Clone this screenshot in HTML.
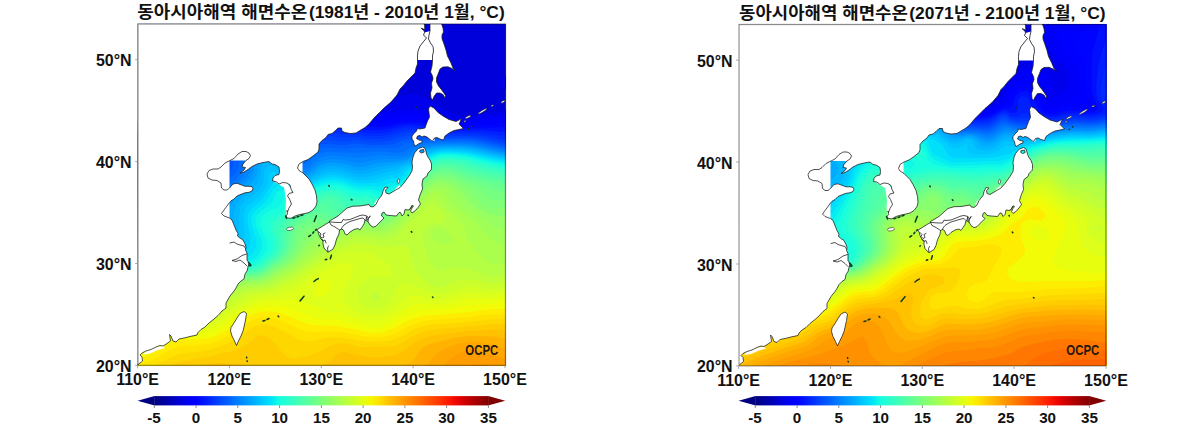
<!DOCTYPE html>
<html lang="ko"><head><meta charset="utf-8"><title>동아시아해역 해면수온</title>
<style>html,body{margin:0;padding:0;background:#fff}svg{display:block}text{font-family:"Liberation Sans","Noto Sans CJK KR",sans-serif;font-weight:bold;fill:#111}</style></head>
<body>
<svg width="1200" height="431" viewBox="0 0 1200 431">
<rect width="1200" height="431" fill="#fff"/>
<defs><clipPath id="cl"><rect x="137.5" y="23.7" width="368.4" height="341.7"/></clipPath><clipPath id="cr"><rect x="739.1" y="24.2" width="367.2" height="341.3"/></clipPath></defs>
<g clip-path="url(#cl)">
<rect x="137.5" y="23.7" width="368.4" height="341.7" fill="#0000da"/>
<g transform="scale(0.1)">
<path d="M5055 755l40-28 0 30 0 40 0 40 0 40 0 40 0 18-14-18-26-25-28-15-12-18-11-22 9-40 2-3 37-37zM2695 796l40-5 40 0 40 3 19 3 21 3 40 7 40 8 40 9 40 10 10 3 30 8 40 12 40 12 26 8 14 4 40 13 40 14 25 9 15 5 40 16 40 16 6 3 34 15 40 18 17 7 23 10 40 15 40 13 7 2 33 8 40 8 40 5 40 2 40-1 40-7 40-11 11-4 29-12 40-17 28-11 12-6 40-19 31-15 9-5 40-13 40-2 40 8 27 12 13 5 40 21 24 14 16 7 40 22 15 11 25 13 37 27 3 2 40 25 18 13 22 11 40 18 33 11 7 1 40 4 40-1 37-4 3 0 40-8 40-7 40-6 40-4 40-2 40-3 40-5 27-5 13-4 40-20 20-16 20-33 0 33 0 40 0 40 0 40 0 40 0 40 0 40 0 40 0 40 0 40 0 40 0 40 0 40 0 40 0 40 0 40 0 40 0 40 0 40 0 40 0 40 0 40 0 40 0 40 0 40 0 40 0 40 0 40 0 40 0 40 0 40 0 40 0 40 0 40 0 40 0 40 0 40 0 40 0 40 0 40 0 40 0 40 0 40 0 40 0 40 0 40 0 40 0 40 0 40 0 40 0 40 0 40 0 40 0 40 0 40 0 40 0 40 0 40 0 40 0 40 0 40 0 40 0 40 0 40 0 40 0 40-40 0-40 0-40 0-40 0-40 0-40 0-40 0-40 0-40 0-40 0-40 0-40 0-40 0-40 0-40 0-40 0-40 0-40 0-40 0-40 0-40 0-40 0-40 0-40 0-40 0-40 0-40 0-40 0-40 0-40 0-40 0-40 0-40 0-40 0-40 0-40 0-40 0-40 0-40 0-40 0-40 0-40 0-40 0-40 0-40 0-40 0-40 0-40 0-40 0-40 0-40 0-40 0-40 0-40 0-40 0-40 0-40 0-40 0-40 0-40 0-40 0-40 0-40 0-40 0-40 0-40 0-40 0-40 0-40 0-40 0-40 0-40 0-40 0-40 0-40 0-40 0-40 0-40 0-40 0-40 0-40 0-40 0-40 0-40 0-40 0-40 0-40 0-40 0-40 0-40 0-40 0-40 0-40 0-40 0 0-40 0-40 0-40 0-40 0-40 0-40 0-40 0-40 0-40 0-40 0-40 0-40 0-40 0-40 0-40 0-40 0-40 0-40 0-40 0-40 0-40 0-40 0-40 0-40 0-40 0-40 0-40 0-40 0-40 0-40 0-40 0-40 0-40 0-40 0-40 0-40 0-40 0-40 0-40 0-40 0-40 0-40 0-40 0-40 0-40 0-40 0-40 0-40 0-40 0-40 0-40 0-40 0-40 0-40 0-40 0-40 0-40 0-40 0-40 0-40 0-39 4-1 36-10 40-11 40-11 27-8 13-4 40-13 40-14 25-9 15-6 40-15 40-17 4-2 36-16 40-19 11-5 29-14 40-19 14-7 26-13 40-19 16-8 24-12 40-18 21-10 19-8 40-17 36-15 4-2 40-14 40-14 32-10 8-3 40-11 40-9 40-8 40-7 14-2 26-4 40-4 40-4 40-4 40-7 40-10 34-7z" fill="#0000ed"/>
<path d="M2655 871l40-9 40-5 40-1 40 4 40 5 40 8 17 4 23 5 40 11 40 11 40 12 2 1 38 12 40 13 40 14 3 1 37 12 40 14 38 14 2 1 40 14 40 16 22 9 18 7 40 16 40 17 1 0 39 14 40 13 40 12 5 1 35 7 40 7 40 4 40 2 40-1 40-5 40-9 17-5 23-8 40-6 40 2 40 5 40-3 40-9 40-5 40 1 40 5 40 10 23 8 17 5 40 14 40 17 7 4 33 12 40 14 40 11 16 3 24 3 40 1 40-1 40-3 2 0 38-5 40-6 40-6 40-5 40-4 40-3 40-4 40-6 3-1 37-10 40-17 0 27 0 40 0 40 0 40 0 40 0 40 0 40 0 40 0 40 0 40 0 40 0 40 0 40 0 40 0 40 0 40 0 40 0 40 0 40 0 40 0 40 0 40 0 40 0 40 0 40 0 40 0 40 0 40 0 40 0 40 0 40 0 40 0 40 0 40 0 40 0 40 0 40 0 40 0 40 0 40 0 40 0 40 0 40 0 40 0 40 0 40 0 40 0 40 0 40 0 40 0 40 0 40 0 40 0 40 0 40 0 40 0 40 0 40 0 40 0 40 0 40 0 40 0 40 0 40-40 0-40 0-40 0-40 0-40 0-40 0-40 0-40 0-40 0-40 0-40 0-40 0-40 0-40 0-40 0-40 0-40 0-40 0-40 0-40 0-40 0-40 0-40 0-40 0-40 0-40 0-40 0-40 0-40 0-40 0-40 0-40 0-40 0-40 0-40 0-40 0-40 0-40 0-40 0-40 0-40 0-40 0-40 0-40 0-40 0-40 0-40 0-40 0-40 0-40 0-40 0-40 0-40 0-40 0-40 0-40 0-40 0-40 0-40 0-40 0-40 0-40 0-40 0-40 0-40 0-40 0-40 0-40 0-40 0-40 0-40 0-40 0-40 0-40 0-40 0-40 0-40 0-40 0-40 0-40 0-40 0-40 0-40 0-40 0-40 0-40 0-40 0-40 0-40 0-40 0-40 0-40 0-40 0-40 0 0-40 0-40 0-40 0-40 0-40 0-40 0-40 0-40 0-40 0-40 0-40 0-40 0-40 0-40 0-40 0-40 0-40 0-40 0-40 0-40 0-40 0-40 0-40 0-40 0-40 0-40 0-40 0-40 0-40 0-40 0-40 0-40 0-40 0-40 0-40 0-40 0-40 0-40 0-40 0-40 0-40 0-40 0-40 0-40 0-40 0-40 0-40 0-40 0-40 0-40 0-40 0-40 0-40 0-40 0-40 0-40 0-40 0-40 0-34 26-6 14-3 40-9 40-10 40-11 23-7 17-5 40-13 40-14 19-8 21-8 40-17 33-15 7-3 40-19 35-18 5-2 40-21 31-17 9-5 40-21 26-14 14-8 40-21 22-11 18-9 40-19 25-12 15-7 40-17 40-15 2-1 38-13 40-13 40-11 13-3 27-6 40-8 40-6 40-5 40-4 40-4 40-5 11-2z" fill="#0000fa"/>
<path d="M2495 953l40-5 40-3 40-4 40-6 40-8 40-7 40-1 40 3 40 6 40 8 40 10 37 11 3 1 40 12 40 13 40 13 2 1 38 13 40 14 38 13 2 1 40 13 40 14 35 12 5 2 40 13 40 14 28 11 12 4 40 14 40 13 28 9 12 3 40 11 40 8 40 7 40 4 40 2 40 0 40-3 40-5 40-11 40-7 40-3 40 1 40-2 40-5 6 0 34-4 40 1 27 3 13 1 40 7 40 10 40 12 27 10 13 4 40 11 40 10 40 7 40 3 40 1 40-2 40-3 40-3 40-4 40-5 40-5 40-4 40-3 40-4 20-3 20-3 40-8 40-10 0 21 0 40 0 40 0 40 0 40 0 40 0 40 0 40 0 40 0 40 0 40 0 40 0 40 0 40 0 40 0 40 0 40 0 40 0 40 0 40 0 40 0 40 0 40 0 40 0 40 0 40 0 40 0 40 0 40 0 40 0 40 0 40 0 40 0 40 0 40 0 40 0 40 0 40 0 40 0 40 0 40 0 40 0 40 0 40 0 40 0 40 0 40 0 40 0 40 0 40 0 40 0 40 0 40 0 40 0 40 0 40 0 40 0 40 0 40 0 40 0 40 0 40 0 40-40 0-40 0-40 0-40 0-40 0-40 0-40 0-40 0-40 0-40 0-40 0-40 0-40 0-40 0-40 0-40 0-40 0-40 0-40 0-40 0-40 0-40 0-40 0-40 0-40 0-40 0-40 0-40 0-40 0-40 0-40 0-40 0-40 0-40 0-40 0-40 0-40 0-40 0-40 0-40 0-40 0-40 0-40 0-40 0-40 0-40 0-40 0-40 0-40 0-40 0-40 0-40 0-40 0-40 0-40 0-40 0-40 0-40 0-40 0-40 0-40 0-40 0-40 0-40 0-40 0-40 0-40 0-40 0-40 0-40 0-40 0-40 0-40 0-40 0-40 0-40 0-40 0-40 0-40 0-40 0-40 0-40 0-40 0-40 0-40 0-40 0-40 0-40 0-40 0-40 0-40 0-40 0-40 0-40 0 0-40 0-40 0-40 0-40 0-40 0-40 0-40 0-40 0-40 0-40 0-40 0-40 0-40 0-40 0-40 0-40 0-40 0-40 0-40 0-40 0-40 0-40 0-40 0-40 0-40 0-40 0-40 0-40 0-40 0-40 0-40 0-40 0-40 0-40 0-40 0-40 0-40 0-40 0-40 0-40 0-40 0-40 0-40 0-40 0-40 0-40 0-40 0-40 0-40 0-40 0-40 0-40 0-40 0-40 0-40 0-40 0-30 40-7 13-3 27-5 40-9 40-9 40-11 20-6 20-6 40-13 40-15 16-6 24-10 40-18 26-12 14-7 40-21 22-12 18-10 40-23 12-7 28-16 39-24 1 0 40-24 27-16 13-7 40-23 19-10 21-11 40-19 21-10 19-8 40-16 40-15 3-1 37-12 40-11 40-9 40-7 9-1z" fill="#0000ff"/>
<path d="M2655 995l40-7 40-7 40-2 40 3 40 6 40 9 40 11 40 11 40 13 13 5 27 9 40 13 40 14 11 4 29 9 40 13 40 13 14 5 26 8 40 12 40 12 24 8 16 5 40 12 40 11 40 12 40 10 40 10 40 8 40 5 40 3 40 1 40-1 40-3 40-6 40-9 40-9 40-6 40-2 15-1 25-2 40-2 40-1 40 3 17 2 23 3 40 7 40 9 40 10 39 11 1 0 40 9 40 7 40 4 40 2 40 0 40-2 40-2 40-2 40-2 40-3 40-3 40-4 40-2 32-2 8-1 40-6 40-6 40-6 0 19 0 40 0 40 0 40 0 40 0 40 0 40 0 40 0 40 0 40 0 40 0 40 0 40 0 40 0 40 0 40 0 40 0 40 0 40 0 40 0 40 0 40 0 40 0 40 0 40 0 40 0 40 0 40 0 40 0 40 0 40 0 40 0 40 0 40 0 40 0 40 0 40 0 40 0 40 0 40 0 40 0 40 0 40 0 40 0 40 0 40 0 40 0 40 0 40 0 40 0 40 0 40 0 40 0 40 0 40 0 40 0 40 0 40 0 40 0 40 0 40 0 40-40 0-40 0-40 0-40 0-40 0-40 0-40 0-40 0-40 0-40 0-40 0-40 0-40 0-40 0-40 0-40 0-40 0-40 0-40 0-40 0-40 0-40 0-40 0-40 0-40 0-40 0-40 0-40 0-40 0-40 0-40 0-40 0-40 0-40 0-40 0-40 0-40 0-40 0-40 0-40 0-40 0-40 0-40 0-40 0-40 0-40 0-40 0-40 0-40 0-40 0-40 0-40 0-40 0-40 0-40 0-40 0-40 0-40 0-40 0-40 0-40 0-40 0-40 0-40 0-40 0-40 0-40 0-40 0-40 0-40 0-40 0-40 0-40 0-40 0-40 0-40 0-40 0-40 0-40 0-40 0-40 0-40 0-40 0-40 0-40 0-40 0-40 0-40 0-40 0-40 0-40 0-40 0-40 0-40 0 0-40 0-40 0-40 0-40 0-40 0-40 0-40 0-40 0-40 0-40 0-40 0-40 0-40 0-40 0-40 0-40 0-40 0-40 0-40 0-40 0-40 0-40 0-40 0-40 0-40 0-40 0-40 0-40 0-40 0-40 0-40 0-40 0-40 0-40 0-40 0-40 0-40 0-40 0-40 0-40 0-40 0-40 0-40 0-40 0-40 0-40 0-40 0-40 0-40 0-40 0-40 0-40 0-40 0-40 0-28 40-6 39-6 1 0 40-7 40-8 40-9 40-11 19-5 21-6 40-13 40-15 14-6 26-11 40-18 21-11 19-10 40-22 13-8 27-16 37-24 3-2 40-27 16-11 24-16 36-24 4-2 40-26 19-12 21-12 40-23 8-5 32-16 40-19 11-5 29-12 40-15 40-13 1 0 39-10 40-9 40-7 40-4 40-4 40-3 25-3z" fill="#0004ff"/>
<path d="M2455 1076l40-7 40-6 40-4 40-3 40-4 40-5 40-6 40-3 40 2 40 6 40 9 40 11 33 11 7 2 40 13 40 14 32 11 8 3 40 12 40 13 40 12 40 11 40 11 40 11 24 7 16 4 40 10 40 10 40 9 29 7 11 2 40 9 40 8 40 8 40 4 40 2 40-1 40-2 40-4 40-6 40-9 40-10 5-1 35-7 40-5 40-2 40-1 40 2 40 4 40 6 14 3 26 5 40 7 40 9 40 9 40 8 15 2 25 3 40 3 40 0 40 0 40-2 40-1 40-1 40-1 40-1 4 0 36-1 40 0 40 1 40-1 40-4 40-6 40-4 0 15 0 40 0 40 0 40 0 40 0 40 0 40 0 40 0 40 0 40 0 40 0 40 0 40 0 40 0 40 0 40 0 40 0 40 0 40 0 40 0 40 0 40 0 40 0 40 0 40 0 40 0 40 0 40 0 40 0 40 0 40 0 40 0 40 0 40 0 40 0 40 0 40 0 40 0 40 0 40 0 40 0 40 0 40 0 40 0 40 0 40 0 40 0 40 0 40 0 40 0 40 0 40 0 40 0 40 0 40 0 40 0 40 0 40 0 40 0 40 0 40-40 0-40 0-40 0-40 0-40 0-40 0-40 0-40 0-40 0-40 0-40 0-40 0-40 0-40 0-40 0-40 0-40 0-40 0-40 0-40 0-40 0-40 0-40 0-40 0-40 0-40 0-40 0-40 0-40 0-40 0-40 0-40 0-40 0-40 0-40 0-40 0-40 0-40 0-40 0-40 0-40 0-40 0-40 0-40 0-40 0-40 0-40 0-40 0-40 0-40 0-40 0-40 0-40 0-40 0-40 0-40 0-40 0-40 0-40 0-40 0-40 0-40 0-40 0-40 0-40 0-40 0-40 0-40 0-40 0-40 0-40 0-40 0-40 0-40 0-40 0-40 0-40 0-40 0-40 0-40 0-40 0-40 0-40 0-40 0-40 0-40 0-40 0-40 0-40 0-40 0-40 0-40 0-40 0-40 0 0-40 0-40 0-40 0-40 0-40 0-40 0-40 0-40 0-40 0-40 0-40 0-40 0-40 0-40 0-40 0-40 0-40 0-40 0-40 0-40 0-40 0-40 0-40 0-40 0-40 0-40 0-40 0-40 0-40 0-40 0-40 0-40 0-40 0-40 0-40 0-40 0-40 0-40 0-40 0-40 0-40 0-40 0-40 0-40 0-40 0-40 0-40 0-40 0-40 0-40 0-40 0-40 0-28 40-5 40-5 15-2 25-4 40-6 40-7 40-9 40-9 17-5 23-7 40-12 40-15 15-6 25-11 40-19 19-10 21-11 40-24 7-5 33-22 25-18 15-11 39-29 1-1 40-30 11-9 29-22 25-18 15-11 40-27 3-2 37-23 30-17 10-5 40-20 33-15 7-3 40-15 40-13 38-9z" fill="#0010ff"/>
<path d="M2575 1113l40-3 40-3 40-4 40-5 40-4 40 2 40 6 40 10 18 5 22 7 40 13 40 14 19 6 21 7 40 13 40 12 28 8 12 3 40 10 40 10 40 10 30 7 10 2 40 9 40 9 40 7 40 6 40 7 1 0 39 7 40 7 40 8 40 3 40 0 40-1 40-2 40-5 40-7 40-9 2-1 38-11 40-9 40-6 40-3 40 2 40 3 40 5 40 7 40 7 28 5 12 2 40 7 40 7 40 6 40 4 40 2 40-1 40 0 40-2 40 0 40 0 40 0 40 1 40 2 40 4 40 4 38 4 2 0 40 1 13-1 27-3 40-7 0 10 0 40 0 40 0 40 0 40 0 40 0 40 0 40 0 40 0 40 0 40 0 40 0 40 0 40 0 40 0 40 0 40 0 40 0 40 0 40 0 40 0 40 0 40 0 40 0 40 0 40 0 40 0 40 0 40 0 40 0 40 0 40 0 40 0 40 0 40 0 40 0 40 0 40 0 40 0 40 0 40 0 40 0 40 0 40 0 40 0 40 0 40 0 40 0 40 0 40 0 40 0 40 0 40 0 40 0 40 0 40 0 40 0 40 0 40 0 40-40 0-40 0-40 0-40 0-40 0-40 0-40 0-40 0-40 0-40 0-40 0-40 0-40 0-40 0-40 0-40 0-40 0-40 0-40 0-40 0-40 0-40 0-40 0-40 0-40 0-40 0-40 0-40 0-40 0-40 0-40 0-40 0-40 0-40 0-40 0-40 0-40 0-40 0-40 0-40 0-40 0-40 0-40 0-40 0-40 0-40 0-40 0-40 0-40 0-40 0-40 0-40 0-40 0-40 0-40 0-40 0-40 0-40 0-40 0-40 0-40 0-40 0-40 0-40 0-40 0-40 0-40 0-40 0-40 0-40 0-40 0-40 0-40 0-40 0-40 0-40 0-40 0-40 0-40 0-40 0-40 0-40 0-40 0-40 0-40 0-40 0-40 0-40 0-40 0-40 0-40 0-40 0-40 0-40 0 0-40 0-40 0-40 0-40 0-40 0-40 0-40 0-40 0-40 0-40 0-40 0-40 0-40 0-40 0-40 0-40 0-40 0-40 0-40 0-40 0-40 0-40 0-40 0-40 0-40 0-40 0-40 0-40 0-40 0-40 0-40 0-40 0-40 0-40 0-40 0-40 0-40 0-40 0-40 0-40 0-40 0-40 0-40 0-40 0-40 0-40 0-40 0-40 0-40 0-40 0-32 40-3 40-4 11-1 29-3 40-5 40-6 40-6 40-8 40-9 12-3 28-7 40-13 40-14 16-6 24-10 40-19 20-11 20-11 40-26 5-3 35-26 18-14 22-18 26-22 14-12 31-28 9-8 37-32 3-2 40-33 6-5 34-26 20-14 20-13 40-24 5-3 35-18 40-18 9-4 31-11 40-12 40-10 40-7 3 0z" fill="#0020ff"/>
<path d="M2695 1157l40-4 40-4 40 1 40 7 1 0 39 10 40 13 40 14 10 3 30 11 40 13 40 12 14 4 26 7 40 9 40 8 40 8 40 8 1 0 39 7 40 8 40 7 40 5 40 3 40 4 40 5 6 1 34 6 40 7 40 2 40 1 40-1 40-3 40-5 35-7 5-1 40-10 40-11 40-11 32-7 8-1 40-3 40 3 7 1 33 4 40 6 40 6 40 5 40 6 40 7 40 6 2 0 38 4 40 3 40 1 40-1 40-1 40 0 40 0 40 0 40 2 40 3 40 4 40 6 40 7 40 8 28 4 12 1 40-1 40-9 0 9 0 40 0 40 0 40 0 40 0 40 0 40 0 40 0 40 0 40 0 40 0 40 0 40 0 40 0 40 0 40 0 40 0 40 0 40 0 40 0 40 0 40 0 40 0 40 0 40 0 40 0 40 0 40 0 40 0 40 0 40 0 40 0 40 0 40 0 40 0 40 0 40 0 40 0 40 0 40 0 40 0 40 0 40 0 40 0 40 0 40 0 40 0 40 0 40 0 40 0 40 0 40 0 40 0 40 0 40 0 40 0 40 0 40 0 40-40 0-40 0-40 0-40 0-40 0-40 0-40 0-40 0-40 0-40 0-40 0-40 0-40 0-40 0-40 0-40 0-40 0-40 0-40 0-40 0-40 0-40 0-40 0-40 0-40 0-40 0-40 0-40 0-40 0-40 0-40 0-40 0-40 0-40 0-40 0-40 0-40 0-40 0-40 0-40 0-40 0-40 0-40 0-40 0-40 0-40 0-40 0-40 0-40 0-40 0-40 0-40 0-40 0-40 0-40 0-40 0-40 0-40 0-40 0-40 0-40 0-40 0-40 0-40 0-40 0-40 0-40 0-40 0-40 0-40 0-40 0-40 0-40 0-40 0-40 0-40 0-40 0-40 0-40 0-40 0-40 0-40 0-40 0-40 0-40 0-40 0-40 0-40 0-40 0-40 0-40 0-40 0-40 0-40 0 0-40 0-40 0-40 0-40 0-40 0-40 0-40 0-40 0-40 0-40 0-40 0-40 0-40 0-40 0-40 0-40 0-40 0-40 0-40 0-40 0-40 0-40 0-40 0-40 0-40 0-40 0-40 0-40 0-40 0-40 0-40 0-40 0-40 0-40 0-40 0-40 0-40 0-40 0-40 0-40 0-40 0-40 0-40 0-40 0-40 0-40 0-40 0-40 0-39 25-1 15-1 40-3 40-3 40-3 40-5 40-5 40-5 40-7 39-8 1 0 40-10 40-11 40-13 15-6 25-10 40-19 22-11 18-10 40-26 6-4 34-26 15-14 25-22 18-18 22-22 17-18 23-23 15-17 25-24 16-16 24-22 20-18 20-16 31-24 9-6 40-26 13-8 27-14 40-18 20-8 20-7 40-12 40-8 40-6 40-3 40-2 32-2z" fill="#002cff"/>
<path d="M2495 1232l40-10 40-7 40-4 40-3 40-1 40-2 40-2 40 1 40 7 40 10 40 14 5 2 35 13 40 15 36 12 4 1 40 11 40 8 40 6 40 6 40 5 16 3 24 3 40 7 40 6 40 6 40 3 40 0 40 0 40 3 40 6 36 6 4 1 40 3 40 1 40-1 40-3 9-1 31-4 40-7 40-11 40-12 19-6 21-6 40-9 40-2 40 3 40 6 40 5 23 3 17 2 40 4 40 5 40 4 40 5 40 4 40 2 40 0 40-1 40-1 40 0 40 0 40 2 40 4 40 5 33 5 7 1 40 7 40 8 40 9 40 8 40-1 40-8 0 16 0 40 0 40 0 40 0 40 0 40 0 40 0 40 0 40 0 40 0 40 0 40 0 40 0 40 0 40 0 40 0 40 0 40 0 40 0 40 0 40 0 40 0 40 0 40 0 40 0 40 0 40 0 40 0 40 0 40 0 40 0 40 0 40 0 40 0 40 0 40 0 40 0 40 0 40 0 40 0 40 0 40 0 40 0 40 0 40 0 40 0 40 0 40 0 40 0 40 0 40 0 40 0 40 0 40 0 40 0 40 0 40 0 40-40 0-40 0-40 0-40 0-40 0-40 0-40 0-40 0-40 0-40 0-40 0-40 0-40 0-40 0-40 0-40 0-40 0-40 0-40 0-40 0-40 0-40 0-40 0-40 0-40 0-40 0-40 0-40 0-40 0-40 0-40 0-40 0-40 0-40 0-40 0-40 0-40 0-40 0-40 0-40 0-40 0-40 0-40 0-40 0-40 0-40 0-40 0-40 0-40 0-40 0-40 0-40 0-40 0-40 0-40 0-40 0-40 0-40 0-40 0-40 0-40 0-40 0-40 0-40 0-40 0-40 0-40 0-40 0-40 0-40 0-40 0-40 0-40 0-40 0-40 0-40 0-40 0-40 0-40 0-40 0-40 0-40 0-40 0-40 0-40 0-40 0-40 0-40 0-40 0-40 0-40 0-40 0-40 0-40 0 0-40 0-40 0-40 0-40 0-40 0-40 0-40 0-40 0-40 0-40 0-40 0-40 0-40 0-40 0-40 0-40 0-40 0-40 0-40 0-40 0-40 0-40 0-40 0-40 0-40 0-40 0-40 0-40 0-40 0-40 0-40 0-40 0-40 0-40 0-40 0-40 0-40 0-40 0-40 0-40 0-40 0-40 0-40 0-40 0-40 0-40 0-40 0-9 40-1 40-2 40-2 40-3 40-3 40-3 40-5 40-5 40-6 7-1 33-6 40-9 40-11 40-12 5-2 35-13 40-17 19-10 21-11 40-25 6-4 34-26 16-14 24-23 16-17 24-28 9-12 31-38 1-2 32-40 7-7 28-33 12-12 28-28 12-11 35-29 5-3 40-28 16-9 24-13 40-18 25-9z" fill="#0038ff"/>
<path d="M2535 1272l40-9 40-5 40-2 40 0 40-1 40 0 40 2 40 7 40 12 3 1 37 14 40 17 23 9 17 7 40 13 40 8 40 5 40 2 40 3 30 2 10 1 40 4 40 5 40 5 40 5 40 1 40-2 40-3 40 0 40 5 40 7 40 4 40 1 40 0 40-2 40-4 40-7 40-11 27-9 13-4 40-13 40-10 40-2 40 3 40 5 40 4 40 3 40 3 40 4 40 3 40 4 40 3 40 2 40-1 40-1 40-1 40 0 40 1 40 2 40 4 40 6 40 8 40 8 37 9 3 1 40 8 40 7 40 1 40-6 0 29 0 40 0 40 0 40 0 40 0 40 0 40 0 40 0 40 0 40 0 40 0 40 0 40 0 40 0 40 0 40 0 40 0 40 0 40 0 40 0 40 0 40 0 40 0 40 0 40 0 40 0 40 0 40 0 40 0 40 0 40 0 40 0 40 0 40 0 40 0 40 0 40 0 40 0 40 0 40 0 40 0 40 0 40 0 40 0 40 0 40 0 40 0 40 0 40 0 40 0 40 0 40 0 40 0 40 0 40 0 40 0 40-40 0-40 0-40 0-40 0-40 0-40 0-40 0-40 0-40 0-40 0-40 0-40 0-40 0-40 0-40 0-40 0-40 0-40 0-40 0-40 0-40 0-40 0-40 0-40 0-40 0-40 0-40 0-40 0-40 0-40 0-40 0-40 0-40 0-40 0-40 0-40 0-40 0-40 0-40 0-40 0-40 0-40 0-40 0-40 0-40 0-40 0-40 0-40 0-40 0-40 0-40 0-40 0-40 0-40 0-40 0-40 0-40 0-40 0-40 0-40 0-40 0-40 0-40 0-40 0-40 0-40 0-40 0-40 0-40 0-40 0-40 0-40 0-40 0-40 0-40 0-40 0-40 0-40 0-40 0-40 0-40 0-40 0-40 0-40 0-40 0-40 0-40 0-40 0-40 0-40 0-40 0-40 0-40 0-40 0 0-40 0-40 0-40 0-40 0-40 0-40 0-40 0-40 0-40 0-40 0-40 0-40 0-40 0-40 0-40 0-40 0-40 0-40 0-40 0-40 0-40 0-40 0-40 0-40 0-40 0-40 0-40 0-40 0-40 0-40 0-40 0-40 0-40 0-40 0-40 0-40 0-40 0-40 0-40 0-40 0-40 0-40 0-40 0-40 0-40 0-22 40-1 40-1 40-2 40-1 40-2 40-3 40-3 40-3 14-2 26-3 40-6 40-7 40-8 40-11 18-5 22-7 40-14 40-17 4-2 36-18 40-22 40-28 16-12 24-22 18-18 22-27 9-13 25-40 6-9 19-31 21-31 6-9 30-40 4-4 31-36 9-8 35-32 5-4 40-28 13-8 27-15 40-17 24-8z" fill="#0044ff"/>
<path d="M2575 1311l40-7 40-2 40 0 40 1 40 2 40 4 39 8 1 0 40 14 40 18 17 8 23 12 40 18 35 10 5 2 40 5 40-1 40-2 40-2 40 0 40 3 40 4 40 4 40 3 40 0 40-3 40-5 40-3 40 5 40 7 40 4 40 1 40 0 40-1 40-3 40-5 40-10 8-3 32-10 40-15 40-10 40-3 40 2 40 3 40 2 40 1 40 1 40 2 40 2 40 2 40 2 40 2 40-1 40-2 40-1 40 0 40 2 40 3 40 6 40 8 21 4 19 4 40 7 40 9 40 10 40 8 40 1 40-5 0 6 0 40 0 40 0 40 0 40 0 40 0 40 0 40 0 40 0 40 0 40 0 40 0 40 0 40 0 40 0 40 0 40 0 40 0 40 0 40 0 40 0 40 0 40 0 40 0 40 0 40 0 40 0 40 0 40 0 40 0 40 0 40 0 40 0 40 0 40 0 40 0 40 0 40 0 40 0 40 0 40 0 40 0 40 0 40 0 40 0 40 0 40 0 40 0 40 0 40 0 40 0 40 0 40 0 40 0 40 0 40 0 40-40 0-40 0-40 0-40 0-40 0-40 0-40 0-40 0-40 0-40 0-40 0-40 0-40 0-40 0-40 0-40 0-40 0-40 0-40 0-40 0-40 0-40 0-40 0-40 0-40 0-40 0-40 0-40 0-40 0-40 0-40 0-40 0-40 0-40 0-40 0-40 0-40 0-40 0-40 0-40 0-40 0-40 0-40 0-40 0-40 0-40 0-40 0-40 0-40 0-40 0-40 0-40 0-40 0-40 0-40 0-40 0-40 0-40 0-40 0-40 0-40 0-40 0-40 0-40 0-40 0-40 0-40 0-40 0-40 0-40 0-40 0-40 0-40 0-40 0-40 0-40 0-40 0-40 0-40 0-40 0-40 0-40 0-40 0-40 0-40 0-40 0-40 0-40 0-40 0-40 0-40 0-40 0-40 0-40 0 0-40 0-40 0-40 0-40 0-40 0-40 0-40 0-40 0-40 0-40 0-40 0-40 0-40 0-40 0-40 0-40 0-40 0-40 0-40 0-40 0-40 0-40 0-40 0-40 0-40 0-40 0-40 0-40 0-40 0-40 0-40 0-40 0-40 0-40 0-40 0-40 0-40 0-40 0-40 0-40 0-40 0-40 0-40 0-39 40-1 27 0 13 0 40-1 40-1 40-1 40-2 40-2 40-3 40-3 40-5 40-5 40-7 40-8 6-2 34-9 40-13 40-14 8-4 32-14 40-20 11-6 29-16 39-24 1-1 40-29 13-10 27-26 13-14 24-40 3-6 14-34 19-40 7-13 14-27 26-40 31-40 9-10 30-30 10-8 40-30 4-2 36-19 40-16 17-5z" fill="#0050ff"/>
<path d="M2615 1349l40-4 40 1 40 3 40 4 22 4 18 3 40 11 40 17 17 9 23 13 40 25 3 2 37 21 40 11 40-2 40-8 40-10 40-7 40-3 40 1 40 4 40 3 40 2 40 0 40-3 40-6 24-3 16-1 21 1 19 2 40 6 40 4 40 1 40-1 40 0 40-1 40-3 40-6 7-2 33-11 40-18 35-11 5-1 40-3 40 0 40-1 40-1 40-2 40-1 40 1 40 1 40 1 40 1 40 1 40-1 40-1 40-1 40 0 40 3 40 4 2 0 38 6 40 7 40 8 40 9 40 10 1 0 39 9 40 6 40 2 40-3 0 26 0 40 0 40 0 40 0 40 0 40 0 40 0 40 0 40 0 40 0 40 0 40 0 40 0 40 0 40 0 40 0 40 0 40 0 40 0 40 0 40 0 40 0 40 0 40 0 40 0 40 0 40 0 40 0 40 0 40 0 40 0 40 0 40 0 40 0 40 0 40 0 40 0 40 0 40 0 40 0 40 0 40 0 40 0 40 0 40 0 40 0 40 0 40 0 40 0 40 0 40 0 40 0 40 0 40 0 40 0 40-40 0-40 0-40 0-40 0-40 0-40 0-40 0-40 0-40 0-40 0-40 0-40 0-40 0-40 0-40 0-40 0-40 0-40 0-40 0-40 0-40 0-40 0-40 0-40 0-40 0-40 0-40 0-40 0-40 0-40 0-40 0-40 0-40 0-40 0-40 0-40 0-40 0-40 0-40 0-40 0-40 0-40 0-40 0-40 0-40 0-40 0-40 0-40 0-40 0-40 0-40 0-40 0-40 0-40 0-40 0-40 0-40 0-40 0-40 0-40 0-40 0-40 0-40 0-40 0-40 0-40 0-40 0-40 0-40 0-40 0-40 0-40 0-40 0-40 0-40 0-40 0-40 0-40 0-40 0-40 0-40 0-40 0-40 0-40 0-40 0-40 0-40 0-40 0-40 0-40 0-40 0-40 0-40 0-40 0 0-40 0-40 0-40 0-40 0-40 0-40 0-40 0-40 0-40 0-40 0-40 0-40 0-40 0-40 0-40 0-40 0-40 0-40 0-40 0-40 0-40 0-40 0-40 0-40 0-40 0-40 0-40 0-40 0-40 0-40 0-40 0-40 0-40 0-40 0-40 0-40 0-40 0-40 0-40 0-40 0-40 0-40 0-19 40-1 40 0 40 0 40-1 40-1 40-1 40-1 40-2 40-3 40-3 40-4 28-4 12-2 40-7 40-9 40-11 32-11 8-3 40-17 40-19 2-1 38-21 33-19 7-4 40-26 16-10 24-17 33-23 7-6 39-34 1-1 25-39 9-40 6-20 5-20 15-40 20-38 1-2 25-40 14-16 21-24 19-17 31-23 9-6 40-20 40-14 1 0z" fill="#0060ff"/>
<path d="M2615 1392l40-4 40 0 40 4 26 5 14 3 40 10 40 14 24 13 16 10 40 30 1 0 39 36 6 4 34 28 40 10 40-17 38-21 2-1 40-18 40-12 40-6 40-1 40 3 40 3 40 2 40 0 40-2 40-4 40-3 40 1 40 2 40 2 40-1 40-1 40 0 40 1 40 1 40 0 40-4 4-2 36-18 36-22 4-1 40-3 40-5 40-7 40-6 40-5 40-3 40-1 40 0 40 0 40 0 40 1 40-1 40-1 40 0 40 0 40 3 40 4 40 7 40 8 40 9 4 1 36 7 40 9 40 9 40 7 40 2 40-2 0 8 0 40 0 40 0 40 0 40 0 40 0 40 0 40 0 40 0 40 0 40 0 40 0 40 0 40 0 40 0 40 0 40 0 40 0 40 0 40 0 40 0 40 0 40 0 40 0 40 0 40 0 40 0 40 0 40 0 40 0 40 0 40 0 40 0 40 0 40 0 40 0 40 0 40 0 40 0 40 0 40 0 40 0 40 0 40 0 40 0 40 0 40 0 40 0 40 0 40 0 40 0 40 0 40 0 40 0 40 0 40-40 0-40 0-40 0-40 0-40 0-40 0-40 0-40 0-40 0-40 0-40 0-40 0-40 0-40 0-40 0-40 0-40 0-40 0-40 0-40 0-40 0-40 0-40 0-40 0-40 0-40 0-40 0-40 0-40 0-40 0-40 0-40 0-40 0-40 0-40 0-40 0-40 0-40 0-40 0-40 0-40 0-40 0-40 0-40 0-40 0-40 0-40 0-40 0-40 0-40 0-40 0-40 0-40 0-40 0-40 0-40 0-40 0-40 0-40 0-40 0-40 0-40 0-40 0-40 0-40 0-40 0-40 0-40 0-40 0-40 0-40 0-40 0-40 0-40 0-40 0-40 0-40 0-40 0-40 0-40 0-40 0-40 0-40 0-40 0-40 0-40 0-40 0-40 0-40 0-40 0-40 0-40 0-40 0-40 0 0-40 0-40 0-40 0-40 0-40 0-40 0-40 0-40 0-40 0-40 0-40 0-40 0-40 0-40 0-40 0-40 0-40 0-40 0-40 0-40 0-40 0-40 0-40 0-40 0-40 0-40 0-40 0-40 0-40 0-40 0-40 0-40 0-40 0-40 0-40 0-40 0-40 0-40 0-40 0-40 0-40 0-2 40-1 40 0 40 0 40 0 40-1 40-1 40-1 40-1 40-2 40-3 40-3 40-5 40-6 40-7 28-7 12-3 40-13 40-15 19-9 21-10 40-22 12-8 28-17 33-23 7-4 40-28 12-8 28-20 28-20 12-9 35-31 5-5 28-35 12-25 6-15 9-40 9-40 15-40 1-2 19-38 21-29 9-11 31-30 14-10 26-17 40-17 22-6z" fill="#006cff"/>
<path d="M2615 1434l40-6 40 0 40 6 14 3 26 6 40 15 38 19 2 1 40 29 11 10 29 31 8 9 32 40 40 37 16 3 24 3 5-3 35-27 12-13 28-25 22-15 18-11 40-17 40-8 40-3 40 1 40 3 40 3 40 2 40 1 40 0 40-1 40-1 40-2 40-3 40-4 5 0 35-3 40 0 38 3 2 0 40 4 40 4 40 2 40-2 25-8 15-10 40-22 14-8 26-12 40-15 40-11 8-2 32-6 40-6 40-2 40-1 40-2 40 0 40 0 40 0 40-1 40 0 40 1 40 3 40 5 40 7 10 2 30 6 40 9 40 8 40 9 33 8 7 1 40 7 40 2 40-1 0 31 0 40 0 40 0 40 0 40 0 40 0 40 0 40 0 40 0 40 0 40 0 40 0 40 0 40 0 40 0 40 0 40 0 40 0 40 0 40 0 40 0 40 0 40 0 40 0 40 0 40 0 40 0 40 0 40 0 40 0 40 0 40 0 40 0 40 0 40 0 40 0 40 0 40 0 40 0 40 0 40 0 40 0 40 0 40 0 40 0 40 0 40 0 40 0 40 0 40 0 40 0 40 0 40 0 40 0 40-40 0-40 0-40 0-40 0-40 0-40 0-40 0-40 0-40 0-40 0-40 0-40 0-40 0-40 0-40 0-40 0-40 0-40 0-40 0-40 0-40 0-40 0-40 0-40 0-40 0-40 0-40 0-40 0-40 0-40 0-40 0-40 0-40 0-40 0-40 0-40 0-40 0-40 0-40 0-40 0-40 0-40 0-40 0-40 0-40 0-40 0-40 0-40 0-40 0-40 0-40 0-40 0-40 0-40 0-40 0-40 0-40 0-40 0-40 0-40 0-40 0-40 0-40 0-40 0-40 0-40 0-40 0-40 0-40 0-40 0-40 0-40 0-40 0-40 0-40 0-40 0-40 0-40 0-40 0-40 0-40 0-40 0-40 0-40 0-40 0-40 0-40 0-40 0-40 0-40 0-40 0-40 0-40 0-40 0 0-40 0-40 0-40 0-40 0-40 0-40 0-40 0-40 0-40 0-40 0-40 0-40 0-40 0-40 0-40 0-40 0-40 0-40 0-40 0-40 0-40 0-40 0-40 0-40 0-40 0-40 0-40 0-40 0-40 0-40 0-40 0-40 0-40 0-40 0-40 0-40 0-40 0-40 0-40 0-29 40 0 40 0 40-1 40 0 40 0 40-1 40-1 40-1 40-2 40-2 40-3 5 0 35-3 40-5 40-7 40-8 40-10 20-7 20-7 40-18 28-15 12-7 40-26 9-7 31-23 22-17 18-14 34-26 6-5 40-30 6-5 34-28 13-12 27-28 11-12 26-40 3-7 12-33 10-40 11-40 7-18 9-22 24-40 7-8 33-32 7-6 40-23 32-11z" fill="#0078ff"/>
<path d="M4415 1435l40-1 40 0 40-1 40-1 40 0 40 2 33 3 7 1 40 5 40 7 40 8 40 9 40 9 5 1 35 8 40 8 40 7 40 3 40 0 0 14 0 40 0 40 0 40 0 40 0 40 0 40 0 40 0 40 0 40 0 40 0 40 0 40 0 40 0 40 0 40 0 40 0 40 0 40 0 40 0 40 0 40 0 40 0 40 0 40 0 40 0 40 0 40 0 40 0 40 0 40 0 40 0 40 0 40 0 40 0 40 0 40 0 40 0 40 0 40 0 40 0 40 0 40 0 40 0 40 0 40 0 40 0 40 0 40 0 40 0 40 0 40 0 40 0 40 0 40-40 0-40 0-40 0-40 0-40 0-40 0-40 0-40 0-40 0-40 0-40 0-40 0-40 0-40 0-40 0-40 0-40 0-40 0-40 0-40 0-40 0-40 0-40 0-40 0-40 0-40 0-40 0-40 0-40 0-40 0-40 0-40 0-40 0-40 0-40 0-40 0-40 0-40 0-40 0-40 0-40 0-40 0-40 0-40 0-40 0-40 0-40 0-40 0-40 0-40 0-40 0-40 0-40 0-40 0-40 0-40 0-40 0-40 0-40 0-40 0-40 0-40 0-40 0-40 0-40 0-40 0-40 0-40 0-40 0-40 0-40 0-40 0-40 0-40 0-40 0-40 0-40 0-40 0-40 0-40 0-40 0-40 0-40 0-40 0-40 0-40 0-40 0-40 0-40 0-40 0-40 0-40 0-40 0-40 0 0-40 0-40 0-40 0-40 0-40 0-40 0-40 0-40 0-40 0-40 0-40 0-40 0-40 0-40 0-40 0-40 0-40 0-40 0-40 0-40 0-40 0-40 0-40 0-40 0-40 0-40 0-40 0-40 0-40 0-40 0-40 0-40 0-40 0-40 0-40 0-40 0-40 0-40 0-18 40-1 40 0 40-1 40 0 40-1 40-1 40 0 40-2 40-1 40-2 40-2 40-3 40-4 33-4 7-1 40-7 40-8 40-11 34-13 6-2 40-20 28-18 12-8 40-32 40-35 5-5 35-31 9-9 31-26 17-14 23-19 23-21 17-16 23-24 17-19 17-21 23-39 0-1 13-40 10-40 13-40 4-9 16-31 24-31 9-9 31-23 37-17 3-1 40-8 40-1 40 6 13 4 27 8 40 19 22 13 18 13 30 27 10 10 26 30 14 17 19 23 21 22 22 18 18 10 40 2 21-12 19-14 26-26 14-15 30-25 10-8 40-19 40-10 31-3 9-1 40 0 9 1 31 2 40 4 40 4 40 5 40 4 40 2 40-2 40-5 40-7 40-7 40-5 40-1 40 2 40 3 7 1 33 3 40 1 40-1 19-3 21-5 40-21 19-14 21-15 40-24 2-1 38-16 40-11 40-7 40-4 40-2z" fill="#0084ff"/>
<path d="M4255 1469l40-10 40-5 40-4 40-3 40-1 40 0 40-1 40 0 40 1 40 2 40 3 40 6 40 7 40 9 18 4 22 5 40 8 40 9 40 9 40 7 28 2 12 1 40 1 0 38 0 40 0 40 0 40 0 40 0 40 0 40 0 40 0 40 0 40 0 40 0 40 0 40 0 40 0 40 0 40 0 40 0 40 0 40 0 40 0 40 0 40 0 40 0 40 0 40 0 40 0 40 0 40 0 40 0 40 0 40 0 40 0 40 0 40 0 40 0 40 0 40 0 40 0 40 0 40 0 40 0 40 0 40 0 40 0 40 0 40 0 40 0 40 0 40 0 40 0 40 0 40 0 40 0 40-40 0-40 0-40 0-40 0-40 0-40 0-40 0-40 0-40 0-40 0-40 0-40 0-40 0-40 0-40 0-40 0-40 0-40 0-40 0-40 0-40 0-40 0-40 0-40 0-40 0-40 0-40 0-40 0-40 0-40 0-40 0-40 0-40 0-40 0-40 0-40 0-40 0-40 0-40 0-40 0-40 0-40 0-40 0-40 0-40 0-40 0-40 0-40 0-40 0-40 0-40 0-40 0-40 0-40 0-40 0-40 0-40 0-40 0-40 0-40 0-40 0-40 0-40 0-40 0-40 0-40 0-40 0-40 0-40 0-40 0-40 0-40 0-40 0-40 0-40 0-40 0-40 0-40 0-40 0-40 0-40 0-40 0-40 0-40 0-40 0-40 0-40 0-40 0-40 0-40 0-40 0-40 0-40 0-40 0 0-40 0-40 0-40 0-40 0-40 0-40 0-40 0-40 0-40 0-40 0-40 0-40 0-40 0-40 0-40 0-40 0-40 0-40 0-40 0-40 0-40 0-40 0-40 0-40 0-40 0-40 0-40 0-40 0-40 0-40 0-40 0-40 0-40 0-40 0-40 0-40 0-40 0-10 40-2 40-1 40 0 40-1 40-1 40-1 40-1 40-1 40-1 40-2 40-2 40-2 40-3 40-4 40-4 24-4 16-3 40-8 40-12 40-15 3-2 37-20 26-20 14-11 29-29 11-11 26-29 14-14 24-26 16-15 26-25 14-12 30-28 10-9 30-31 10-10 27-30 13-15 20-25 20-40 0-1 11-39 10-40 16-40 3-6 24-34 16-16 40-24 40-11 40-1 40 6 16 6 24 9 40 22 12 9 28 22 18 18 22 24 13 16 27 29 10 11 30 25 26 15 14 5 40 0 13-5 27-16 29-24 11-11 30-29 10-8 40-20 40-12 4 0 36-5 40 0 40 3 16 2 24 3 40 6 40 8 40 8 40 6 40-2 40-8 40-10 40-9 11-2 29-5 40-4 40 0 40 1 40 0 40-1 40-3 40-7 40-15 8-6 32-25 21-15 19-13 40-21 16-6z" fill="#0090ff"/>
<path d="M4295 1476l40-8 40-5 40-3 40-2 40 0 40-1 40 1 40 1 40 2 40 4 40 6 30 6 10 2 40 8 40 9 40 9 40 9 16 3 24 5 40 6 40 4 40 2 0 23 0 40 0 40 0 40 0 40 0 40 0 40 0 40 0 40 0 40 0 40 0 40 0 40 0 40 0 40 0 40 0 40 0 40 0 40 0 40 0 40 0 40 0 40 0 40 0 40 0 40 0 40 0 40 0 40 0 40 0 40 0 40 0 40 0 40 0 40 0 40 0 40 0 40 0 40 0 40 0 40 0 40 0 40 0 40 0 40 0 40 0 40 0 40 0 40 0 40 0 40 0 40 0 40 0 40-40 0-40 0-40 0-40 0-40 0-40 0-40 0-40 0-40 0-40 0-40 0-40 0-40 0-40 0-40 0-40 0-40 0-40 0-40 0-40 0-40 0-40 0-40 0-40 0-40 0-40 0-40 0-40 0-40 0-40 0-40 0-40 0-40 0-40 0-40 0-40 0-40 0-40 0-40 0-40 0-40 0-40 0-40 0-40 0-40 0-40 0-40 0-40 0-40 0-40 0-40 0-40 0-40 0-40 0-40 0-40 0-40 0-40 0-40 0-40 0-40 0-40 0-40 0-40 0-40 0-40 0-40 0-40 0-40 0-40 0-40 0-40 0-40 0-40 0-40 0-40 0-40 0-40 0-40 0-40 0-40 0-40 0-40 0-40 0-40 0-40 0-40 0-40 0-40 0-40 0-40 0-40 0-40 0-40 0 0-40 0-40 0-40 0-40 0-40 0-40 0-40 0-40 0-40 0-40 0-40 0-40 0-40 0-40 0-40 0-40 0-40 0-40 0-40 0-40 0-40 0-40 0-40 0-40 0-40 0-40 0-40 0-40 0-40 0-40 0-40 0-40 0-40 0-40 0-40 0-40 0-5 40-2 40-2 40-1 40-1 40-1 40 0 40-1 40-2 40-1 40-1 40-1 40-2 40-2 40-3 40-3 40-4 40-5 15-3 25-5 40-10 40-16 17-9 23-15 28-25 12-12 22-28 18-23 11-17 29-38 1-2 36-40 3-3 39-37 1-1 39-39 1-1 35-39 5-6 32-34 8-10 22-30 16-40 2-6 7-34 11-40 20-40 2-3 40-35 5-2 35-13 40-3 40 8 21 8 19 8 40 26 8 6 32 29 10 11 30 31 8 9 32 30 12 10 28 17 40 14 40-1 40-16 23-14 17-14 31-26 9-8 40-24 27-8 13-4 40-6 40 0 40 3 40 5 8 2 32 6 40 10 40 9 40 7 40 0 40-7 40-10 40-11 17-4 23-5 40-6 40-4 40-2 40-2 40-5 40-5 40-7 11-4 29-11 40-27 3-2 37-28 18-12 22-13 40-17 35-10z" fill="#00a0ff"/>
<path d="M4375 1477l40-5 40-2 40 0 40 0 40 0 40 2 40 3 22 2 18 2 40 6 40 8 40 8 40 9 30 7 10 2 40 9 40 7 40 7 40 4 40 3 0 8 0 40 0 40 0 40 0 40 0 40 0 40 0 40 0 40 0 40 0 40 0 40 0 40 0 40 0 40 0 40 0 40 0 40 0 40 0 40 0 40 0 40 0 40 0 40 0 40 0 40 0 40 0 40 0 40 0 40 0 40 0 40 0 40 0 40 0 40 0 40 0 40 0 40 0 40 0 40 0 40 0 40 0 40 0 40 0 40 0 40 0 40 0 40 0 40 0 40 0 40 0 40 0 40 0 40-40 0-40 0-40 0-40 0-40 0-40 0-40 0-40 0-40 0-40 0-40 0-40 0-40 0-40 0-40 0-40 0-40 0-40 0-40 0-40 0-40 0-40 0-40 0-40 0-40 0-40 0-40 0-40 0-40 0-40 0-40 0-40 0-40 0-40 0-40 0-40 0-40 0-40 0-40 0-40 0-40 0-40 0-40 0-40 0-40 0-40 0-40 0-40 0-40 0-40 0-40 0-40 0-40 0-40 0-40 0-40 0-40 0-40 0-40 0-40 0-40 0-40 0-40 0-40 0-40 0-40 0-40 0-40 0-40 0-40 0-40 0-40 0-40 0-40 0-40 0-40 0-40 0-40 0-40 0-40 0-40 0-40 0-40 0-40 0-40 0-40 0-40 0-40 0-40 0-40 0-40 0-40 0-40 0-40 0 0-40 0-40 0-40 0-40 0-40 0-40 0-40 0-40 0-40 0-40 0-40 0-40 0-40 0-40 0-40 0-40 0-40 0-40 0-40 0-40 0-40 0-40 0-40 0-40 0-40 0-40 0-40 0-40 0-40 0-40 0-40 0-40 0-40 0-40 0-40 0-2 40-3 40-2 40-1 40-1 40-1 40-1 40-1 40-1 40-1 40-1 40 0 40-1 40-2 40-1 40-1 40-2 40-3 40-4 40-5 33-6 7-2 40-12 40-21 6-5 34-37 2-3 21-40 17-35 2-5 21-40 17-24 11-16 29-31 10-9 30-28 13-12 27-29 10-11 30-33 7-7 33-36 3-4 20-40 12-40 5-30 2-10 13-40 25-33 11-7 29-14 40-5 40 8 26 11 14 7 40 28 5 5 35 32 7 8 33 31 10 9 30 23 29 17 11 5 40 10 40-2 40-13 40-24 25-16 15-12 40-23 13-5 27-9 40-7 40-1 40 2 40 7 36 8 4 1 40 10 40 10 40 7 40 1 40-5 40-9 40-11 16-4 24-7 40-8 40-6 40-4 40-6 40-8 3-1 37-9 40-9 40-13 16-9 24-16 33-24 7-6 40-26 14-8 26-12 40-14 40-9 38-5z" fill="#00acff"/>
<path d="M4295 1506l40-10 40-7 40-5 40-2 40-1 40 1 40 1 40 2 40 3 40 5 40 6 40 8 40 9 7 1 33 7 40 9 40 9 40 7 40 6 15 2 25 3 40 4 0 33 0 40 0 40 0 40 0 40 0 40 0 40 0 40 0 40 0 40 0 40 0 40 0 40 0 40 0 40 0 40 0 40 0 40 0 40 0 40 0 40 0 40 0 40 0 40 0 40 0 40 0 40 0 40 0 40 0 40 0 40 0 40 0 40 0 40 0 40 0 40 0 40 0 40 0 40 0 40 0 40 0 40 0 40 0 40 0 40 0 40 0 40 0 40 0 40 0 40 0 40 0 40 0 40-40 0-40 0-40 0-40 0-40 0-40 0-40 0-40 0-40 0-40 0-40 0-40 0-40 0-40 0-40 0-40 0-40 0-40 0-40 0-40 0-40 0-40 0-40 0-40 0-40 0-40 0-40 0-40 0-40 0-40 0-40 0-40 0-40 0-40 0-40 0-40 0-40 0-40 0-40 0-40 0-40 0-40 0-40 0-40 0-40 0-40 0-40 0-40 0-40 0-40 0-40 0-40 0-40 0-40 0-40 0-40 0-40 0-40 0-40 0-40 0-40 0-40 0-40 0-40 0-40 0-40 0-40 0-40 0-40 0-40 0-40 0-40 0-40 0-40 0-40 0-40 0-40 0-40 0-40 0-40 0-40 0-40 0-40 0-40 0-40 0-40 0-40 0-40 0-40 0-40 0-40 0-40 0-40 0-40 0 0-40 0-40 0-40 0-40 0-40 0-40 0-40 0-40 0-40 0-40 0-40 0-40 0-40 0-40 0-40 0-40 0-40 0-40 0-40 0-40 0-40 0-40 0-40 0-40 0-40 0-40 0-40 0-40 0-40 0-40 0-40 0-40 0-40 0-40 3 0 37-4 40-2 40-2 40-1 40-1 40-1 40 0 40-1 40-1 40 0 40 0 40-1 40 0 40 0 40 0 40 0 40 0 40-1 40 0 40-2 40-3 40-5 40-11 7-4 33-24 12-16 18-40 9-40 1-7 5-33 9-40 17-40 9-12 25-28 15-14 31-26 9-8 36-32 4-4 36-36 4-4 32-36 8-12 13-28 10-40 7-40 7-40 3-8 23-32 17-12 40-8 40 7 28 13 12 6 40 31 3 3 37 33 7 7 33 26 19 14 21 13 40 17 40 8 40-3 40-12 40-19 7-4 33-21 37-19 3-2 40-15 40-7 40-2 40 3 40 6 40 10 25 7 15 4 40 11 40 7 40 2 40-3 40-8 40-10 11-3 29-8 40-11 40-8 40-7 30-6 10-2 40-11 40-14 40-12 3-1 37-13 40-22 7-5 33-25 21-15 19-13 40-22 12-5z" fill="#00b8ff"/>
<path d="M4335 1509l40-8 40-5 40-3 40 0 40 1 40 1 40 2 40 4 40 5 40 7 20 4 20 4 40 9 40 8 40 9 40 8 9 2 31 6 40 6 40 5 40 5 0 18 0 40 0 40 0 40 0 40 0 40 0 40 0 40 0 40 0 40 0 40 0 40 0 40 0 40 0 40 0 40 0 40 0 40 0 40 0 40 0 40 0 40 0 40 0 40 0 40 0 40 0 40 0 40 0 40 0 40 0 40 0 40 0 40 0 40 0 40 0 40 0 40 0 40 0 40 0 40 0 40 0 40 0 40 0 40 0 40 0 40 0 40 0 40 0 40 0 40 0 40 0 40 0 40-40 0-40 0-40 0-40 0-40 0-40 0-40 0-40 0-40 0-40 0-40 0-40 0-40 0-40 0-40 0-40 0-40 0-40 0-40 0-40 0-40 0-40 0-40 0-40 0-40 0-40 0-40 0-40 0-40 0-40 0-40 0-40 0-40 0-40 0-40 0-40 0-40 0-40 0-40 0-40 0-40 0-40 0-40 0-40 0-40 0-40 0-40 0-40 0-40 0-40 0-40 0-40 0-40 0-40 0-40 0-40 0-40 0-40 0-40 0-40 0-40 0-40 0-40 0-40 0-40 0-40 0-40 0-40 0-40 0-40 0-40 0-40 0-40 0-40 0-40 0-40 0-40 0-40 0-40 0-40 0-40 0-40 0-40 0-40 0-40 0-40 0-40 0-40 0-40 0-40 0-40 0-40 0-40 0-40 0 0-40 0-40 0-40 0-40 0-40 0-40 0-40 0-40 0-40 0-40 0-40 0-40 0-40 0-40 0-40 0-40 0-40 0-40 0-40 0-40 0-40 0-40 0-40 0-40 0-40 0-40 0-40 0-40 0-40 0-40 0-40 0-40 0-38 13-2 27-3 40-4 40-1 40-1 40-1 40-1 40 0 40 0 40-1 40 0 40 1 40 0 40 0 40 1 40 1 40 2 40 1 40 2 40 3 21 1 19 1 40 3 40 2 40 1 40-1 26-6 14-5 37-35 3-6 9-34 4-40 3-40 1-40 2-40 8-40 13-26 10-14 30-27 18-13 22-17 31-23 9-8 32-32 8-9 26-31 14-19 13-21 8-40 3-40 4-40 12-32 7-8 33-17 40 5 23 12 17 10 39 30 1 1 40 31 10 8 30 19 38 21 2 1 40 14 40 5 40-3 40-12 13-5 27-12 40-21 16-7 24-12 40-14 40-8 40-2 40 2 40 7 40 10 40 12 18 5 22 6 40 9 40 2 40-2 40-6 40-8 3-1 37-10 40-12 40-11 32-7 8-1 40-8 40-13 30-18 10-4 40-15 40-15 11-6 29-16 34-24 6-5 40-29 10-6 30-18 40-18 14-4z" fill="#00c4ff"/>
<path d="M4375 1513l40-6 40-2 40 0 40 1 40 1 40 3 40 4 23 3 17 3 40 7 40 8 40 9 40 8 21 5 19 4 40 9 40 7 40 6 40 5 40 6 0 3 0 40 0 40 0 40 0 40 0 40 0 40 0 40 0 40 0 40 0 40 0 40 0 40 0 40 0 40 0 40 0 40 0 40 0 40 0 40 0 40 0 40 0 40 0 40 0 40 0 40 0 40 0 40 0 40 0 40 0 40 0 40 0 40 0 40 0 40 0 40 0 40 0 40 0 40 0 40 0 40 0 40 0 40 0 40 0 40 0 40 0 40 0 40 0 40 0 40 0 40 0 40 0 40-40 0-40 0-40 0-40 0-40 0-40 0-40 0-40 0-40 0-40 0-40 0-40 0-40 0-40 0-40 0-40 0-40 0-40 0-40 0-40 0-40 0-40 0-40 0-40 0-40 0-40 0-40 0-40 0-40 0-40 0-40 0-40 0-40 0-40 0-40 0-40 0-40 0-40 0-40 0-40 0-40 0-40 0-40 0-40 0-40 0-40 0-40 0-40 0-40 0-40 0-40 0-40 0-40 0-40 0-40 0-40 0-40 0-40 0-40 0-40 0-40 0-40 0-40 0-40 0-40 0-40 0-40 0-40 0-40 0-40 0-40 0-40 0-40 0-40 0-40 0-40 0-40 0-40 0-40 0-40 0-40 0-40 0-40 0-40 0-40 0-40 0-40 0-40 0-40 0-40 0-40 0-40 0-40 0-40 0 0-40 0-40 0-40 0-40 0-40 0-40 0-40 0-40 0-40 0-40 0-40 0-40 0-40 0-40 0-40 0-40 0-40 0-40 0-40 0-40 0-40 0-40 0-40 0-40 0-40 0-40 0-40 0-40 0-40 0-40 0-40 0-36 24-4 16-2 40-4 40-2 40-1 40-1 40 0 40 0 40-1 40 1 40 0 40 0 40 1 40 1 40 1 40 2 40 2 38 3 2 0 40 3 40 4 40 5 40 5 40 6 40 7 40 6 38 4 2 0 11 0 29-1 40-17 17-22 11-40 1-40-3-40-3-40-1-40 2-40 6-40 10-26 7-14 33-34 7-6 33-23 23-17 17-16 21-24 19-23 12-17 28-39 1-1 20-40 8-40 4-40 7-29 40-11 40 22 29 18 11 6 40 24 18 10 22 11 40 18 40 10 6 1 34 3 23-3 17-2 40-11 40-16 25-11 15-7 40-18 40-13 12-2 28-6 40-2 40 3 30 5 10 2 40 10 40 12 40 12 16 4 24 5 40 3 40-1 40-4 24-3 16-2 40-9 40-12 40-15 9-2 31-8 40-5 40-10 24-17 16-9 40-30 2-1 38-14 40-23 4-3 36-25 19-15 21-15 39-25 1-1 40-19 40-14 23-6z" fill="#00d0ff"/>
<path d="M4455 1516l40 0 22 1 18 1 40 2 40 3 40 4 40 6 40 8 40 9 35 7 5 1 40 9 40 9 40 8 40 7 40 5 6 1 34 6 40 7 0 27 0 40 0 40 0 40 0 40 0 40 0 40 0 40 0 40 0 40 0 40 0 40 0 40 0 40 0 40 0 40 0 40 0 40 0 40 0 40 0 40 0 40 0 40 0 40 0 40 0 40 0 40 0 40 0 40 0 40 0 40 0 40 0 40 0 40 0 40 0 40 0 40 0 40 0 40 0 40 0 40 0 40 0 40 0 40 0 40 0 40 0 40 0 40 0 40 0 40 0 40 0 40-40 0-40 0-40 0-40 0-40 0-40 0-40 0-40 0-40 0-40 0-40 0-40 0-40 0-40 0-40 0-40 0-40 0-40 0-40 0-40 0-40 0-40 0-40 0-40 0-40 0-40 0-40 0-40 0-40 0-40 0-40 0-40 0-40 0-40 0-40 0-40 0-40 0-40 0-40 0-40 0-40 0-40 0-40 0-40 0-40 0-40 0-40 0-40 0-40 0-40 0-40 0-40 0-40 0-40 0-40 0-40 0-40 0-40 0-40 0-40 0-40 0-40 0-40 0-40 0-40 0-40 0-40 0-40 0-40 0-40 0-40 0-40 0-40 0-40 0-40 0-40 0-40 0-40 0-40 0-40 0-40 0-40 0-40 0-40 0-40 0-40 0-40 0-40 0-40 0-40 0-40 0-40 0-40 0-40 0 0-40 0-40 0-40 0-40 0-40 0-40 0-40 0-40 0-40 0-40 0-40 0-40 0-40 0-40 0-40 0-40 0-40 0-40 0-40 0-40 0-40 0-40 0-40 0-40 0-40 0-40 0-40 0-40 0-40 0-40 0-33 40-5 12-2 28-3 40-3 40-2 40 0 40-1 40 0 40 0 40 0 40 0 40 1 40 1 40 1 40 1 40 3 36 2 4 0 40 3 40 4 40 5 40 6 40 6 40 8 39 8 1 0 40 8 40 8 40 8 40 4 40-5 30-23 10-16 8-24 4-40-6-40-6-32-2-8-8-40-6-40-3-40 4-40 13-40 2-3 30-37 10-8 40-30 2-2 38-36 4-4 30-40 6-8 20-32 20-33 4-7 25-40 11-20 40-17 40 8 40 16 32 13 8 3 40 14 40 8 40 1 40-5 40-12 23-9 17-6 40-18 40-15 4-1 36-11 40-8 40-2 40 2 40 7 40 12 1 0 39 13 40 13 40 9 40 3 40-1 40-2 40-2 40-3 40-11 40-16 8-3 32-10 40-3 40-5 40-15 7-7 29-40 4-3 40-28 11-9 29-17 31-23 9-6 40-31 5-3 35-24 29-16 11-5 40-16 40-10 40-7 31-2z" fill="#00e0fb"/>
<path d="M4335 1550l40-12 40-7 40-3 40 1 40 1 40 2 40 4 40 4 40 7 40 9 7 1 33 8 40 8 40 9 40 9 33 6 7 2 40 6 40 6 40 7 40 9 0 10 0 40 0 40 0 40 0 40 0 40 0 40 0 40 0 40 0 40 0 40 0 40 0 40 0 40 0 40 0 40 0 40 0 40 0 40 0 40 0 40 0 40 0 40 0 40 0 40 0 40 0 40 0 40 0 40 0 40 0 40 0 40 0 40 0 40 0 40 0 40 0 40 0 40 0 40 0 40 0 40 0 40 0 40 0 40 0 40 0 40 0 40 0 40 0 40 0 40 0 40 0 40-40 0-40 0-40 0-40 0-40 0-40 0-40 0-40 0-40 0-40 0-40 0-40 0-40 0-40 0-40 0-40 0-40 0-40 0-40 0-40 0-40 0-40 0-40 0-40 0-40 0-40 0-40 0-40 0-40 0-40 0-40 0-40 0-40 0-40 0-40 0-40 0-40 0-40 0-40 0-40 0-40 0-40 0-40 0-40 0-40 0-40 0-40 0-40 0-40 0-40 0-40 0-40 0-40 0-40 0-40 0-40 0-40 0-40 0-40 0-40 0-40 0-40 0-40 0-40 0-40 0-40 0-40 0-40 0-40 0-40 0-40 0-40 0-40 0-40 0-40 0-40 0-40 0-40 0-40 0-40 0-40 0-40 0-40 0-40 0-40 0-40 0-40 0-40 0-40 0-40 0-40 0-40 0-40 0-40 0 0-40 0-40 0-40 0-40 0-40 0-40 0-40 0-40 0-40 0-40 0-40 0-40 0-40 0-40 0-40 0-40 0-40 0-40 0-40 0-40 0-40 0-40 0-40 0-40 0-40 0-40 0-40 0-40 0-40 0-30 40-3 40-4 36-3 4 0 40-3 40-2 40-1 40-1 40 0 40 0 40 0 40 0 40 1 40 1 40 2 40 2 17 1 23 1 40 4 40 4 40 4 40 6 40 7 40 7 30 7 10 2 40 8 40 9 40 10 40 10 8 1 32 4 40-1 6-3 34-31 5-9 18-40 7-40-4-40-11-40-13-40-2-6-10-34-9-40-3-40 7-40 15-28 9-12 31-29 14-11 26-21 23-19 17-18 19-22 21-34 3-6 22-40 15-24 15-16 25-20 40-4 40 9 40 12 11 3 29 7 40 5 40-1 40-8 10-3 30-9 40-15 39-16 1 0 40-15 40-11 40-7 40-3 40 3 40 8 40 11 38 14 2 1 40 13 40 9 40 2 40-1 40 0 40 3 40 4 40-5 40-15 29-11 11-4 40-8 40-8 40-13 11-7 29-26 10-14 26-40 4-3 40-33 4-4 36-27 16-13 24-18 30-22 10-7 40-23 22-10z" fill="#06ecf1"/>
<path d="M4375 1551l40-8 40-3 40 1 40 2 40 2 40 4 40 5 18 3 22 5 40 9 40 9 40 8 40 9 2 0 38 9 40 9 40 6 40 6 40 7 14 3 26 7 0 33 0 40 0 40 0 40 0 40 0 40 0 40 0 40 0 40 0 40 0 40 0 40 0 40 0 40 0 40 0 40 0 40 0 40 0 40 0 40 0 40 0 40 0 40 0 40 0 40 0 40 0 40 0 40 0 40 0 40 0 40 0 40 0 40 0 40 0 40 0 40 0 40 0 40 0 40 0 40 0 40 0 40 0 40 0 40 0 40 0 40 0 40 0 40 0 40 0 40 0 40-40 0-40 0-40 0-40 0-40 0-40 0-40 0-40 0-40 0-40 0-40 0-40 0-40 0-40 0-40 0-40 0-40 0-40 0-40 0-40 0-40 0-40 0-40 0-40 0-40 0-40 0-40 0-40 0-40 0-40 0-40 0-40 0-40 0-40 0-40 0-40 0-40 0-40 0-40 0-40 0-40 0-40 0-40 0-40 0-40 0-40 0-40 0-40 0-40 0-40 0-40 0-40 0-40 0-40 0-40 0-40 0-40 0-40 0-40 0-40 0-40 0-40 0-40 0-40 0-40 0-40 0-40 0-40 0-40 0-40 0-40 0-40 0-40 0-40 0-40 0-40 0-40 0-40 0-40 0-40 0-40 0-40 0-40 0-40 0-40 0-40 0-40 0-40 0-40 0-40 0-40 0-40 0-40 0-40 0 0-40 0-40 0-40 0-40 0-40 0-40 0-40 0-40 0-40 0-40 0-40 0-40 0-40 0-40 0-40 0-40 0-40 0-40 0-40 0-40 0-40 0-40 0-40 0-40 0-40 0-40 0-40 0-40 0-27 40-2 40-2 40-2 40-3 40-2 40-2 4 0 36-1 40-2 40-1 40 0 40 0 40 0 40 0 40 2 40 1 13 1 27 2 40 2 40 4 40 4 40 5 40 6 40 7 40 8 10 2 30 6 40 8 40 8 40 10 33 8 7 1 40 4 32-5 8-3 40-37 27-40 13-27 6-13 2-40-8-30-3-10-16-40-16-40-5-14-9-26-10-40-3-40 12-40 10-13 29-27 11-9 40-29 4-2 36-30 13-10 27-40 0-1 17-39 21-40 2-2 40-13 40 4 40 7 39 4 1 0 40 0 4 0 36-4 40-9 40-13 34-14 6-2 40-16 40-14 33-8 7-2 40-7 40-2 40 3 38 8 2 0 40 13 40 15 34 12 6 2 40 9 40 1 40-2 40 2 40 8 40 12 40 0 40-16 36-16 4-2 40-15 40-12 26-11 14-6 40-25 9-9 28-40 3-5 25-35 15-12 30-28 10-7 40-33 40-30 16-10 24-14 40-19 20-7z" fill="#0ff8e7"/>
<path d="M4415 1555l40-2 40 1 40 2 22 1 18 1 40 4 40 6 40 9 40 10 40 9 6 1 34 8 40 9 40 9 40 8 40 6 3 0 37 6 40 9 40 11 0 14 0 40 0 40 0 40 0 40 0 40 0 40 0 40 0 40 0 40 0 40 0 40 0 40 0 40 0 40 0 40 0 40 0 40 0 40 0 40 0 40 0 40 0 40 0 40 0 40 0 40 0 40 0 40 0 40 0 40 0 40 0 40 0 40 0 40 0 40 0 40 0 40 0 40 0 40 0 40 0 40 0 40 0 40 0 40 0 40 0 40 0 40 0 40 0 40 0 40 0 40-40 0-40 0-40 0-40 0-40 0-40 0-40 0-40 0-40 0-40 0-40 0-40 0-40 0-40 0-40 0-40 0-40 0-40 0-40 0-40 0-40 0-40 0-40 0-40 0-40 0-40 0-40 0-40 0-40 0-40 0-40 0-40 0-40 0-40 0-40 0-40 0-40 0-40 0-40 0-40 0-40 0-40 0-40 0-40 0-40 0-40 0-40 0-40 0-40 0-40 0-40 0-40 0-40 0-40 0-40 0-40 0-40 0-40 0-40 0-40 0-40 0-40 0-40 0-40 0-40 0-40 0-40 0-40 0-40 0-40 0-40 0-40 0-40 0-40 0-40 0-40 0-40 0-40 0-40 0-40 0-40 0-40 0-40 0-40 0-40 0-40 0-40 0-40 0-40 0-40 0-40 0-40 0-40 0-40 0 0-40 0-40 0-40 0-40 0-40 0-40 0-40 0-40 0-40 0-40 0-40 0-40 0-40 0-40 0-40 0-40 0-40 0-40 0-40 0-40 0-40 0-40 0-40 0-40 0-40 0-40 0-40 0-26 40-1 40-1 40-2 40-1 40-1 40-2 40-1 40-2 40-1 40-2 10 0 30-1 40-1 40 0 40 0 40 1 20 1 20 1 40 2 40 2 40 4 40 4 40 4 40 6 40 6 40 7 21 4 19 3 40 7 40 8 40 8 40 6 40-4 40-22 7-6 33-35 5-5 35-39 1-1 20-40 0-40-14-40-7-15-12-25-18-40-10-27-5-13-8-40 1-40 12-21 14-19 26-20 31-20 9-5 40-20 40-14 4-1 36-37 2-3 17-40 21-18 40-16 30-6 10-1 40-6 40-9 40-12 32-12 8-3 40-16 40-17 13-4 27-9 40-10 40-6 40-2 40 3 40 10 40 14 40 17 40 13 40 7 40 0 40-2 40 3 6 2 34 12 40 15 40 1 40-15 27-13 13-7 40-19 33-14 7-3 40-19 28-18 12-8 32-32 8-12 19-28 21-27 11-13 29-27 14-13 26-21 24-19 16-12 40-26 3-2 37-18 40-15 29-7z" fill="#19ffde"/>
<path d="M4335 1594l40-15 40-10 40-3 40 1 40 3 40 3 40 4 40 6 40 10 17 4 23 7 40 10 40 9 40 8 27 6 13 3 40 8 40 7 40 7 40 8 24 7 16 5 0 35 0 40 0 40 0 40 0 40 0 40 0 40 0 40 0 40 0 40 0 40 0 40 0 40 0 40 0 40 0 40 0 40 0 40 0 40 0 40 0 40 0 40 0 40 0 40 0 40 0 40 0 40 0 40 0 40 0 40 0 40 0 40 0 40 0 40 0 40 0 40 0 40 0 40 0 40 0 40 0 40 0 40 0 40 0 40 0 40 0 40 0 40 0 40 0 40 0 40-40 0-40 0-40 0-40 0-40 0-40 0-40 0-40 0-40 0-40 0-40 0-40 0-40 0-40 0-40 0-40 0-40 0-40 0-40 0-40 0-40 0-40 0-40 0-40 0-40 0-40 0-40 0-40 0-40 0-40 0-40 0-40 0-40 0-40 0-40 0-40 0-40 0-40 0-40 0-40 0-40 0-40 0-40 0-40 0-40 0-40 0-40 0-40 0-40 0-40 0-40 0-40 0-40 0-40 0-40 0-40 0-40 0-40 0-40 0-40 0-40 0-40 0-40 0-40 0-40 0-40 0-40 0-40 0-40 0-40 0-40 0-40 0-40 0-40 0-40 0-40 0-40 0-40 0-40 0-40 0-40 0-40 0-40 0-40 0-40 0-40 0-40 0-40 0-40 0-40 0-40 0-40 0-40 0-40 0 0-40 0-40 0-40 0-40 0-40 0-40 0-40 0-40 0-40 0-40 0-40 0-40 0-40 0-40 0-40 0-40 0-40 0-40 0-40 0-40 0-40 0-40 0-40 0-40 0-40 0-40 0-25 40-2 40-1 40-1 40-1 40-1 40 0 40-1 40-1 40-1 40-2 40-1 40-2 37-1 3 0 40-1 40 0 40 0 40 1 1 0 39 1 40 2 40 3 40 3 40 3 40 5 40 5 40 5 40 7 30 6 10 2 40 6 40 5 40-2 32-11 8-5 40-33 2-2 38-37 4-3 36-36 5-4 19-40-1-40-12-40-11-29-5-11-18-40-13-40-3-40 13-40 26-26 22-14 18-9 40-14 40-13 6-4 34-31 8-9 27-40 5-5 40-31 8-4 32-12 40-14 37-14 3-1 40-16 40-19 8-4 32-13 40-14 40-9 31-4 9-1 40-2 32 3 8 1 40 11 40 17 27 11 13 6 40 13 40 6 40-1 40-2 40 4 31 14 9 5 40 15 40-1 40-14 11-5 29-16 40-22 4-2 36-18 40-22 40-26 15-14 25-25 12-15 28-39 1-1 34-40 5-5 38-35 2-2 40-32 8-6 32-21 33-19z" fill="#23ffd4"/>
<path d="M4375 1593l40-10 40-3 40 2 40 3 40 3 40 3 34 6 6 1 40 13 40 12 40 9 22 5 18 4 40 10 40 9 40 8 40 6 21 3 19 4 40 10 40 13 0 13 0 40 0 40 0 40 0 40 0 40 0 40 0 40 0 40 0 40 0 40 0 40 0 40 0 40 0 40 0 40 0 40 0 40 0 40 0 40 0 40 0 40 0 40 0 40 0 40 0 40 0 40 0 40 0 40 0 40 0 40 0 40 0 40 0 40 0 40 0 40 0 40 0 40 0 40 0 40 0 40 0 40 0 40 0 40 0 40 0 40 0 40 0 40 0 40 0 40-40 0-40 0-40 0-40 0-40 0-40 0-40 0-40 0-40 0-40 0-40 0-40 0-40 0-40 0-40 0-40 0-40 0-40 0-40 0-40 0-40 0-40 0-40 0-40 0-40 0-40 0-40 0-40 0-40 0-40 0-40 0-40 0-40 0-40 0-40 0-40 0-40 0-40 0-40 0-40 0-40 0-40 0-40 0-40 0-40 0-40 0-40 0-40 0-40 0-40 0-40 0-40 0-40 0-40 0-40 0-40 0-40 0-40 0-40 0-40 0-40 0-40 0-40 0-40 0-40 0-40 0-40 0-40 0-40 0-40 0-40 0-40 0-40 0-40 0-40 0-40 0-40 0-40 0-40 0-40 0-40 0-40 0-40 0-40 0-40 0-40 0-40 0-40 0-40 0-40 0-40 0-40 0-40 0-40 0 0-40 0-40 0-40 0-40 0-40 0-40 0-40 0-40 0-40 0-40 0-40 0-40 0-40 0-40 0-40 0-40 0-40 0-40 0-40 0-40 0-40 0-40 0-40 0-40 0-40 0-24 40-2 40-2 40-2 40-1 40-1 40 0 40-1 40-1 40 0 40-2 40-1 40-2 34-1 6 0 40-2 40-1 40-1 40-1 40 0 40 1 40 1 40 1 34 2 6 0 40 3 40 3 40 4 40 5 40 5 40 6 40 5 40-1 40-13 26-17 14-12 32-28 8-8 39-32 1-1 40-38 1-1 15-40 0-40-7-40-9-31-3-9-14-40-8-40 3-40 22-33 6-7 34-19 40-20 1-1 39-26 16-14 24-27 13-13 27-28 17-12 23-14 40-19 14-7 26-11 40-19 17-10 23-11 40-18 28-11 12-4 40-9 40-5 40-1 40 5 40 13 2 1 38 21 40 18 4 1 36 11 40 3 40 0 40-2 40 7 37 21 3 1 40 8 40-3 20-6 20-7 40-21 21-12 19-11 40-24 9-5 31-18 31-22 9-6 39-34 1-1 32-39 8-12 21-28 19-22 17-18 23-22 21-18 19-15 34-25 6-4 40-23 29-13z" fill="#30ffc7"/>
<path d="M4415 1597l40-2 40 2 7 0 33 3 40 4 40 4 40 10 40 12 23 7 17 6 40 11 40 10 40 9 22 4 18 4 40 8 40 6 40 8 40 10 13 4 27 10 0 30 0 40 0 40 0 40 0 40 0 40 0 40 0 40 0 40 0 40 0 40 0 40 0 40 0 40 0 40 0 40 0 40 0 40 0 40 0 40 0 40 0 40 0 40 0 40 0 40 0 40 0 40 0 40 0 40 0 40 0 40 0 40 0 40 0 40 0 40 0 40 0 40 0 40 0 40 0 40 0 40 0 40 0 40 0 40 0 40 0 40 0 40 0 40 0 40-40 0-40 0-40 0-40 0-40 0-40 0-40 0-40 0-40 0-40 0-40 0-40 0-40 0-40 0-40 0-40 0-40 0-40 0-40 0-40 0-40 0-40 0-40 0-40 0-40 0-40 0-40 0-40 0-40 0-40 0-40 0-40 0-40 0-40 0-40 0-40 0-40 0-40 0-40 0-40 0-40 0-40 0-40 0-40 0-40 0-40 0-40 0-40 0-40 0-40 0-40 0-40 0-40 0-40 0-40 0-40 0-40 0-40 0-40 0-40 0-40 0-40 0-40 0-40 0-40 0-40 0-40 0-40 0-40 0-40 0-40 0-40 0-40 0-40 0-40 0-40 0-40 0-40 0-40 0-40 0-40 0-40 0-40 0-40 0-40 0-40 0-40 0-40 0-40 0-40 0-40 0-40 0-40 0-40 0 0-40 0-40 0-40 0-40 0-40 0-40 0-40 0-40 0-40 0-40 0-40 0-40 0-40 0-40 0-40 0-40 0-40 0-40 0-40 0-40 0-40 0-40 0-40 0-40 0-23 40-3 40-3 40-2 40-2 40-1 40-1 40-1 40 0 40-1 40-1 40-2 5 0 35-2 40-2 40-2 40-2 40-2 40-2 40-1 40-1 40-1 40 0 40 0 40 1 40 2 40 2 40 4 40 5 10 1 30 3 40 4 40 0 31-7 9-3 40-26 13-11 27-24 20-16 20-17 30-23 10-10 26-30 14-34 2-6 3-40-4-40-1-7-7-33-8-40-2-40 13-40 4-4 36-36 4-2 40-30 10-8 30-27 15-13 25-24 20-16 20-16 40-23 2-1 38-19 38-21 2-1 40-22 31-17 9-4 40-16 40-9 40-4 40 0 40 7 40 19 13 7 27 20 40 18 11 2 29 5 40 2 40-1 40 1 40 10 40 15 40 5 40-5 40-13 38-19 2-1 40-25 22-14 18-11 40-26 4-3 36-25 17-15 23-20 18-20 22-26 11-14 29-38 2-2 37-40 1-1 40-35 5-4 35-26 23-14 17-10 40-18 40-12z" fill="#39ffbe"/>
<path d="M4375 1627l40-11 40-3 40 2 40 4 40 4 40 5 39 9 1 0 40 17 40 13 40 10 40 11 40 10 40 7 40 7 35 5 5 1 40 9 40 12 40 14 0 4 0 40 0 40 0 40 0 40 0 40 0 40 0 40 0 40 0 40 0 40 0 40 0 40 0 40 0 40 0 40 0 40 0 40 0 40 0 40 0 40 0 40 0 40 0 40 0 40 0 40 0 40 0 40 0 40 0 40 0 40 0 40 0 40 0 40 0 40 0 40 0 40 0 40 0 40 0 40 0 40 0 40 0 40 0 40 0 40 0 40 0 40 0 40 0 40-40 0-40 0-40 0-40 0-40 0-40 0-40 0-40 0-40 0-40 0-40 0-40 0-40 0-40 0-40 0-40 0-40 0-40 0-40 0-40 0-40 0-40 0-40 0-40 0-40 0-40 0-40 0-40 0-40 0-40 0-40 0-40 0-40 0-40 0-40 0-40 0-40 0-40 0-40 0-40 0-40 0-40 0-40 0-40 0-40 0-40 0-40 0-40 0-40 0-40 0-40 0-40 0-40 0-40 0-40 0-40 0-40 0-40 0-40 0-40 0-40 0-40 0-40 0-40 0-40 0-40 0-40 0-40 0-40 0-40 0-40 0-40 0-40 0-40 0-40 0-40 0-40 0-40 0-40 0-40 0-40 0-40 0-40 0-40 0-40 0-40 0-40 0-40 0-40 0-40 0-40 0-40 0-40 0-40 0 0-40 0-40 0-40 0-40 0-40 0-40 0-40 0-40 0-40 0-40 0-40 0-40 0-40 0-40 0-40 0-40 0-40 0-40 0-40 0-40 0-40 0-40 0-40 0-22 40-4 40-3 40-3 40-3 40-2 40-1 40-2 17 0 23-1 40-1 40-1 40-2 40-2 40-2 40-3 40-3 40-3 40-3 40-2 40-3 40-2 40-1 40-2 40 0 40 0 40 1 40 2 40 3 40 3 40 3 40 0 40-8 25-13 15-10 39-30 1-1 40-33 8-6 32-25 18-15 22-26 11-14 15-40 5-40-1-40-4-40-3-40 4-40 13-28 6-12 34-37 3-3 37-32 9-8 31-27 17-13 23-18 35-22 5-3 40-22 27-15 13-7 40-24 14-9 26-14 40-19 24-7 16-4 40-2 40 3 17 3 23 9 40 31 40 33 31 7 9 1 40 2 40-1 40-1 40 3 40 7 40 9 40 2 40-5 40-13 8-4 32-16 38-24 2-1 40-27 17-12 23-15 33-25 7-5 40-34 1-1 37-40 2-2 29-38 11-14 22-26 18-20 21-20 19-16 31-24 9-7 40-25 17-8z" fill="#43ffb4"/>
<path d="M4415 1634l40-3 40 2 37 4 3 0 40 7 40 9 40 14 30 10 10 4 40 13 40 11 40 10 9 2 31 7 40 8 40 6 40 7 40 9 11 3 29 10 40 15 0 15 0 40 0 40 0 40 0 40 0 40 0 40 0 40 0 40 0 40 0 40 0 40 0 40 0 40 0 40 0 40 0 40 0 40 0 40 0 40 0 40 0 40 0 40 0 40 0 40 0 40 0 40 0 40 0 40 0 40 0 40 0 40 0 40 0 40 0 40 0 40 0 40 0 40 0 40 0 40 0 40 0 40 0 40 0 40 0 40 0 40 0 40 0 40-40 0-40 0-40 0-40 0-40 0-40 0-40 0-40 0-40 0-40 0-40 0-40 0-40 0-40 0-40 0-40 0-40 0-40 0-40 0-40 0-40 0-40 0-40 0-40 0-40 0-40 0-40 0-40 0-40 0-40 0-40 0-40 0-40 0-40 0-40 0-40 0-40 0-40 0-40 0-40 0-40 0-40 0-40 0-40 0-40 0-40 0-40 0-40 0-40 0-40 0-40 0-40 0-40 0-40 0-40 0-40 0-40 0-40 0-40 0-40 0-40 0-40 0-40 0-40 0-40 0-40 0-40 0-40 0-40 0-40 0-40 0-40 0-40 0-40 0-40 0-40 0-40 0-40 0-40 0-40 0-40 0-40 0-40 0-40 0-40 0-40 0-40 0-40 0-40 0-40 0-40 0-40 0-40 0-40 0 0-40 0-40 0-40 0-40 0-40 0-40 0-40 0-40 0-40 0-40 0-40 0-40 0-40 0-40 0-40 0-40 0-40 0-40 0-40 0-40 0-40 0-40 0-21 40-4 40-5 40-3 40-4 40-3 4 0 36-2 40-2 40-1 40-2 40-2 40-2 40-2 40-3 40-3 40-4 40-4 40-3 40-4 40-4 24-2 16-1 40-4 40-3 40-2 40-1 40-1 40 1 40 1 40 3 40 2 40 0 40-8 40-19 12-8 28-22 23-18 17-14 35-26 5-4 40-32 4-4 31-40 5-14 10-26 7-40 0-40-1-40 1-40 8-40 15-29 5-11 35-38 2-2 38-32 10-8 30-23 28-17 12-8 40-21 22-11 18-10 40-23 11-7 29-18 36-22 4-2 40-10 40 1 40 11 40 36 3 4 37 31 29 9 11 2 40 0 22-2 18-1 40-3 40-2 40 3 24 3 16 2 40 4 40 1 40-6 3-1 37-12 40-20 13-8 27-17 33-23 7-5 40-28 9-7 31-24 19-16 21-18 22-22 18-20 17-20 23-30 8-10 32-38 2-2 38-36 5-4 35-27 20-13 20-12 40-19 30-9z" fill="#4dffaa"/>
<path d="M4375 1668l40-11 40-3 40 2 40 6 40 8 23 7 17 7 40 17 40 12 16 4 24 7 40 11 40 10 40 9 18 3 22 4 40 7 40 8 40 10 35 11 5 2 40 17 0 21 0 40 0 40 0 40 0 40 0 40 0 40 0 40 0 40 0 40 0 40 0 40 0 40 0 40 0 40 0 40 0 40 0 40 0 40 0 40 0 40 0 40 0 40 0 40 0 40 0 40 0 40 0 40 0 40 0 40 0 40 0 40 0 40 0 40 0 40 0 40 0 40 0 40 0 40 0 40 0 40 0 40 0 40 0 40 0 40 0 40 0 40-40 0-40 0-40 0-40 0-40 0-40 0-40 0-40 0-40 0-40 0-40 0-40 0-40 0-40 0-40 0-40 0-40 0-40 0-40 0-40 0-40 0-40 0-40 0-40 0-40 0-40 0-40 0-40 0-40 0-40 0-40 0-40 0-40 0-40 0-40 0-40 0-40 0-40 0-40 0-40 0-40 0-40 0-40 0-40 0-40 0-40 0-40 0-40 0-40 0-40 0-40 0-40 0-40 0-40 0-40 0-40 0-40 0-40 0-40 0-40 0-40 0-40 0-40 0-40 0-40 0-40 0-40 0-40 0-40 0-40 0-40 0-40 0-40 0-40 0-40 0-40 0-40 0-40 0-40 0-40 0-40 0-40 0-40 0-40 0-40 0-40 0-40 0-40 0-40 0-40 0-40 0-40 0-40 0-40 0 0-40 0-40 0-40 0-40 0-40 0-40 0-40 0-40 0-40 0-40 0-40 0-40 0-40 0-40 0-40 0-40 0-40 0-40 0-40 0-40 0-40 0-19 40-6 40-5 40-4 40-5 13-1 27-2 40-4 40-2 40-2 40-2 40-3 40-2 40-3 40-3 40-4 40-4 40-5 31-4 9-1 40-5 40-5 40-5 40-5 40-4 40-4 40-3 40-2 40-1 40 1 40 1 40 2 40-1 40-6 5-2 35-16 36-24 4-3 40-32 7-5 33-24 23-16 17-14 30-26 10-14 19-26 15-40 6-30 2-10 3-40 1-40 4-40 11-40 19-37 2-3 38-38 3-2 37-27 20-13 20-12 40-20 18-8 22-10 40-18 24-12 16-9 40-22 27-9 13-3 12 3 28 19 17 21 23 26 28 14 12 2 40 1 40-2 10-1 30-4 40-5 40-4 40-2 40 1 40 3 40 3 40-1 40-7 40-12 24-12 16-8 40-25 10-7 30-21 25-19 15-11 37-29 3-2 40-35 3-3 37-38 2-2 34-40 4-6 28-34 12-15 24-25 16-15 32-25 8-6 40-25 19-9z" fill="#56ffa0"/>
<path d="M4335 1708l40-17 40-10 40-4 40 3 40 8 40 14 31 15 9 5 40 14 40 10 40 10 3 1 37 11 40 10 40 10 40 7 10 2 30 6 40 10 40 10 40 14 1 0 39 17 0 23 0 40 0 40 0 40 0 40 0 40 0 40 0 40 0 40 0 40 0 40 0 40 0 40 0 40 0 40 0 40 0 40 0 40 0 40 0 40 0 40 0 40 0 40 0 40 0 40 0 40 0 40 0 40 0 40 0 40 0 40 0 40 0 40 0 40 0 40 0 40 0 40 0 40 0 40 0 40 0 40 0 40 0 40 0 40 0 40 0 40-40 0-40 0-40 0-40 0-40 0-40 0-40 0-40 0-40 0-40 0-40 0-40 0-40 0-40 0-40 0-40 0-40 0-40 0-40 0-40 0-40 0-40 0-40 0-40 0-40 0-40 0-40 0-40 0-40 0-40 0-40 0-40 0-40 0-40 0-40 0-40 0-40 0-40 0-40 0-40 0-40 0-40 0-40 0-40 0-40 0-40 0-40 0-40 0-40 0-40 0-40 0-40 0-40 0-40 0-40 0-40 0-40 0-40 0-40 0-40 0-40 0-40 0-40 0-40 0-40 0-40 0-40 0-40 0-40 0-40 0-40 0-40 0-40 0-40 0-40 0-40 0-40 0-40 0-40 0-40 0-40 0-40 0-40 0-40 0-40 0-40 0-40 0-40 0-40 0-40 0-40 0-40 0-40 0-40 0 0-40 0-40 0-40 0-40 0-40 0-40 0-40 0-40 0-40 0-40 0-40 0-40 0-40 0-40 0-40 0-40 0-40 0-40 0-40 0-40 0-17 40-7 40-6 40-5 37-5 3 0 40-5 40-4 40-3 40-3 40-3 40-2 40-3 40-4 40-4 40-4 39-5 1 0 40-6 40-6 40-6 40-6 40-7 40-6 19-3 21-3 40-5 40-5 40-4 40-2 40-1 40 0 40 1 40 0 40-6 40-15 1 0 39-25 19-15 21-17 32-23 8-6 40-26 11-8 29-25 16-15 24-35 3-5 17-40 8-40 4-40 4-40 4-23 3-17 14-40 23-36 4-4 36-31 14-9 26-16 40-19 14-5 26-10 40-11 40-9 40-2 40 12 36 20 4 1 40 10 40-3 40-6 12-2 28-6 40-7 40-7 40-4 40-3 40 0 40 2 40 1 40-2 40-6 24-8 16-5 40-19 26-16 14-8 40-29 4-3 36-28 15-12 25-20 23-20 17-15 25-25 15-15 22-25 18-22 15-18 25-31 8-9 32-33 8-7 32-25 25-15z" fill="#63ff94"/>
<path d="M4375 1715l40-7 40-3 40 4 34 8 6 2 40 16 40 20 5 2 35 12 40 11 40 11 19 6 21 7 40 12 40 11 40 9 3 1 37 10 40 11 40 11 25 8 15 6 40 17 0 17 0 40 0 40 0 40 0 40 0 40 0 40 0 40 0 40 0 40 0 40 0 40 0 40 0 40 0 40 0 40 0 40 0 40 0 40 0 40 0 40 0 40 0 40 0 40 0 40 0 40 0 40 0 40 0 40 0 40 0 40 0 40 0 40 0 40 0 40 0 40 0 40 0 40 0 40 0 40 0 40 0 40 0 40 0 40 0 40-40 0-40 0-40 0-40 0-40 0-40 0-40 0-40 0-40 0-40 0-40 0-40 0-40 0-40 0-40 0-40 0-40 0-40 0-40 0-40 0-40 0-40 0-40 0-40 0-40 0-40 0-40 0-40 0-40 0-40 0-40 0-40 0-40 0-40 0-40 0-40 0-40 0-40 0-40 0-40 0-40 0-40 0-40 0-40 0-40 0-40 0-40 0-40 0-40 0-40 0-40 0-40 0-40 0-40 0-40 0-40 0-40 0-40 0-40 0-40 0-40 0-40 0-40 0-40 0-40 0-40 0-40 0-40 0-40 0-40 0-40 0-40 0-40 0-40 0-40 0-40 0-40 0-40 0-40 0-40 0-40 0-40 0-40 0-40 0-40 0-40 0-40 0-40 0-40 0-40 0-40 0-40 0-40 0-40 0 0-40 0-40 0-40 0-40 0-40 0-40 0-40 0-40 0-40 0-40 0-40 0-40 0-40 0-40 0-40 0-40 0-40 0-40 0-40 0-15 40-8 40-6 40-7 28-4 12-2 40-5 40-5 40-4 40-4 40-3 40-3 40-4 40-3 40-5 17-2 23-3 40-6 40-6 40-7 40-8 40-7 12-3 28-5 40-8 40-8 40-7 40-6 40-5 9-1 31-3 40-2 40-1 40 0 40 0 40-5 40-13 28-16 12-7 40-31 2-2 38-27 21-13 19-12 40-28 40-38 2-2 27-40 11-27 6-13 10-40 6-40 7-40 10-40 1-2 19-38 21-26 16-14 24-17 40-20 11-3 29-9 40-6 40-1 40 5 40 9 7 2 33 5 40 2 40-5 12-2 28-6 40-10 40-9 40-7 40-5 40-3 12 0 28 0 24 0 16 0 40 0 7 0 33-2 40-7 40-12 40-19 40-24 22-16 18-13 35-27 5-4 40-33 4-3 36-32 8-8 32-32 7-8 33-38 2-2 33-40 5-7 29-33 11-11 35-29 5-4 40-23 35-13z" fill="#6dff8a"/>
<path d="M4335 1753l40-13 40-5 40-1 40 5 40 12 13 6 27 12 40 18 28 10 12 5 40 14 40 14 19 7 21 9 40 16 40 14 4 1 36 16 40 15 37 9 3 1 40 10 40 13 40 14 0 2 0 40 0 40 0 40 0 40 0 40 0 40 0 40 0 40 0 40 0 40 0 40 0 40 0 40 0 40 0 40 0 40 0 40 0 40 0 40 0 40 0 40 0 40 0 40 0 40 0 40 0 40 0 40 0 40 0 40 0 40 0 40 0 40 0 40 0 40 0 40 0 40 0 40 0 40 0 40 0 40 0 40 0 40 0 40-40 0-40 0-40 0-40 0-40 0-40 0-40 0-40 0-40 0-40 0-40 0-40 0-40 0-40 0-40 0-40 0-40 0-40 0-40 0-40 0-40 0-40 0-40 0-40 0-40 0-40 0-40 0-40 0-40 0-40 0-40 0-40 0-40 0-40 0-40 0-40 0-40 0-40 0-40 0-40 0-40 0-40 0-40 0-40 0-40 0-40 0-40 0-40 0-40 0-40 0-40 0-40 0-40 0-40 0-40 0-40 0-40 0-40 0-40 0-40 0-40 0-40 0-40 0-40 0-40 0-40 0-40 0-40 0-40 0-40 0-40 0-40 0-40 0-40 0-40 0-40 0-40 0-40 0-40 0-40 0-40 0-40 0-40 0-40 0-40 0-40 0-40 0-40 0-40 0-40 0-40 0-40 0-40 0-40 0 0-40 0-40 0-40 0-40 0-40 0-40 0-40 0-40 0-40 0-40 0-40 0-40 0-40 0-40 0-40 0-40 0-40 0-40 0-13 40-8 40-7 40-8 24-4 16-3 40-6 40-6 40-5 40-4 40-4 40-4 40-4 40-4 2 0 38-4 40-6 40-6 40-8 40-8 37-8 3-1 40-9 40-9 40-10 40-9 8-2 32-7 40-8 40-6 40-6 40-3 40-2 40 0 40-1 40-4 10-3 30-9 40-21 15-10 25-19 27-21 13-9 40-24 13-7 27-18 31-22 9-9 31-31 9-14 17-26 17-40 6-22 6-18 10-40 11-40 13-36 2-4 28-40 10-9 40-25 20-6 20-5 40-4 40 1 40 5 35 3 5 0 40 1 19-1 21-1 40-7 40-10 40-11 40-9 10-2 30-6 40-6 40-3 40-1 40 1 40-1 40-2 40-6 40-13 7-3 33-15 40-25 1 0 39-28 16-12 24-19 25-21 15-12 31-28 9-8 32-32 8-8 29-32 11-13 23-27 17-21 16-19 24-27 14-13 26-21 33-19z" fill="#77ff80"/>
<path d="M4335 1777l40-11 40-4 40 2 40 7 40 14 27 12 13 6 40 18 40 16 1 0 39 20 40 20 40 25 27 15 13 10 39 30 1 1 40 31 21 8 19 6 40 2 40 0 40 4 40 10 0 18 0 40 0 40 0 40 0 40 0 40 0 40 0 40 0 40 0 40 0 40 0 40 0 40 0 40 0 40 0 40 0 40 0 40 0 40 0 40 0 40 0 40 0 40 0 40 0 40 0 40 0 40 0 40 0 40 0 40 0 40 0 40 0 40 0 40 0 40 0 40 0 40 0 40 0 40 0 40 0 40 0 40-40 0-40 0-40 0-40 0-40 0-40 0-40 0-40 0-40 0-40 0-40 0-40 0-40 0-40 0-40 0-40 0-40 0-40 0-40 0-40 0-40 0-40 0-40 0-40 0-40 0-40 0-40 0-40 0-40 0-40 0-40 0-40 0-40 0-40 0-40 0-40 0-40 0-40 0-40 0-40 0-40 0-40 0-40 0-40 0-40 0-40 0-40 0-40 0-40 0-40 0-40 0-40 0-40 0-40 0-40 0-40 0-40 0-40 0-40 0-40 0-40 0-40 0-40 0-40 0-40 0-40 0-40 0-40 0-40 0-40 0-40 0-40 0-40 0-40 0-40 0-40 0-40 0-40 0-40 0-40 0-40 0-40 0-40 0-40 0-40 0-40 0-40 0-40 0-40 0-40 0-40 0-40 0-40 0-40 0 0-40 0-40 0-40 0-40 0-40 0-40 0-40 0-40 0-40 0-40 0-40 0-40 0-40 0-40 0-40 0-40 0-40 0-10 40-9 40-8 40-8 24-5 16-3 40-7 40-7 40-6 40-5 40-5 40-4 30-3 10-1 40-4 40-6 40-5 40-7 40-8 38-9 2 0 40-10 40-11 40-11 27-8 13-3 40-11 40-11 40-10 23-5 17-3 40-7 40-5 40-4 40 0 40 0 40-4 40-10 15-7 25-12 40-28 1 0 39-30 17-10 23-13 40-22 7-5 33-23 22-17 18-18 20-22 20-31 6-9 20-40 14-40 15-40 18-40 7-14 21-26 19-17 40-17 40-6 18 0 22 0 38 0 2 0 40-2 40-3 40-7 40-8 40-11 31-9 9-2 40-11 40-9 40-5 40-4 40-1 40 1 40 0 40-2 40-7 1 0 39-11 40-19 17-10 23-14 37-26 3-2 40-31 8-7 32-27 15-13 25-23 17-17 23-23 16-17 24-27 12-13 28-34 5-6 33-40 2-2 40-37 3-1z" fill="#80ff77"/>
<path d="M4375 1792l40-1 40 4 9 2 31 9 40 16 34 15 6 3 40 19 36 18 4 3 40 31 8 6 32 32 9 8 31 32 8 8 32 30 11 10 29 22 33 18 7 3 40 6 40-1 40-3 40 1 40 7 0 27 0 40 0 40 0 40 0 40 0 40 0 40 0 40 0 40 0 40 0 40 0 40 0 40 0 40 0 40 0 40 0 40 0 40 0 40 0 40 0 40 0 40 0 40 0 40 0 40 0 40 0 40 0 40 0 40 0 40 0 40 0 40 0 40 0 40 0 40 0 40 0 40 0 40 0 40 0 40-40 0-40 0-40 0-40 0-40 0-40 0-40 0-40 0-40 0-40 0-40 0-40 0-40 0-40 0-40 0-40 0-40 0-40 0-40 0-40 0-40 0-40 0-40 0-40 0-40 0-40 0-40 0-40 0-40 0-40 0-40 0-40 0-40 0-40 0-40 0-40 0-40 0-40 0-40 0-40 0-40 0-40 0-40 0-40 0-40 0-40 0-40 0-40 0-40 0-40 0-40 0-40 0-40 0-40 0-40 0-40 0-40 0-40 0-40 0-40 0-40 0-40 0-40 0-40 0-40 0-40 0-40 0-40 0-40 0-40 0-40 0-40 0-40 0-40 0-40 0-40 0-40 0-40 0-40 0-40 0-40 0-40 0-40 0-40 0-40 0-40 0-40 0-40 0-40 0-40 0-40 0-40 0-40 0-40 0 0-40 0-40 0-40 0-40 0-40 0-40 0-40 0-40 0-40 0-40 0-40 0-40 0-40 0-40 0-40 0-40 0-6 40-10 40-9 40-9 26-6 14-3 40-8 40-7 40-7 40-6 40-5 29-4 11-1 40-5 40-5 40-5 40-6 40-7 40-9 9-2 31-7 40-11 40-12 29-10 11-3 40-13 40-13 32-11 8-2 40-12 40-10 40-9 38-7 2 0 40-5 40-1 40 1 40-3 40-9 40-17 10-6 30-19 29-21 11-8 40-24 15-8 25-13 40-24 4-3 36-28 15-12 25-28 11-12 27-40 2-3 22-37 18-38 1-2 25-40 14-20 24-20 16-11 40-13 40-6 40-6 17-4 23-4 40-9 40-9 40-11 23-7 17-5 40-12 40-11 40-9 17-3 23-4 40-3 40 0 40 0 40 1 40-2 40-5 40-11 34-16 6-3 40-24 18-13 22-15 31-25 9-7 40-33 40-36 4-4 36-36 4-4 36-40 35-40 5-6 30-34 10-13 27-27 13-12 40-22 21-6z" fill="#8aff6d"/>
<path d="M4335 1831l40-8 40 0 40 7 20 7 20 9 40 20 22 11 18 12 40 25 4 3 34 40 2 3 27 37 13 15 25 25 15 11 37 29 3 2 40 27 21 11 19 10 40 14 40 10 40 6 1 0 39 3 40 5 40 8 0 24 0 40 0 40 0 40 0 40 0 40 0 40 0 40 0 40 0 40 0 40 0 40 0 40 0 40 0 40 0 40 0 40 0 40 0 40 0 40 0 40 0 40 0 40 0 40 0 40 0 40 0 40 0 40 0 40 0 40 0 40 0 40 0 40 0 40 0 40 0 40 0 40 0 40-40 0-40 0-40 0-40 0-40 0-40 0-40 0-40 0-40 0-40 0-40 0-40 0-40 0-40 0-40 0-40 0-40 0-40 0-40 0-40 0-40 0-40 0-40 0-40 0-40 0-40 0-40 0-40 0-40 0-40 0-40 0-40 0-40 0-40 0-40 0-40 0-40 0-40 0-40 0-40 0-40 0-40 0-40 0-40 0-40 0-40 0-40 0-40 0-40 0-40 0-40 0-40 0-40 0-40 0-40 0-40 0-40 0-40 0-40 0-40 0-40 0-40 0-40 0-40 0-40 0-40 0-40 0-40 0-40 0-40 0-40 0-40 0-40 0-40 0-40 0-40 0-40 0-40 0-40 0-40 0-40 0-40 0-40 0-40 0-40 0-40 0-40 0-40 0-40 0-40 0-40 0-40 0-40 0-40 0 0-40 0-40 0-40 0-40 0-40 0-40 0-40 0-40 0-40 0-40 0-40 0-40 0-40 0-40 0-40 0-2 40-10 40-11 40-9 31-8 9-2 40-9 40-8 40-8 40-7 40-6 2 0 38-5 40-5 40-5 40-5 40-7 40-7 27-6 13-3 40-10 40-12 40-13 5-2 35-12 40-15 32-13 8-3 40-14 40-15 23-8 17-5 40-10 40-8 40-6 40-2 40 1 40-2 35-8 5-1 40-15 40-23 2-1 38-25 24-15 16-10 40-20 18-10 22-13 40-26 1-1 39-32 9-8 31-34 6-6 30-40 4-6 25-34 15-22 17-18 23-23 28-17 12-7 40-14 40-12 20-7 20-7 40-12 40-13 23-8 17-5 40-13 40-14 26-8 14-4 40-9 40-7 40-3 40 0 40 2 40 1 40-1 40-4 40-10 11-5 29-12 40-26 3-2 37-26 16-14 24-19 26-21 14-12 32-28 8-7 34-33 6-6 31-34 9-10 26-30 14-16 22-24 18-21 19-19 21-21 29-19z" fill="#97ff60"/>
<path d="M4335 1867l40-9 40 4 40 13 5 2 35 24 22 16 18 20 20 20 20 28 8 12 30 40 2 2 40 37 2 1 38 24 25 16 15 10 40 26 7 4 33 21 37 19 3 2 40 24 20 14 20 19 39 21 1 0 40 6 40 5 40 6 0 23 0 40 0 40 0 40 0 40 0 40 0 40 0 40 0 40 0 40 0 40 0 40 0 40 0 40 0 40 0 40 0 40 0 40 0 40 0 40 0 40 0 40 0 40 0 40 0 40 0 40 0 40 0 40 0 40 0 40 0 40 0 40 0 40 0 40 0 40-40 0-40 0-40 0-40 0-40 0-40 0-40 0-40 0-40 0-40 0-40 0-40 0-40 0-40 0-40 0-40 0-40 0-40 0-40 0-40 0-40 0-40 0-40 0-40 0-40 0-40 0-40 0-40 0-40 0-40 0-40 0-40 0-40 0-40 0-40 0-40 0-40 0-40 0-40 0-40 0-40 0-40 0-40 0-40 0-40 0-40 0-40 0-40 0-40 0-40 0-40 0-40 0-40 0-40 0-40 0-40 0-40 0-40 0-40 0-40 0-40 0-40 0-40 0-40 0-40 0-40 0-40 0-40 0-40 0-40 0-40 0-40 0-40 0-40 0-40 0-40 0-40 0-40 0-40 0-40 0-40 0-40 0-40 0-40 0-40 0-40 0-40 0-40 0-40 0-40 0-40 0-40 0-40 0-40 0 0-40 0-40 0-40 0-40 0-40 0-40 0-40 0-40 0-40 0-40 0-40 0-40 0-40 0-36 12-4 28-8 40-11 40-11 39-10 1 0 40-10 40-9 40-9 40-8 26-4 14-2 40-6 40-5 40-6 40-5 40-6 40-8 11-2 29-6 40-11 40-12 30-11 10-3 40-16 40-17 9-4 31-13 40-18 20-9 20-8 40-15 40-13 15-4 25-5 40-7 40-2 40 1 40-2 40-7 40-15 7-3 33-17 37-23 3-2 40-23 28-15 12-6 40-21 22-13 18-11 40-29 40-35 6-5 34-35 6-5 34-37 3-3 37-38 3-2 37-29 17-11 23-12 40-19 20-9 20-8 40-17 38-15 2-1 40-15 40-15 23-9 17-6 40-12 40-10 40-7 40-3 40 0 40 3 40 2 40 1 40-3 26-5 14-3 40-16 33-21 7-4 40-31 6-5 34-28 14-12 26-22 22-18 18-16 26-24 14-13 25-27 15-17 20-23 20-23 16-17 24-26 16-14 24-24 24-16z" fill="#a0ff56"/>
<path d="M4335 1913l40-6 40 9 1 1 39 40 22 40 18 29 8 11 32 26 16 14 24 19 29 21 11 7 40 25 13 8 27 20 27 20 13 13 30 27 10 11 29 29 11 14 22 26 18 21 19 19 21 20 30 20 10 7 40 19 40 14 2 0 38 9 40 4 0 27 0 40 0 40 0 40 0 40 0 40 0 40 0 40 0 40 0 40 0 40 0 40 0 40 0 40 0 40 0 40 0 40 0 40 0 40 0 40 0 40 0 40 0 40 0 40 0 40 0 40 0 40 0 40 0 40 0 40 0 40-40 0-40 0-40 0-40 0-40 0-40 0-40 0-40 0-40 0-40 0-40 0-40 0-40 0-40 0-40 0-40 0-40 0-40 0-40 0-40 0-40 0-40 0-40 0-40 0-40 0-40 0-40 0-40 0-40 0-40 0-40 0-40 0-40 0-40 0-40 0-40 0-40 0-40 0-40 0-40 0-40 0-40 0-40 0-40 0-40 0-40 0-40 0-40 0-40 0-40 0-40 0-40 0-40 0-40 0-40 0-40 0-40 0-40 0-40 0-40 0-40 0-40 0-40 0-40 0-40 0-40 0-40 0-40 0-40 0-40 0-40 0-40 0-40 0-40 0-40 0-40 0-40 0-40 0-40 0-40 0-40 0-40 0-40 0-40 0-40 0-40 0-40 0-40 0-40 0-40 0-40 0-40 0-40 0-40 0 0-40 0-40 0-40 0-40 0-40 0-40 0-40 0-40 0-40 0-40 0-40 0-40 0-30 33-10 7-2 40-12 40-12 40-12 9-2 31-8 40-11 40-9 40-8 19-4 21-4 40-6 40-6 40-5 40-6 40-5 40-8 2 0 38-8 40-10 40-13 24-9 16-6 40-16 38-18 2-1 40-19 39-20 1-1 40-19 40-19 1-1 39-14 40-11 40-8 40-4 40 1 40-2 14-2 26-4 40-11 40-19 11-6 29-16 40-23 1-1 39-19 40-21 40-22 27-18 13-9 40-30 1-1 39-32 10-8 30-27 17-13 23-20 26-20 14-11 39-29 1-1 40-25 24-14 16-8 40-20 24-12 16-7 40-17 36-16 4-1 40-16 40-15 29-8 11-3 40-6 40-3 40 2 40 4 40 3 40 2 40-1 40-6 40-14 30-18 10-6 40-31 3-3 37-33 7-7 33-28 14-12 26-22 21-18 19-17 23-23 17-19 19-21 21-25 13-15 27-28 15-12 25-21 33-19z" fill="#aaff4d"/>
<path d="M4295 1986l40-13 40 10 14 14 26 37 2 3 33 40 5 5 40 33 3 2 37 37 4 3 36 37 5 3 35 36 4 4 22 40 14 38 1 2 9 40 16 40 14 20 11 20 29 35 3 5 34 40 3 2 34 38 6 6 35 34 5 4 40 29 14 7 26 10 40 1 40-8 8-3 32-11 40-15 0 26 0 40 0 40 0 40 0 40 0 40 0 40 0 40 0 40 0 40 0 40 0 40 0 40 0 40 0 40 0 40 0 40 0 40 0 40 0 40 0 40 0 40 0 40 0 40 0 40 0 40 0 40-40 0-40 0-40 0-40 0-40 0-40 0-40 0-40 0-40 0-40 0-40 0-40 0-40 0-40 0-40 0-40 0-40 0-40 0-40 0-40 0-40 0-40 0-40 0-40 0-40 0-40 0-40 0-40 0-40 0-40 0-40 0-40 0-40 0-40 0-40 0-40 0-40 0-40 0-40 0-40 0-40 0-40 0-40 0-40 0-40 0-40 0-40 0-40 0-40 0-40 0-40 0-40 0-40 0-40 0-40 0-40 0-40 0-40 0-40 0-40 0-40 0-40 0-40 0-40 0-40 0-40 0-40 0-40 0-40 0-40 0-40 0-40 0-40 0-40 0-40 0-40 0-40 0-40 0-40 0-40 0-40 0-40 0-40 0-40 0-40 0-40 0-40 0-40 0-40 0-40 0-40 0-40 0-40 0-40 0 0-40 0-40 0-40 0-40 0-40 0-40 0-40 0-40 0-40 0-40 0-40 0-22 40-13 15-5 25-8 40-13 40-13 21-6 19-6 40-11 40-10 40-9 17-4 23-5 40-7 40-6 40-5 40-5 40-6 40-6 40-8 40-9 40-13 27-10 13-5 40-17 36-18 4-2 40-20 31-18 9-5 40-22 21-13 19-10 40-19 31-11 9-3 40-7 40-4 40 0 40-2 40-6 40-11 17-7 23-9 40-21 20-10 20-11 40-19 19-10 21-10 40-21 15-9 25-16 34-24 6-4 40-29 10-7 30-23 25-17 15-12 40-26 3-2 37-28 15-12 25-18 31-22 9-5 40-24 20-11 20-10 40-19 23-11 17-7 40-18 34-15 6-2 40-10 40-8 40-2 40 3 40 6 40 5 40 4 40 0 40-4 40-12 39-20 1-1 40-29 11-10 29-27 12-13 28-28 12-12 28-24 21-16 19-16 27-24 13-13 25-27 15-18 20-22 20-22 24-18zM4366 2277l-31 15-16 25 0 40 16 35 5 5 35 27 34 13 6 3 40 3 27-6 13-7 29-33-10-40-19-14-27-26-13-5-40-16-34-19-6-1z" fill="#b4ff43"/>
<path d="M4295 2051l40-3 40 23 5 6 35 32 8 8 31 40 1 10 6 30-6 8-40 29-40 3-40 0-2 0-38 10-40 28-2 2-21 40-7 40 1 40 7 40 12 40 10 29 5 11 16 40 17 40 2 5 20 35 20 29 13 11 27 18 40 6 40-7 40-11 27-6 13-2 40-1 39 3 1 0 40 5 40 8 40 12 40 15 40 15 40 15 35 10 5 1 40 4 40-3 9-2 31-8 40-14 40-15 0 37 0 40 0 40 0 40 0 40 0 40 0 40 0 40 0 40 0 40 0 40 0 40 0 40 0 40 0 40 0 40 0 40 0 40 0 40 0 40 0 40 0 40 0 40 0 40-40 0-40 0-40 0-40 0-40 0-40 0-40 0-40 0-40 0-40 0-40 0-40 0-40 0-40 0-40 0-40 0-40 0-40 0-40 0-40 0-40 0-40 0-40 0-40 0-40 0-40 0-40 0-40 0-40 0-40 0-40 0-40 0-40 0-40 0-40 0-40 0-40 0-40 0-40 0-40 0-40 0-40 0-40 0-40 0-40 0-40 0-40 0-40 0-40 0-40 0-40 0-40 0-40 0-40 0-40 0-40 0-40 0-40 0-40 0-40 0-40 0-40 0-40 0-40 0-40 0-40 0-40 0-40 0-40 0-40 0-40 0-40 0-40 0-40 0-40 0-40 0-40 0-40 0-40 0-40 0-40 0-40 0-40 0-40 0-40 0-40 0-40 0-40 0-40 0-40 0-40 0-40 0-40 0-40 0 0-40 0-40 0-40 0-40 0-40 0-40 0-40 0-40 0-40 0-40 0-12 40-14 38-14 2-1 40-13 40-14 36-12 4-1 40-13 40-11 40-10 21-5 19-4 40-8 40-6 40-6 40-4 40-5 40-6 7-1 33-6 40-8 40-12 39-14 1 0 40-18 40-20 4-2 36-19 35-21 5-3 40-23 21-14 19-11 40-28 2-1 38-13 40-9 40-6 40-3 40-2 40-6 5-1 35-7 40-14 39-19 1-1 40-18 40-19 4-2 36-16 40-21 5-3 35-19 31-21 9-6 40-28 9-6 31-21 29-19 11-7 40-25 12-8 28-19 29-21 11-9 40-29 2-2 38-25 24-15 16-9 40-20 23-11 17-8 40-17 32-15 8-3 40-11 40-8 40-3 40 5 40 7 40 7 40 5 12 1 28 2 37-2 3 0 40-7 40-14 32-19 8-5 40-35 36-40 4-5 29-35 11-11 36-29 4-3 40-29 8-8 32-33 6-7 34-39 2-1z" fill="#beff39"/>
<path d="M4335 2150l32 7-32 8-10-8zM3575 2433l40-4 40 3 30 5 10 2 40 10 40 8 40 7 40 3 40 0 40-3 40-5 40-6 40 3 21 21 19 40 9 40 9 40 11 40 11 26 5 14 23 40 12 15 20 25 20 19 21 21 19 14 31 26 9 6 40 23 40 11 40-9 40-15 37-16 3-1 40-19 40-13 37-7 3-1 40-3 40 1 25 3 15 2 40 7 40 10 40 10 40 9 35 2 5 0 2 0 38-6 40-11 40-12 34-11 6-2 0 2 0 40 0 40 0 40 0 40 0 40 0 40 0 40 0 40 0 40 0 40 0 40 0 40 0 40 0 40 0 40 0 40 0 40 0 40 0 40 0 40 0 40 0 40-40 0-40 0-40 0-40 0-40 0-40 0-40 0-40 0-40 0-40 0-40 0-40 0-40 0-40 0-40 0-40 0-40 0-40 0-40 0-40 0-40 0-40 0-40 0-40 0-40 0-40 0-40 0-40 0-40 0-40 0-40 0-40 0-40 0-40 0-40 0-40 0-40 0-40 0-40 0-40 0-40 0-40 0-40 0-40 0-40 0-40 0-40 0-40 0-40 0-40 0-40 0-40 0-40 0-40 0-40 0-40 0-40 0-40 0-40 0-40 0-40 0-40 0-40 0-40 0-40 0-40 0-40 0-40 0-40 0-40 0-40 0-40 0-40 0-40 0-40 0-40 0-40 0-40 0-40 0-40 0-40 0-40 0-40 0-40 0-40 0-40 0-40 0-40 0-40 0-40 0-40 0-40 0-40 0-40 0 0-40 0-40 0-40 0-40 0-40 0-40 0-40 0-40 0-40 40-15 40-16 24-9 16-6 40-15 40-14 13-5 27-9 40-12 40-12 28-7 12-3 40-8 40-7 40-5 40-5 40-4 40-4 26-4 14-2 40-7 40-10 40-13 18-8 22-9 40-21 18-10 22-12 40-23 8-5 32-18 39-22 1 0 40-24 27-16 13-7 40-18 40-11 24-4 16-2 40-4 40-4 40-8 40-12 26-10 14-5 40-17 39-18 1 0 40-17 40-20 5-3 35-18 34-22 6-3 40-27 15-10 25-16 37-24 3-2 40-25 21-13 19-12 40-27 2-1 38-27 18-13 22-16 35-24 5-3 40-21 36-16 4-1 40-12 40-10 40-10 24-7zM3707 2957l14 40 14 8 40 4 19-12 8-40-27-34-40-3z" fill="#caff2c"/>
<path d="M3375 2547l40-15 40-7 40 0 40 0 40-4 40-3 40 3 40 10 40 14 32 12 8 5 40 22 23 13 17 17 23 23 17 29 6 11 13 40 3 40-22 17-40-4-40-5-40-1-40 5-40 13-27 15-13 7-36 33-4 4-24 36-15 40-1 6-4 34 4 17 5 23 25 40 10 9 40 28 8 3 32 10 40 4 40-3 40-11 1 0 39-22 25-18 15-18 20-22 20-37 2-3 16-40 12-40 10-30 32-10 8-1 6 1 34 3 40 7 40 10 40 13 14 7 26 9 40 20 22 11 18 8 40 13 40 5 40-3 40-9 40-13 3-1 37-15 40-14 37-11 3-1 40-8 40-3 40 2 40 6 19 4 21 4 40 7 40 4 40 1 40-6 39-10 1 0 40-11 40-11 0 22 0 40 0 40 0 40 0 40 0 40 0 40 0 40 0 40 0 40 0 40 0 40 0 40 0 40 0 40 0 40 0 40 0 40 0 40 0 40 0 40-40 0-40 0-40 0-40 0-40 0-40 0-40 0-40 0-40 0-40 0-40 0-40 0-40 0-40 0-40 0-40 0-40 0-40 0-40 0-40 0-40 0-40 0-40 0-40 0-40 0-40 0-40 0-40 0-40 0-40 0-40 0-40 0-40 0-40 0-40 0-40 0-40 0-40 0-40 0-40 0-40 0-40 0-40 0-40 0-40 0-40 0-40 0-40 0-40 0-40 0-40 0-40 0-40 0-40 0-40 0-40 0-40 0-40 0-40 0-40 0-40 0-40 0-40 0-40 0-40 0-40 0-40 0-40 0-40 0-40 0-40 0-40 0-40 0-40 0-40 0-40 0-40 0-40 0-40 0-40 0-40 0-40 0-40 0-40 0-40 0-40 0-40 0-40 0-40 0-40 0-40 0-40 0-40 0-40 0 0-40 0-40 0-40 0-40 0-40 0-40 0-40 0-26 35-14 5-2 40-16 40-17 12-5 28-11 40-16 34-13 6-2 40-14 40-13 40-11 40-9 40-7 40-6 40-4 40-3 40-4 40-4 23-3 17-2 40-8 40-12 40-16 4-2 36-18 37-22 3-1 40-24 26-15 14-8 40-21 23-11 17-8 40-20 20-12 20-14 40-21 17-5 23-6 40-6 40-6 40-7 40-9 22-6 18-5 40-14 40-16 13-5 27-10 40-18 23-12 17-8 40-23 13-9 27-17 33-23 7-5 40-26 14-9 26-16 38-24 2-1 40-24 23-15 17-11 40-27 3-2 37-24 23-16z" fill="#d4ff23"/>
<path d="M3415 2629l40 0 35 8 5 3 37 37-5 40-18 40-14 30-4 10-18 40-16 40-2 6-14 34-10 40-1 40 25 32 4 8 36 29 11 11 29 18 34 22 6 3 40 16 40 12 40 5 40-1 40-6 40-7 40-12 22-10 18-9 40-25 9-6 31-24 22-16 18-15 36-25 4-3 40-23 40-13 8-1 32-3 19 3 21 3 40 14 40 12 40 8 39 3 1 0 2 0 38-2 40-5 40-10 40-11 36-12 4-1 40-14 40-10 40-6 40 1 40 4 40 5 40 4 40 2 40-3 40-7 40-8 38-7 2 0 40-7 0 7 0 40 0 40 0 40 0 40 0 40 0 40 0 40 0 40 0 40 0 40 0 40 0 40 0 40 0 40 0 40 0 40 0 40 0 40 0 40-40 0-40 0-40 0-40 0-40 0-40 0-40 0-40 0-40 0-40 0-40 0-40 0-40 0-40 0-40 0-40 0-40 0-40 0-40 0-40 0-40 0-40 0-40 0-40 0-40 0-40 0-40 0-40 0-40 0-40 0-40 0-40 0-40 0-40 0-40 0-40 0-40 0-40 0-40 0-40 0-40 0-40 0-40 0-40 0-40 0-40 0-40 0-40 0-40 0-40 0-40 0-40 0-40 0-40 0-40 0-40 0-40 0-40 0-40 0-40 0-40 0-40 0-40 0-40 0-40 0-40 0-40 0-40 0-40 0-40 0-40 0-40 0-40 0-40 0-40 0-40 0-40 0-40 0-40 0-40 0-40 0-40 0-40 0-40 0-40 0-40 0-40 0-40 0-40 0-40 0-40 0-40 0-40 0-40 0 0-40 0-40 0-40 0-40 0-40 0-40 0-9 40-17 32-14 8-3 40-18 40-18 3-1 37-16 40-17 17-7 23-9 40-14 40-12 18-5 22-6 40-7 40-6 40-4 40-3 40-2 40-3 40-3 37-6 3 0 40-10 40-14 33-16 7-4 40-24 19-12 21-13 40-24 5-3 35-19 39-21 1 0 40-21 34-19 6-4 40-23 31-13 9-3 40-11 40-7 40-6 40-5 40-6 7-2 33-8 40-11 40-13 26-8 14-5 40-14 40-20 2-1 38-22 22-18 18-12 33-28 7-5 40-29 9-6 31-19 35-21 5-3 40-21 34-16 6-3 40-17 40-17 10-3z" fill="#deff19"/>
<path d="M3255 2792l37 5 3 1 22 39-6 40-16 29-6 11-34 36-10 4-30 18-40-10-7-8-24-40 3-40 24-40 4-4 40-28 25-8zM2855 2996l40-2 40 3 2 0 38 8 40 16 28 16 12 5 40 13 40 4 40 7 19 11 21 7 40 18 40 13 8 2 32 4 40 4 40 6 40 13 30 13 10 4 40 15 40 15 22 6 18 5 40 8 40 5 40 2 40-5 40-8 22-7 18-5 40-16 38-19 2-1 40-23 29-16 11-7 40-23 20-10 20-11 40-17 40-10 34-2 6 0 4 0 36 3 40 4 40 3 40 1 40-1 40-5 35-5 5-1 40-8 40-10 40-11 35-10 5-1 40-8 40-1 40 2 40 2 40 1 40-2 40-5 40-8 40-6 40-4 40-2 0 32 0 40 0 40 0 40 0 40 0 40 0 40 0 40 0 40 0 40 0 40 0 40 0 40 0 40 0 40 0 40 0 40 0 40-40 0-40 0-40 0-40 0-40 0-40 0-40 0-40 0-40 0-40 0-40 0-40 0-40 0-40 0-40 0-40 0-40 0-40 0-40 0-40 0-40 0-40 0-40 0-40 0-40 0-40 0-40 0-40 0-40 0-40 0-40 0-40 0-40 0-40 0-40 0-40 0-40 0-40 0-40 0-40 0-40 0-40 0-40 0-40 0-40 0-40 0-40 0-40 0-40 0-40 0-40 0-40 0-40 0-40 0-40 0-40 0-40 0-40 0-40 0-40 0-40 0-40 0-40 0-40 0-40 0-40 0-40 0-40 0-40 0-40 0-40 0-40 0-40 0-40 0-40 0-40 0-40 0-40 0-40 0-40 0-40 0-40 0-40 0-40 0-40 0-40 0-40 0-40 0-40 0-40 0-40 0-40 0-40 0-40 0 0-40 0-40 0-40 0-40 0-29 25-11 15-7 40-18 33-15 7-3 40-19 37-18 3-1 40-19 40-18 5-2 35-14 40-14 39-12 1 0 40-9 40-6 40-3 40-2 40-2 40-1 40-3 40-5 40-8 4-1 36-11 40-18 19-11 21-13 40-26 2-1 38-24 25-16 15-9 40-23 14-8 26-14 40-22 7-4 33-18 40-19 9-3 31-10 40-8 40-5 40-3 40-3 40-4 40-5 26-2z" fill="#e7ff0f"/>
<path d="M4935 3037l40-6 40-5 40-2 40 0 0 13 0 40 0 40 0 40 0 40 0 40 0 40 0 40 0 40 0 40 0 40 0 40 0 40 0 40 0 40 0 40 0 40-40 0-40 0-40 0-40 0-40 0-40 0-40 0-40 0-40 0-40 0-40 0-40 0-40 0-40 0-40 0-40 0-40 0-40 0-40 0-40 0-40 0-40 0-40 0-40 0-40 0-40 0-40 0-40 0-40 0-40 0-40 0-40 0-40 0-40 0-40 0-40 0-40 0-40 0-40 0-40 0-40 0-40 0-40 0-40 0-40 0-40 0-40 0-40 0-40 0-40 0-40 0-40 0-40 0-40 0-40 0-40 0-40 0-40 0-40 0-40 0-40 0-40 0-40 0-40 0-40 0-40 0-40 0-40 0-40 0-40 0-40 0-40 0-40 0-40 0-40 0-40 0-40 0-40 0-40 0-40 0-40 0-40 0-40 0-40 0-40 0-40 0-40 0-40 0-40 0-40 0-40 0-40 0-40 0-40 0 0-40 0-40 0-40 0-7 40-17 35-16 5-2 40-19 38-19 2-1 40-20 36-19 4-2 40-20 37-18 3-1 40-17 40-14 31-8 9-2 40-6 40-3 40-2 40 0 40-1 40-2 40-4 40-9 38-11 2-1 40-16 40-21 3-2 37-23 26-17 14-9 40-26 7-5 33-20 32-20 8-5 40-23 22-12 18-9 40-19 33-12 7-2 40-9 40-5 40-1 40 0 40 2 40 3 40 6 26 6 14 4 40 15 40 17 8 4 32 14 40 16 30 10 10 3 40 10 40 9 40 9 40 6 40 3 15 0 25 1 40 2 40 5 40 10 40 12 34 10 6 2 40 10 40 9 40 9 40 7 18 3 22 3 40 1 21-4 19-5 40-15 40-17 6-3 34-17 40-20 6-3 34-19 40-20 3-1 37-18 40-14 30-8 10-3 40-8 40-4 40-2 40-1 40-1 40-2 40-3 40-5 40-5 38-6 2 0 40-7 40-7 40-6 40-4 40-4 40-2 40-2 40-4 36-4z" fill="#f1fc06"/>
<path d="M2615 3117l40-4 40 1 37 3 3 0 40 7 40 10 40 14 23 9 17 8 40 18 33 14 7 3 40 16 40 14 27 7 13 3 40 7 40 4 40 3 40 1 40 2 40 2 40 4 40 6 40 7 3 1 37 7 40 9 40 8 40 9 36 7 4 1 40 7 40 5 40 1 40-5 31-9 9-3 40-16 40-17 8-4 32-16 40-21 6-3 34-17 40-19 11-4 29-11 40-12 40-10 40-7 1 0 39-5 40-3 40-3 40-2 40-3 40-3 40-4 40-4 40-3 40-3 40-3 27-4 13-2 40-7 40-5 40-5 40-3 40-4 40-2 40-2 40-2 40 0 0 32 0 40 0 40 0 40 0 40 0 40 0 40 0 40 0 40 0 40 0 40 0 40 0 40 0 40 0 40-40 0-40 0-40 0-40 0-40 0-40 0-40 0-40 0-40 0-40 0-40 0-40 0-40 0-40 0-40 0-40 0-40 0-40 0-40 0-40 0-40 0-40 0-40 0-40 0-40 0-40 0-40 0-40 0-40 0-40 0-40 0-40 0-40 0-40 0-40 0-40 0-40 0-40 0-40 0-40 0-40 0-40 0-40 0-40 0-40 0-40 0-40 0-40 0-40 0-40 0-40 0-40 0-40 0-40 0-40 0-40 0-40 0-40 0-40 0-40 0-40 0-40 0-40 0-40 0-40 0-40 0-40 0-40 0-40 0-40 0-40 0-40 0-40 0-40 0-40 0-40 0-40 0-40 0-40 0-40 0-40 0-40 0-40 0-40 0-40 0-40 0-40 0-40 0-40 0-40 0-40 0-40 0-40 0-40 0 0-40 0-21 40-18 3-1 37-17 40-18 10-5 30-14 40-21 8-5 32-17 40-23 1 0 39-21 38-19 2-1 40-17 40-13 40-7 27-2 13-1 40 0 40 0 40-1 40-2 40-5 40-8 40-12 28-11 12-5 40-19 28-16 12-7 40-24 13-9 27-17 33-23 7-4 40-26 15-10 25-15 40-23 4-2 36-17 40-14 40-9z" fill="#feed00"/>
<path d="M4815 3155l40-5 40-4 40-3 40 0 40-1 40 0 40 1 0 14 0 40 0 40 0 40 0 40 0 40 0 40 0 40 0 40 0 40 0 40 0 40 0 40 0 40-40 0-40 0-40 0-40 0-40 0-40 0-40 0-40 0-40 0-40 0-40 0-40 0-40 0-40 0-40 0-40 0-40 0-40 0-40 0-40 0-40 0-40 0-40 0-40 0-40 0-40 0-40 0-40 0-40 0-40 0-40 0-40 0-40 0-40 0-40 0-40 0-40 0-40 0-40 0-40 0-40 0-40 0-40 0-40 0-40 0-40 0-40 0-40 0-40 0-40 0-40 0-40 0-40 0-40 0-40 0-40 0-40 0-40 0-40 0-40 0-40 0-40 0-40 0-40 0-40 0-40 0-40 0-40 0-40 0-40 0-40 0-40 0-40 0-40 0-40 0-40 0-40 0-40 0-40 0-40 0-40 0-40 0-40 0-40 0-40 0-40 0-40 0-40 0-40 0-40 0-40 0-40 0-40 0-23 0 23-10 40-18 26-12 14-6 40-19 30-15 10-5 40-22 24-13 16-9 40-23 14-8 26-14 40-19 17-7 23-8 40-9 40-3 40 0 40-2 40-3 40-4 40-6 25-5 15-3 40-11 40-14 27-12 13-6 40-20 26-14 14-8 40-25 11-7 29-20 29-20 11-8 40-27 8-5 32-19 39-21 1 0 40-15 40-7 40-2 40 3 40 8 40 11 7 2 33 13 40 17 21 10 19 9 40 18 28 13 12 5 40 17 40 12 32 6 8 1 40 3 40-1 29-3 11-1 40-2 40-1 40 3 9 1 31 3 40 6 40 4 40 6 40 8 40 8 29 5 11 2 40 7 40 5 40 2 40 0 40-3 40-7 22-6 18-5 40-15 40-17 5-3 35-17 40-21 3-2 37-18 40-18 11-4 29-10 40-11 40-8 40-6 40-5 3 0 37-3 40-3 40-3 40-3 40-3 40-3 40-2 40-2 40-3 40-5 40-6 25-4z" fill="#ffe200"/>
<path d="M4895 3195l40-3 40-2 40 1 40 2 31 4 9 1 0 39 0 40 0 40 0 40 0 40 0 40 0 40 0 40 0 40 0 40 0 40 0 40-40 0-40 0-40 0-40 0-40 0-40 0-40 0-40 0-40 0-40 0-40 0-40 0-40 0-40 0-40 0-40 0-40 0-40 0-40 0-40 0-40 0-40 0-40 0-40 0-40 0-40 0-40 0-40 0-40 0-40 0-40 0-40 0-40 0-40 0-40 0-40 0-40 0-40 0-40 0-40 0-40 0-40 0-40 0-40 0-40 0-40 0-40 0-40 0-40 0-40 0-40 0-40 0-40 0-40 0-40 0-40 0-40 0-40 0-40 0-40 0-40 0-40 0-40 0-40 0-40 0-40 0-40 0-40 0-40 0-40 0-40 0-40 0-40 0-40 0-40 0-40 0-40 0-40 0-40 0-40 0-40 0-40 0-40 0-40 0-40 0-40 0-40 0-40 0-40 0-26 0 26-12 40-21 14-7 26-14 40-22 8-4 32-17 40-19 11-4 29-11 40-10 40-6 40-4 40-5 25-4 15-2 40-6 40-7 40-8 40-10 22-7 18-5 40-14 40-16 11-5 29-13 40-22 8-5 32-20 28-20 12-8 40-31 1-1 39-26 23-14 17-9 40-15 40-8 40 1 40 7 40 13 29 11 11 5 40 20 32 15 8 4 40 21 30 15 10 7 40 24 23 9 17 7 40 9 40 1 40-4 40-9 12-4 28-7 40-9 40-5 40-2 40 1 40 3 40 4 40 6 40 7 9 2 31 7 40 7 40 5 40 2 40-1 40-1 40-1 40-3 40-7 29-8 11-3 40-15 40-19 6-3 34-18 40-22 40-20 40-18 7-2 33-10 40-9 40-7 40-5 40-4 40-3 20-2 20-2 40-3 40-3 40-3 40-2 40-3 40-4 40-4 40-4 40-5 40-5 18-2z" fill="#ffd700"/>
<path d="M4535 3277l40-4 40-3 40-4 40-3 40-4 40-3 40-4 40-4 40-4 40-3 40-3 40 2 40 6 40 9 0 22 0 40 0 40 0 40 0 40 0 40 0 40 0 40 0 40 0 40 0 40-40 0-40 0-40 0-40 0-40 0-40 0-40 0-40 0-40 0-40 0-40 0-40 0-40 0-40 0-40 0-40 0-40 0-40 0-40 0-40 0-40 0-40 0-40 0-40 0-40 0-40 0-40 0-40 0-40 0-40 0-40 0-40 0-40 0-40 0-40 0-40 0-40 0-40 0-40 0-40 0-40 0-40 0-40 0-40 0-40 0-40 0-40 0-40 0-40 0-40 0-40 0-40 0-40 0-40 0-40 0-40 0-40 0-40 0-40 0-40 0-40 0-40 0-40 0-40 0-40 0-40 0-40 0-40 0-40 0-40 0-40 0-40 0-40 0-40 0-40 0-40 0-40 0-40 0-40 0-40 0-40 0-40 0-40 0-40 0-40 0-32 0 32-16 40-18 15-6 25-10 40-12 40-9 40-8 6-1 34-6 40-8 40-7 40-8 40-8 18-3 22-4 40-8 40-9 40-9 40-10 1 0 39-10 40-15 32-15 8-4 40-25 14-11 26-22 20-18 20-16 36-24 4-2 40-3 25 5 15 5 40 22 19 13 21 20 21 20 19 23 14 17 26 33 6 7 34 35 7 5 33 19 40 8 40-2 40-7 40-9 30-9 10-3 40-13 40-15 17-9 23-11 40-25 6-4 34-17 40-16 24-7 16-3 40-2 40 4 4 1 36 8 40 10 40 9 40 6 40 4 40-1 40-3 40-4 40 2 40 1 40-3 40-7 40-12 21-10 19-8 40-22 16-10 24-14 40-24 4-2 36-18 40-16 20-6 20-5 40-8 40-6 40-5 40-4 40-5 40-3 37-4z" fill="#ffcc00"/>
<path d="M4655 3313l40-3 40-3 40-2 40-2 40-2 40-2 40-2 40-1 40 5 40 8 31 8 9 3 0 37 0 40 0 40 0 40 0 40 0 40 0 40 0 40 0 40-40 0-40 0-40 0-40 0-40 0-40 0-40 0-40 0-40 0-40 0-40 0-40 0-40 0-40 0-40 0-40 0-40 0-40 0-40 0-40 0-40 0-40 0-40 0-40 0-40 0-40 0-40 0-40 0-40 0-40 0-40 0-40 0-40 0-40 0-40 0-40 0-40 0-40 0-40 0-40 0-40 0-40 0-40 0-40 0-40 0-40 0-40 0-40 0-14 0 14-5 40-15 40-18 4-2 36-23 21-17 19-19 22-21 18-15 40-21 40 0 40 9 40 10 40 10 37 7 3 1 40 7 40 4 40 3 40 1 40-3 40-4 40-6 12-3 28-5 40-12 40-18 8-5 32-18 27-22 13-9 38-31 2-1 40-26 24-13 16-7 40-14 40-11 35-8 5-1 40-6 40-6 40-6 40-6 40-5 40-5 40-5 1 0zM2095 3637l40-4 40-2 40 1 40 4 9 1 31 5 40 8 40 9 40 11 24 7-24 0-40 0-40 0-40 0-40 0-40 0-40 0-40 0-40 0-40 0-40 0-40 0-40 0-40 0-12 0 12-3 40-9 40-8 40-8 40-7 37-5z" fill="#ffc100"/>
<path d="M4495 3391l40-8 40-7 40-7 40-5 40-4 40-1 40-1 40 1 40 1 40 2 40 3 40 6 40 8 40 9 36 9 4 1 0 39 0 40 0 40 0 40 0 40 0 40 0 40-40 0-40 0-40 0-40 0-40 0-40 0-40 0-40 0-40 0-40 0-40 0-40 0-40 0-40 0-40 0-40 0-40 0-40 0-40 0-40 0-40 0-40 0-40 0-40 0-40 0-40 0-40 0-14 0 14-5 40-19 31-16 9-6 40-31 3-3 29-40 8-13 16-27 24-28 14-12 26-14 40-18 21-8 19-6 40-11 40-10 40-10 11-3z" fill="#ffb200"/>
<path d="M4615 3431l40-8 40-5 40 0 40 3 40 4 40 7 29 5 11 3 40 10 40 11 40 10 27 6 13 3 40 9 0 28 0 40 0 40 0 40 0 40-40 0-40 0-40 0-40 0-40 0-40 0-40 0-40 0-40 0-40 0-40 0-40 0-40 0-40 0-40 0-40 0-40 0-40 0-40 0-40 0-40 0 29-40 11-17 15-23 25-33 7-7 33-28 16-12 24-13 40-20 16-7 24-9 40-14 40-13 13-4z" fill="#ffa700"/>
<path d="M4655 3507l40-9 40 0 40 7 40 9 11 3 29 9 40 13 40 14 11 4 29 9 40 10 40 6 40 5 0 10 0 40 0 40-40 0-40 0-40 0-40 0-40 0-40 0-40 0-40 0-40 0-40 0-40 0-40 0-40 0-40 0-40 0-40 0-40 0-2 0 2-2 34-38 6-6 37-34 3-3 40-29 13-8 27-15 40-21 10-4z" fill="#ff9c00"/>
<path d="M4655 3674l40-14 40-10 40-5 40 2 40 6 40 8 40 8 40 7 6 1-6 0-40 0-40 0-40 0-40 0-40 0-40 0-40 0-40 0-6 0z" fill="#ff9100"/>
</g>
<g fill="#fff" stroke="none">
<path d="M424.5 32.5 423.5 35 426.5 38 424 41 420 46 418 51 417.5 56 417.5 60 432.8 60 432.5 56 433.5 51 433 46.5 430.5 43 428.5 39 429 35 430 31Z"/>
<path d="M205 150 252 150 252 160.5 229.5 160.5 229.5 190 205 190Z"/>
<path d="M220 200 229.5 200 229.5 219 220 219Z"/>
<path d="M296 160.5 302.5 160.5 302.5 173 296 173Z"/>
<path d="M275 175 273.5 181 279 184.5 284 187.5 285 193 286 200 285.5 208 286.5 215 290 215 292 190 285 180Z"/>
<path d="M429 137 434.5 137 434.5 141 431 141Z"/>
<path d="M146 351 156 347 163 346 165 348 158 350 150 353.5 143 354.5Z"/>
<path d="M140 355 142 357 142.5 361 140 363 138 364.5 137.5 356Z"/>
<path d="M383 191 385 187 388 187.5 385.5 190 386 193 383.5 196Z"/>
<path d="M394 191 400 187.5 400 184.5 396 188Z"/>
<path d="M376 204.5 378 200 381 197 377 199.5 374 204Z"/>
</g>
<g fill="#fff" stroke="#1a1a1a" stroke-width="0.75" stroke-linejoin="round">
<path d="M137.5 23.7 424.5 23.7 424.8 29.5 421.2 28.2 424.2 31 424.5 32.5 423.5 35 426.5 38 424 41 420 46 418 51 417.5 56 417.5 60 417.5 64 416 68 415 73 411 77 407 81 403 86 400 89 397 95 391 102 384 108 379 113 374 118 369 124 365 127.5 360 130.5 356 133 350 133.5 345 132.5 342 131 341.5 128 338 128 335 131 332 133.5 328 134.5 326 137.5 322 140.5 319 144 319 149 318 152 313 156 308 159.5 303 161.5 299 164 297.5 168 299 170.5 303 173 306 176 309 179 312 184 315 190 316.5 196 317 202 316 206 313 210 309 212.5 305 213.5 300 214.5 295 216 291 218.3 287.5 218 286 216 287.5 214 287 210.5 287.5 212 289 208 291.5 204 289.5 199 287.5 196 289 193.5 293 192.5 291 189 290 185 287 183 283 182.5 279 184 276 181.5 272.5 181 273 178 275 175.5 279 174.5 279.5 171 279 167 275 164.5 272 164 269 161.5 263 162.5 257 164 252 166.5 248 169.5 244 172 240 173 244 170 245.5 167.5 242 167 243 164 246 160.5 249 158.5 250.5 155.5 249 153 246 151.5 242 151.5 238 154 234 158.5 230 160.5 225 163 221 167 218 169 213 169 209 170.5 207 174 208 178 212 180 217 180.5 221 183 221.5 188 224 190 227 190 229.5 188 233 184 237 183.3 241 184.8 245 186.3 249 186.3 252 186.8 253 188.5 252 191 249 192.3 245 192.8 241 194.3 237 196 234 199 231 200.8 229.5 202.5 227 206 224 210 221.5 213.5 224 216 229.5 218 232 220 234 225 236 230 238 233.5 237.5 236 240 238 243 240 245 244 246 247 245.5 250 247 253 247 260 249 263 248 267 247 271 245 274 244 279 241 281 238 284 236 288 234 291 230 296 226 303 226 308 222 311 218 315.5 214 319 209 323 205 327 201 329.5 198 332.5 197 335 190 336.5 184 338 179 339 176 342 173 341 171 336 169.5 334.5 170.5 341 167 343.5 163 346 160 345.5 156 347 151 349.5 146 351 142 353 140 355 142 357 142.5 361 140 363 138 364.5 137.5 365.4Z"/>
<path fill-rule="evenodd" d="M417 150 418.5 148.5 420 148 422.5 147 425 148.5 426 151.5 426.5 154 428 157 430 160 431.5 164 431.5 168 431 170 428 173 427 176 423 179 422 184 422.5 189 420 195 418.5 200 420.5 204 418 207.5 415.5 210.5 412 213 410.5 211 412 208 413.5 206 412 205.5 409.5 209.5 408 210 405 209.5 404 214 402 216 400.5 212.5 399 212.5 396.5 216 390 215.5 386 215 384 212 382 213 381.5 216 384 218 382 220 379 223 376 226.2 373 227.2 370 225 368 221.5 365 220 364 224 362 227 360 230 358 228.5 354 229.5 350 232 347 235 345 234 343.5 230 341.5 229 339.5 230 339 234 337 238 336 241 335 245 333 249 330 251 328 252 326 250.5 324 248 323 244 323 240 321 239 319 235 318 231 316.5 230 318 229 322 226.5 326 224 329.5 222 329.5 221 333 219 338 216 343 211.5 347 208 353 206.2 360 206 369 204.5 370 206.3 373 207 376 204.5 378 200 382 195 383 191 385 187 388 187.5 385.5 190 386 193 389 194 394 191 400 187.5 404 183 409 176 412 171 412.5 167 412 162 413 157 414.5 153ZM420 150.2 423.5 149.5 424.2 152 421.5 153 419.6 151.8Z"/>
<path d="M430 106 434 108 438 112.5 443 116 449 119.5 456 121.5 460 119.5 461.5 118.5 460 122 459 124 462 127 463.5 128.5 459 129.5 454 130.5 449 133 445 136 443.5 140 440 139 437 137.5 434.5 138 432.5 141 430 139.5 427 137 424 136 422 137 420 135.5 417.5 136 416.5 138.5 419 140 422 140.5 422 142.5 419 143.5 417 145 415 146 414 144 413.5 141 412 139 412 136 414 133.5 416.5 131 417.5 128.5 420 129 425 128 426 125 427.5 121 429.5 117 429 113 428.5 109Z"/>
<path d="M441.5 23.7 443 28 443.5 32 442 35 442 38.5 444 44 446 50 447.5 56 449 59 451 63 453 68 455.5 70.5 452 68.5 448 66.8 443 67 440 69 438.5 73 436.5 78 436.5 82 438.5 86 441 89 443.5 92.5 445.5 95.5 445 98 443 94.5 440 93 436.5 93 434 96.5 432.5 100 431 98 430.5 93 432 88 431.5 83 433 79 432.5 76 430.5 72 432 66 432.5 60 432.5 56 433.5 51 433 46.5 430.5 43 428.5 39 429 35 430 31 430 23.7Z"/>
<path d="M244 311.5 246.5 313.5 245.5 320 244 327 243 331 241 336 238.5 341 236.5 345.5 234.5 341 232 336 230.5 331 231 327.5 234 323 237 318 240 313.5Z"/>
<ellipse cx="290" cy="228.8" rx="3.6" ry="1.6" transform="rotate(-10 290 228.8)" stroke-width="0.55"/>
<ellipse cx="398.5" cy="181.2" rx="1.1" ry="2.3" transform="rotate(10 398.5 181.2)" stroke-width="0.55"/>
<ellipse cx="468" cy="117" rx="3.2" ry="0.9" transform="rotate(-25 468 117)" stroke-width="0.55"/>
<ellipse cx="465" cy="121.2" rx="1.3" ry="0.6" transform="rotate(-35 465 121.2)" stroke-width="0.55"/>
<ellipse cx="482.5" cy="111.2" rx="5.0" ry="0.9" transform="rotate(-31 482.5 111.2)" stroke-width="0.55"/>
<ellipse cx="492.3" cy="105.7" rx="1.5" ry="0.7" transform="rotate(-20 492.3 105.7)" stroke-width="0.55"/>
<ellipse cx="503" cy="101.7" rx="2.4" ry="0.8" transform="rotate(-32 503 101.7)" stroke-width="0.55"/>
</g>
<g fill="none" stroke="#fff" stroke-width="2.2">
<path d="M137.5 363.9 V23.7 H423.5"/>
<path d="M430.8 23.7 H440.8"/>
</g>
<g fill="none" stroke="#222" stroke-width="0.8" stroke-linejoin="round" stroke-linecap="round">
<path d="M370 216 368.5 218.5 367 216 363 215 360 215.5 355 217.5 350 219.5 345 220 343 219.5 341.5 222.5 338 222.5 333 222.2 329.5 221.8"/>
<path d="M365 220 363 218 360 218.5 355 220 350 221.5 347 223 344 225 342 227.5 341.5 229"/>
<path d="M329.5 222 331 225 335 227 338 229 339.5 230"/>
<path d="M366.5 217 367.5 220 366 219.5 366.5 217"/>
<path d="M368 221.5 368.5 218.5 370 216.5"/>
<path d="M319 232 321 234 320 236 322 238 324 237 323 234 325 233"/>
<path d="M321 239 323 241 325 240 326 243"/>
<path d="M328 252 327.5 248 328.5 246"/>
<path d="M230 243 234 242 237 244 240 245 244 246 245.5 248.5"/>
<path d="M246.5 254 242 255.5 237 259 232 260.5 236 261.5 240 260 244 263 247 266"/>
<path d="M412 205.5 411 208 409.5 209.5"/>
</g>
<g fill="none" stroke="#0b3b1e" stroke-width="1.5" stroke-linecap="round">
<path d="M314.2 221.5 315.3 218.5 316.4 215.8"/>
<path d="M308.8 236.5 310.8 235.2"/>
<path d="M312.8 233.2 313.8 231.8"/>
<path d="M315.5 230.2 316.5 229.4"/>
<path d="M318.8 245.8 319.4 245.2"/>
<path d="M330.3 258.8 331.4 255.2"/>
<path d="M325.3 259.8 326.8 259.2"/>
<path d="M314 281.5 316 279.8 318.3 278.6"/>
<path d="M300 301 302.5 298 304 296.2"/>
<path d="M263 321 265 320.5"/>
<path d="M267 319.5 269 318.5"/>
<path d="M278 316 278.8 316.8"/>
<path d="M246.5 357.2 246.8 357.8"/>
<path d="M247 360.8 247.4 361.4"/>
<path d="M351.3 199.3 351.9 199.9"/>
<path d="M328.8 185.6 329.3 186.1"/>
<path d="M408 215 408.4 215.5"/>
<path d="M411.3 231.6 411.8 232.1"/>
<path d="M432.5 297 433 297.5"/>
<path d="M248.5 262.5 250 264 251 265.5"/>
<path d="M249 265 250 266"/>
<path d="M297 217 299 216.2"/>
<path d="M301 215.5 303 214.8"/>
<path d="M293 218.2 295 217.6"/>
<path d="M285.5 216 286.5 218.5"/>
<path d="M471.5 126.5 472 126.2"/>
<path d="M468 129 468.6 128.7"/>
<path d="M415.8 107 416.3 107.5"/>
</g>
</g>
<rect x="138" y="24" width="367.5" height="341.4" fill="none" stroke="#000" stroke-opacity="0.38" stroke-width="1.3"/>
<text x="137.2" y="18.3" font-size="16.6" textLength="170.0" lengthAdjust="spacingAndGlyphs">동아시아해역 해면수온</text>
<text x="308.9" y="18.3" font-size="16.6" textLength="195.8" lengthAdjust="spacingAndGlyphs">(1981년 - 2010년 1월, °C)</text>
<text x="131.6" y="66.2" text-anchor="end" font-size="16" textLength="35.6" lengthAdjust="spacingAndGlyphs">50°N</text>
<path d="M135.2 59.7h2.5" stroke="#999" stroke-width="0.9"/>
<text x="131.6" y="168.1" text-anchor="end" font-size="16" textLength="35.6" lengthAdjust="spacingAndGlyphs">40°N</text>
<path d="M135.2 161.6h2.5" stroke="#999" stroke-width="0.9"/>
<text x="131.6" y="270" text-anchor="end" font-size="16" textLength="35.6" lengthAdjust="spacingAndGlyphs">30°N</text>
<path d="M135.2 263.5h2.5" stroke="#999" stroke-width="0.9"/>
<text x="131.6" y="371.9" text-anchor="end" font-size="16" textLength="35.6" lengthAdjust="spacingAndGlyphs">20°N</text>
<path d="M135.2 365.4h2.5" stroke="#999" stroke-width="0.9"/>
<text x="137.6" y="385.4" text-anchor="middle" font-size="16">110°E</text>
<path d="M137.6 366v2.3" stroke="#999" stroke-width="0.9"/>
<text x="229.4" y="385.4" text-anchor="middle" font-size="16">120°E</text>
<path d="M229.4 366v2.3" stroke="#999" stroke-width="0.9"/>
<text x="321.3" y="385.4" text-anchor="middle" font-size="16">130°E</text>
<path d="M321.3 366v2.3" stroke="#999" stroke-width="0.9"/>
<text x="413.1" y="385.4" text-anchor="middle" font-size="16">140°E</text>
<path d="M413.1 366v2.3" stroke="#999" stroke-width="0.9"/>
<text x="505" y="385.4" text-anchor="middle" font-size="16">150°E</text>
<path d="M505 366v2.3" stroke="#999" stroke-width="0.9"/>
<text x="465.3" y="355.1" font-size="14.6" fill="#330a00" fill-opacity="0.95" textLength="33" lengthAdjust="spacingAndGlyphs">OCPC</text>
<linearGradient id="cbl" gradientUnits="userSpaceOnUse" x1="154.3" x2="488.4" y1="0" y2="0"><stop offset="0%" stop-color="#000080"/><stop offset="2.5%" stop-color="#00009b"/><stop offset="5%" stop-color="#0000b6"/><stop offset="7.5%" stop-color="#0000d6"/><stop offset="10%" stop-color="#0000f1"/><stop offset="12.5%" stop-color="#0000ff"/><stop offset="15%" stop-color="#0018ff"/><stop offset="17.5%" stop-color="#0030ff"/><stop offset="20%" stop-color="#004cff"/><stop offset="22.5%" stop-color="#0064ff"/><stop offset="25%" stop-color="#0080ff"/><stop offset="27.5%" stop-color="#0098ff"/><stop offset="30%" stop-color="#00b0ff"/><stop offset="32.5%" stop-color="#00ccff"/><stop offset="35%" stop-color="#00e4f8"/><stop offset="37.5%" stop-color="#16ffe1"/><stop offset="40%" stop-color="#29ffce"/><stop offset="42.5%" stop-color="#3cffba"/><stop offset="45%" stop-color="#53ffa4"/><stop offset="47.5%" stop-color="#66ff90"/><stop offset="50%" stop-color="#7dff7a"/><stop offset="52.5%" stop-color="#90ff66"/><stop offset="55%" stop-color="#a4ff53"/><stop offset="57.5%" stop-color="#baff3c"/><stop offset="60%" stop-color="#ceff29"/><stop offset="62.5%" stop-color="#e4ff13"/><stop offset="65%" stop-color="#f8f500"/><stop offset="67.5%" stop-color="#ffde00"/><stop offset="70%" stop-color="#ffc400"/><stop offset="72.5%" stop-color="#ffae00"/><stop offset="75%" stop-color="#ff9400"/><stop offset="77.5%" stop-color="#ff7e00"/><stop offset="80%" stop-color="#ff6800"/><stop offset="82.5%" stop-color="#ff4e00"/><stop offset="85%" stop-color="#ff3800"/><stop offset="87.5%" stop-color="#ff1e00"/><stop offset="90%" stop-color="#f10800"/><stop offset="92.5%" stop-color="#d60000"/><stop offset="95%" stop-color="#b60000"/><stop offset="97.5%" stop-color="#9b0000"/><stop offset="100%" stop-color="#800000"/></linearGradient>
<path d="M154.6 396.1L137.6 400.8L154.6 405.4Z" fill="#000080"/>
<path d="M488.1 396.1L505.3 400.8L488.1 405.4Z" fill="#800000"/>
<rect x="154.3" y="396.1" width="334.1" height="9.3" fill="url(#cbl)"/>
<path d="M154.3 405.4v2.5" stroke="#777" stroke-width="0.9"/>
<text x="153.9" y="423" text-anchor="middle" font-size="15.2">-5</text>
<path d="M196.1 405.4v2.5" stroke="#777" stroke-width="0.9"/>
<text x="196.1" y="423" text-anchor="middle" font-size="15.2">0</text>
<path d="M237.8 405.4v2.5" stroke="#777" stroke-width="0.9"/>
<text x="237.8" y="423" text-anchor="middle" font-size="15.2">5</text>
<path d="M279.6 405.4v2.5" stroke="#777" stroke-width="0.9"/>
<text x="279.6" y="423" text-anchor="middle" font-size="15.2">10</text>
<path d="M321.4 405.4v2.5" stroke="#777" stroke-width="0.9"/>
<text x="321.4" y="423" text-anchor="middle" font-size="15.2">15</text>
<path d="M363.1 405.4v2.5" stroke="#777" stroke-width="0.9"/>
<text x="363.1" y="423" text-anchor="middle" font-size="15.2">20</text>
<path d="M404.9 405.4v2.5" stroke="#777" stroke-width="0.9"/>
<text x="404.9" y="423" text-anchor="middle" font-size="15.2">25</text>
<path d="M446.6 405.4v2.5" stroke="#777" stroke-width="0.9"/>
<text x="446.6" y="423" text-anchor="middle" font-size="15.2">30</text>
<path d="M488.4 405.4v2.5" stroke="#777" stroke-width="0.9"/>
<text x="488.4" y="423" text-anchor="middle" font-size="15.2">35</text>
<g clip-path="url(#cr)">
<rect x="738.5" y="24.2" width="368.4" height="341.7" fill="#0000da"/>
<g transform="scale(0.1)">
<path d="M10345 202l40 0 40 0 40 0 40 0 40 0 40 0 40 0 40 0 40 0 40 0 40 0 40 0 40 0 40 0 40 0 40 0 40 0 40 0 40 0 0 40 0 40 0 40 0 40 0 40 0 40 0 40 0 40 0 40 0 40 0 40 0 40 0 40 0 40 0 40 0 40 0 40 0 40 0 40 0 40 0 40 0 40 0 40 0 40 0 40 0 40 0 40 0 40 0 40 0 40 0 40 0 40 0 40 0 40 0 40 0 40 0 40 0 40 0 40 0 40 0 40 0 40 0 40 0 40 0 40 0 40 0 40 0 40 0 40 0 40 0 40 0 40 0 40 0 40 0 40 0 40 0 40 0 40 0 40 0 40 0 40 0 40 0 40 0 40 0 40 0 40 0 40 0 40 0 40 0 40 0 40 0 40 0 40 0 40 0 40 0 40 0 40 0 40 0 40 0 40 0 40 0 40 0 40 0 40 0 40 0 40 0 40-40 0-40 0-40 0-40 0-40 0-40 0-40 0-40 0-40 0-40 0-40 0-40 0-40 0-40 0-40 0-40 0-40 0-40 0-40 0-40 0-40 0-40 0-40 0-40 0-40 0-40 0-40 0-40 0-40 0-40 0-40 0-40 0-40 0-40 0-40 0-40 0-40 0-40 0-40 0-40 0-40 0-40 0-40 0-40 0-40 0-40 0-40 0-40 0-40 0-40 0-40 0-40 0-40 0-40 0-40 0-40 0-40 0-40 0-40 0-40 0-40 0-40 0-40 0-40 0-40 0-40 0-40 0-40 0-40 0-40 0-40 0-40 0-40 0-40 0-40 0-40 0-40 0-40 0-40 0-40 0-40 0-40 0-40 0-40 0-40 0-40 0-40 0-40 0-40 0-40 0-40 0-40 0-40 0-40 0 0-40 0-40 0-40 0-40 0-40 0-40 0-40 0-40 0-40 0-40 0-40 0-40 0-40 0-40 0-40 0-40 0-40 0-40 0-40 0-40 0-40 0-40 0-40 0-40 0-40 0-40 0-40 0-40 0-40 0-40 0-40 0-40 0-40 0-40 0-40 0-40 0-40 0-40 0-40 0-40 0-40 0-40 0-40 0-40 0-40 0-40 0-40 0-40 0-40 0-40 0-40 0-40 0-40 0-40 0-40 0-40 0-40 0-40 0-40 0-40 0-40 0-40 0-40 0-40 0-40 0-40 0-40 0-40 0-40 0-40 0-40 0-40 0-40 0-40 0-20 40-16 12-4 28-11 40-15 37-14 3-1 40-15 40-14 27-10 13-5 40-13 40-14 24-8 16-5 40-13 40-12 36-10 4-1 40-11 40-10 40-10 35-8 5-1 40-9 40-7 40-7 40-7 40-5 30-4 10-1 40-5 40-4 40-3 40-3 40-2 40-2 40-2 40-1 40 0 40 1 40 3 40 3 40 4 40 5 40 7 1 0 39 8 40 11 40 13 20 8 20 8 40 19 23 13 17 9 40 25 9 6 31 21 24 19 16 12 32 28 8 6 36 34 4 4 36 36 4 4 34 36 6 6 31 34 9 9 28 31 12 13 26 27 14 15 25 25 15 14 28 26 12 11 37 29 3 2 40 25 27 13 13 6 40 12 40 8 40 2 40-5 40-12 21-11 19-16 22-24 18-28 7-12 16-40 13-40 4-12 10-28 17-40 13-26 9-14 25-40 6-10 23-30 17-23 15-17 25-31 9-9 31-38 2-2 28-40 10-21 10-19 12-40 7-40 6-40 5-32 1-8 9-40 12-40 16-40z" fill="#0000ed"/>
<path d="M10465 239l22-37 18 0 40 0 40 0 40 0 40 0 40 0 40 0 40 0 40 0 40 0 40 0 40 0 40 0 40 0 40 0 40 0 0 40 0 40 0 40 0 40 0 40 0 40 0 40 0 40 0 40 0 40 0 40 0 40 0 40 0 40 0 40 0 40 0 40 0 40 0 40 0 40 0 40 0 40 0 40 0 40 0 40 0 40 0 40 0 40 0 40 0 40 0 40 0 40 0 40 0 40 0 40 0 40 0 40 0 40 0 40 0 40 0 40 0 40 0 40 0 40 0 40 0 40 0 40 0 40 0 40 0 40 0 40 0 40 0 40 0 40 0 40 0 40 0 40 0 40 0 40 0 40 0 40 0 40 0 40 0 40 0 40 0 40 0 40 0 40 0 40 0 40 0 40 0 40 0 40 0 40 0 40 0 40 0 40 0 40 0 40 0 40 0 40 0 40 0 40 0 40 0 40 0 40 0 40-40 0-40 0-40 0-40 0-40 0-40 0-40 0-40 0-40 0-40 0-40 0-40 0-40 0-40 0-40 0-40 0-40 0-40 0-40 0-40 0-40 0-40 0-40 0-40 0-40 0-40 0-40 0-40 0-40 0-40 0-40 0-40 0-40 0-40 0-40 0-40 0-40 0-40 0-40 0-40 0-40 0-40 0-40 0-40 0-40 0-40 0-40 0-40 0-40 0-40 0-40 0-40 0-40 0-40 0-40 0-40 0-40 0-40 0-40 0-40 0-40 0-40 0-40 0-40 0-40 0-40 0-40 0-40 0-40 0-40 0-40 0-40 0-40 0-40 0-40 0-40 0-40 0-40 0-40 0-40 0-40 0-40 0-40 0-40 0-40 0-40 0-40 0-40 0-40 0-40 0-40 0-40 0-40 0-40 0 0-40 0-40 0-40 0-40 0-40 0-40 0-40 0-40 0-40 0-40 0-40 0-40 0-40 0-40 0-40 0-40 0-40 0-40 0-40 0-40 0-40 0-40 0-40 0-40 0-40 0-40 0-40 0-40 0-40 0-40 0-40 0-40 0-40 0-40 0-40 0-40 0-40 0-40 0-40 0-40 0-40 0-40 0-40 0-40 0-40 0-40 0-40 0-40 0-40 0-40 0-40 0-40 0-40 0-40 0-40 0-40 0-40 0-40 0-40 0-40 0-40 0-40 0-40 0-40 0-40 0-40 0-40 0-40 0-40 0-40 0-40 0-40 0-20 40-16 10-4 30-12 40-16 30-12 10-4 40-16 40-15 13-5 27-10 40-15 40-15 1 0 39-14 40-14 38-12 2-1 40-12 40-12 40-11 14-4 26-7 40-10 40-9 40-8 29-6 11-2 40-7 40-6 40-6 40-5 40-4 40-3 40-4 40-2 16-1 24-1 40-2 40-2 40-1 40 0 40 1 40 1 40 3 13 1 27 3 40 7 40 10 40 12 20 8 20 7 40 18 31 15 9 4 40 22 23 14 17 10 40 27 4 3 36 27 16 13 24 20 23 20 17 15 25 25 15 14 26 26 14 14 24 26 16 16 23 24 17 18 21 22 19 19 22 21 18 17 26 23 14 11 39 29 1 1 40 22 38 17 2 1 40 10 40 6 40 1 40-4 40-9 13-5 27-15 31-25 9-10 27-30 13-23 9-17 17-40 14-34 3-6 22-40 15-23 15-17 25-29 14-11 26-24 23-16 17-13 40-21 25-6 15-4 40-1 22 5 18 5 40 23 12 12 28 31 6 9 25 40 9 21 9 19 13 40 7 40 9 40 2 6 18-6 22-5 40-30 7-5 33-38 1-2 17-40 9-40 3-40-9-40-21-38-1-2-39-39-1-1-39-33-9-7-31-36-3-4-26-40-11-20-13-20-23-40-4-9-13-31-8-40-2-40 6-40 15-40z" fill="#0000fa"/>
<path d="M10625 233l30-31 10 0 40 0 40 0 40 0 40 0 40 0 40 0 40 0 40 0 40 0 40 0 40 0 0 40 0 40 0 40 0 40 0 40 0 40 0 40 0 40 0 40 0 40 0 40 0 40 0 40 0 40 0 40 0 40 0 40 0 40 0 40 0 40 0 40 0 40 0 40 0 40 0 40 0 40 0 40 0 40 0 40 0 40 0 40 0 40 0 40 0 40 0 40 0 40 0 40 0 40 0 40 0 40 0 40 0 40 0 40 0 40 0 40 0 40 0 40 0 40 0 40 0 40 0 40 0 40 0 40 0 40 0 40 0 40 0 40 0 40 0 40 0 40 0 40 0 40 0 40 0 40 0 40 0 40 0 40 0 40 0 40 0 40 0 40 0 40 0 40 0 40 0 40 0 40 0 40 0 40 0 40 0 40 0 40 0 40 0 40 0 40 0 40 0 40 0 40-40 0-40 0-40 0-40 0-40 0-40 0-40 0-40 0-40 0-40 0-40 0-40 0-40 0-40 0-40 0-40 0-40 0-40 0-40 0-40 0-40 0-40 0-40 0-40 0-40 0-40 0-40 0-40 0-40 0-40 0-40 0-40 0-40 0-40 0-40 0-40 0-40 0-40 0-40 0-40 0-40 0-40 0-40 0-40 0-40 0-40 0-40 0-40 0-40 0-40 0-40 0-40 0-40 0-40 0-40 0-40 0-40 0-40 0-40 0-40 0-40 0-40 0-40 0-40 0-40 0-40 0-40 0-40 0-40 0-40 0-40 0-40 0-40 0-40 0-40 0-40 0-40 0-40 0-40 0-40 0-40 0-40 0-40 0-40 0-40 0-40 0-40 0-40 0-40 0-40 0-40 0-40 0-40 0-40 0 0-40 0-40 0-40 0-40 0-40 0-40 0-40 0-40 0-40 0-40 0-40 0-40 0-40 0-40 0-40 0-40 0-40 0-40 0-40 0-40 0-40 0-40 0-40 0-40 0-40 0-40 0-40 0-40 0-40 0-40 0-40 0-40 0-40 0-40 0-40 0-40 0-40 0-40 0-40 0-40 0-40 0-40 0-40 0-40 0-40 0-40 0-40 0-40 0-40 0-40 0-40 0-40 0-40 0-40 0-40 0-40 0-40 0-40 0-40 0-40 0-40 0-40 0-40 0-40 0-40 0-40 0-40 0-40 0-40 0-40 0-18 40-17 12-5 28-12 40-17 27-11 13-6 40-17 40-16 1-1 39-16 40-16 19-8 21-8 40-16 40-15 3-1 37-13 40-14 40-13 40-12 40-12 40-11 21-5 19-5 40-9 40-8 40-8 40-7 23-3 17-3 40-5 40-4 40-4 40-4 40-3 40-2 40-3 40-2 40-2 40-3 40-1 40 1 40 3 40 6 40 8 40 11 22 7 18 6 40 15 40 17 3 2 37 17 40 22 1 1 39 23 26 17 14 9 40 28 3 3 37 29 13 11 27 23 18 17 22 19 21 21 19 18 21 22 19 18 21 22 19 19 21 21 19 18 23 22 17 15 30 25 10 8 40 27 9 5 31 16 40 14 39 10 1 0 40 5 40 0 40-4 4-1 36-10 40-17 21-13 19-16 33-24 7-8 30-32 10-20 10-20 18-40 12-22 13-18 27-31 13-9 27-20 40-19 2-1 38-12 40 0 37 12 3 1 40 28 10 11 25 40 5 14 9 26 8 40 9 40 13 40 1 2 35 38 5 3 40 4 14-7 26-22 29-18 11-8 40-17 40-10 26-5 14-6 34-34 6-30 1-10 3-40 2-40 2-40 0-40-3-40-5-21-6-19-22-40-12-15-23-25-17-16-25-24-15-16-19-24-21-38-1-2-17-40-14-40-8-36-1-4-2-40 3-12 8-28 25-40z" fill="#0000ff"/>
<path d="M10865 220l9-18 31 0 40 0 40 0 40 0 40 0 40 0 0 40 0 40 0 40 0 40 0 40 0 40 0 40 0 40 0 40 0 40 0 40 0 40 0 40 0 40 0 40 0 40 0 40 0 40 0 40 0 40 0 40 0 40 0 40 0 40 0 40 0 40 0 40 0 40 0 40 0 40 0 40 0 40 0 40 0 40 0 40 0 40 0 40 0 40 0 40 0 40 0 40 0 40 0 40 0 40 0 40 0 40 0 40 0 40 0 40 0 40 0 40 0 40 0 40 0 40 0 40 0 40 0 40 0 40 0 40 0 40 0 40 0 40 0 40 0 40 0 40 0 40 0 40 0 40 0 40 0 40 0 40 0 40 0 40 0 40 0 40 0 40 0 40 0 40 0 40 0 40 0 40 0 40 0 40 0 40 0 40 0 40 0 40-40 0-40 0-40 0-40 0-40 0-40 0-40 0-40 0-40 0-40 0-40 0-40 0-40 0-40 0-40 0-40 0-40 0-40 0-40 0-40 0-40 0-40 0-40 0-40 0-40 0-40 0-40 0-40 0-40 0-40 0-40 0-40 0-40 0-40 0-40 0-40 0-40 0-40 0-40 0-40 0-40 0-40 0-40 0-40 0-40 0-40 0-40 0-40 0-40 0-40 0-40 0-40 0-40 0-40 0-40 0-40 0-40 0-40 0-40 0-40 0-40 0-40 0-40 0-40 0-40 0-40 0-40 0-40 0-40 0-40 0-40 0-40 0-40 0-40 0-40 0-40 0-40 0-40 0-40 0-40 0-40 0-40 0-40 0-40 0-40 0-40 0-40 0-40 0-40 0-40 0-40 0-40 0-40 0-40 0 0-40 0-40 0-40 0-40 0-40 0-40 0-40 0-40 0-40 0-40 0-40 0-40 0-40 0-40 0-40 0-40 0-40 0-40 0-40 0-40 0-40 0-40 0-40 0-40 0-40 0-40 0-40 0-40 0-40 0-40 0-40 0-40 0-40 0-40 0-40 0-40 0-40 0-40 0-40 0-40 0-40 0-40 0-40 0-40 0-40 0-40 0-40 0-40 0-40 0-40 0-40 0-40 0-40 0-40 0-40 0-40 0-40 0-40 0-40 0-40 0-40 0-40 0-40 0-40 0-40 0-40 0-40 0-40 0-15 40-17 17-8 23-10 40-19 24-11 16-7 40-19 30-14 10-5 40-18 38-17 2-1 40-17 40-17 12-5 28-11 40-16 36-13 4-2 40-13 40-14 36-11 4-1 40-12 40-11 40-10 28-6 12-3 40-8 40-7 40-7 40-6 40-5 36-4 4 0 40-4 40-4 40-3 40-3 40-4 40-3 40-4 40-1 40 1 40 4 40 6 40 9 23 6 17 5 40 12 40 15 18 8 22 9 40 19 23 12 17 9 40 23 13 8 27 17 34 23 6 4 40 30 7 6 33 27 15 13 25 22 19 18 21 19 22 21 18 17 23 23 17 16 25 24 15 14 29 26 11 9 39 31 1 1 40 25 29 14 11 5 40 12 40 8 40 4 40 0 40-5 40-11 31-13 9-4 40-27 17-9 23-17 40-19 6-4 26-40 8-18 9-22 23-40 8-10 38-30 2-2 40-16 40-5 40 8 25 15 15 12 21 28 19 40 0 1 13 39 15 40 12 20 14 20 26 19 40 18 40 1 40-17 40-21 40-11 40-4 40 0 40 5 39 10 1 0 40 6 40 1 14-7 2-40-16-36-3-4-21-40-12-40-4-24-3-16-3-40 0-40 0-40-2-40-4-40-8-40-13-40-7-21-10-19-23-40-7-16-15-24-6-40 8-40 13-30 5-10 21-40 14-25 6-15 21-40z" fill="#0004ff"/>
<path d="M11025 202l40 0 40 0 0 40 0 40 0 40 0 40 0 40 0 40 0 40 0 40 0 40 0 40 0 40 0 40 0 40 0 40 0 40 0 40 0 40 0 40 0 40 0 40 0 40 0 40 0 40 0 40 0 40 0 40 0 40 0 40 0 40 0 40 0 40 0 40 0 40 0 40 0 40 0 40 0 40 0 40 0 40 0 40 0 40 0 40 0 40 0 40 0 40 0 40 0 40 0 40 0 40 0 40 0 40 0 40 0 40 0 40 0 40 0 40 0 40 0 40 0 40 0 40 0 40 0 40 0 40 0 40 0 40 0 40 0 40 0 40 0 40 0 40 0 40 0 40 0 40 0 40 0 40 0 40 0 40 0 40 0 40 0 40 0 40 0 40 0 40 0 40 0 40 0 40 0 40-40 0-40 0-40 0-40 0-40 0-40 0-40 0-40 0-40 0-40 0-40 0-40 0-40 0-40 0-40 0-40 0-40 0-40 0-40 0-40 0-40 0-40 0-40 0-40 0-40 0-40 0-40 0-40 0-40 0-40 0-40 0-40 0-40 0-40 0-40 0-40 0-40 0-40 0-40 0-40 0-40 0-40 0-40 0-40 0-40 0-40 0-40 0-40 0-40 0-40 0-40 0-40 0-40 0-40 0-40 0-40 0-40 0-40 0-40 0-40 0-40 0-40 0-40 0-40 0-40 0-40 0-40 0-40 0-40 0-40 0-40 0-40 0-40 0-40 0-40 0-40 0-40 0-40 0-40 0-40 0-40 0-40 0-40 0-40 0-40 0-40 0-40 0-40 0-40 0-40 0-40 0-40 0-40 0-40 0 0-40 0-40 0-40 0-40 0-40 0-40 0-40 0-40 0-40 0-40 0-40 0-40 0-40 0-40 0-40 0-40 0-40 0-40 0-40 0-40 0-40 0-40 0-40 0-40 0-40 0-40 0-40 0-40 0-40 0-40 0-40 0-40 0-40 0-40 0-40 0-40 0-40 0-40 0-40 0-40 0-40 0-40 0-40 0-40 0-40 0-40 0-40 0-40 0-40 0-40 0-40 0-40 0-40 0-40 0-40 0-40 0-40 0-40 0-40 0-40 0-40 0-40 0-40 0-40 0-40 0-40 0-10 40-19 21-11 19-9 40-21 20-10 20-10 40-20 20-10 20-10 40-19 23-11 17-8 40-18 32-14 8-4 40-17 40-16 7-3 33-13 40-15 34-12 6-2 40-14 40-12 39-12 1 0 40-11 40-10 40-10 40-8 5-1 35-7 40-6 40-6 40-5 40-4 40-4 40-4 40-4 1 0 39-4 40-6 40-4 40-1 40 1 40 3 40 7 20 4 20 4 40 10 40 13 37 13 3 1 40 16 40 18 9 5 31 15 40 23 4 2 36 22 27 18 13 8 40 29 4 3 36 28 14 12 26 21 21 19 19 17 25 23 15 13 28 27 12 11 32 29 8 7 38 33 2 1 40 30 15 9 25 15 40 17 29 8 11 3 40 6 40 3 40 0 40-6 20-6 20-6 40-19 24-15 16-11 40-23 40-6 20 0 20-1 24-39 9-40 7-18 10-22 30-32 17-8 23-9 40 0 20 9 20 12 23 28 17 33 3 7 15 40 22 38 1 2 39 35 7 5 33 14 40 9 40-1 40-10 35-12 5-3 40-10 40-4 40 1 40 5 40 7 20 4 20 2 40 2 27-4 13-4 39-36-15-40-20-40-4-11-13-29-11-40-5-40-2-40 1-40 1-40 1-40 1-40 0-40 1-40 2-40 4-40 10-40 10-30 3-10 12-40 10-40 9-40 6-23 4-17 14-40 18-40z" fill="#0010ff"/>
<path d="M11105 274l0 8 0 40 0 40 0 40 0 40 0 40 0 40 0 40 0 40 0 40 0 40 0 40 0 40 0 40 0 40 0 40 0 40 0 40 0 40 0 40 0 40 0 40 0 40 0 40 0 40 0 40 0 40 0 40 0 40 0 40 0 40 0 40 0 40 0 40 0 40 0 40 0 40 0 40 0 40 0 40 0 40 0 40 0 40 0 40 0 40 0 40 0 40 0 40 0 40 0 40 0 40 0 40 0 40 0 40 0 40 0 40 0 40 0 40 0 40 0 40 0 40 0 40 0 40 0 40 0 40 0 40 0 40 0 40 0 40 0 40 0 40 0 40 0 40 0 40 0 40 0 40 0 40 0 40 0 40 0 40 0 40 0 40 0 40 0 40 0 40 0 40-40 0-40 0-40 0-40 0-40 0-40 0-40 0-40 0-40 0-40 0-40 0-40 0-40 0-40 0-40 0-40 0-40 0-40 0-40 0-40 0-40 0-40 0-40 0-40 0-40 0-40 0-40 0-40 0-40 0-40 0-40 0-40 0-40 0-40 0-40 0-40 0-40 0-40 0-40 0-40 0-40 0-40 0-40 0-40 0-40 0-40 0-40 0-40 0-40 0-40 0-40 0-40 0-40 0-40 0-40 0-40 0-40 0-40 0-40 0-40 0-40 0-40 0-40 0-40 0-40 0-40 0-40 0-40 0-40 0-40 0-40 0-40 0-40 0-40 0-40 0-40 0-40 0-40 0-40 0-40 0-40 0-40 0-40 0-40 0-40 0-40 0-40 0-40 0-40 0-40 0-40 0-40 0-40 0-40 0 0-40 0-40 0-40 0-40 0-40 0-40 0-40 0-40 0-40 0-40 0-40 0-40 0-40 0-40 0-40 0-40 0-40 0-40 0-40 0-40 0-40 0-40 0-40 0-40 0-40 0-40 0-40 0-40 0-40 0-40 0-40 0-40 0-40 0-40 0-40 0-40 0-40 0-40 0-40 0-40 0-40 0-40 0-40 0-40 0-40 0-40 0-40 0-40 0-40 0-40 0-40 0-40 0-40 0-40 0-40 0-40 0-40 0-40 0-40 0-40 0-40 0-40 0-40 0-40 0-6 40-20 26-14 14-8 40-20 22-12 18-9 40-21 20-10 20-10 40-20 21-10 19-9 40-20 24-11 16-8 40-18 31-14 9-4 40-17 40-17 6-2 34-13 40-15 34-12 6-2 40-13 40-12 40-12 5-1 35-9 40-10 40-8 40-8 31-5 9-1 40-6 40-5 40-5 40-4 40-5 40-4 40-6 29-4 11-1 40-3 40 0 40 4 2 0 38 5 40 8 40 9 40 12 17 6 23 8 40 15 39 17 1 1 40 19 38 20 2 1 40 23 24 16 16 10 40 27 3 3 37 27 16 13 24 19 25 21 15 13 31 27 9 8 36 32 4 4 40 35 2 1 38 31 12 9 28 19 37 21 3 2 40 14 40 9 40 6 40 2 40 0 40-5 40-14 26-14 14-7 40-25 13-8 27-16 40-1 30 17 10 9 40-1 18-8 20-40-5-40 1-40 6-11 37-29 3-1 7 1 33 11 24 29 16 39 0 1 17 40 23 21 20 19 20 10 40 19 34 11 6 1 40 5 40-1 27-5 13-3 40-12 40-9 40-3 40 0 40 3 40 5 40 5 40 2 40-5 40-10 36-13 4-6 14-34-14-18-15-22-25-39-1-1-13-40-7-40-1-40 1-40 4-40 4-40 5-40 5-40 3-18 4-22 8-40 10-40 11-40 7-21 6-19 14-40 13-40 7-23 6-17 14-40 16-40z" fill="#0020ff"/>
<path d="M11105 528l0 34 0 40 0 40 0 40 0 40 0 40 0 40 0 40 0 40 0 40 0 40 0 40 0 40 0 40 0 40 0 40 0 40 0 40 0 40 0 40 0 40 0 40 0 40 0 40 0 40 0 40 0 40 0 40 0 40 0 40 0 40 0 40 0 40 0 40 0 40 0 40 0 40 0 40 0 40 0 40 0 40 0 40 0 40 0 40 0 40 0 40 0 40 0 40 0 40 0 40 0 40 0 40 0 40 0 40 0 40 0 40 0 40 0 40 0 40 0 40 0 40 0 40 0 40 0 40 0 40 0 40 0 40 0 40 0 40 0 40 0 40 0 40 0 40 0 40 0 40 0 40 0 40 0 40 0 40-40 0-40 0-40 0-40 0-40 0-40 0-40 0-40 0-40 0-40 0-40 0-40 0-40 0-40 0-40 0-40 0-40 0-40 0-40 0-40 0-40 0-40 0-40 0-40 0-40 0-40 0-40 0-40 0-40 0-40 0-40 0-40 0-40 0-40 0-40 0-40 0-40 0-40 0-40 0-40 0-40 0-40 0-40 0-40 0-40 0-40 0-40 0-40 0-40 0-40 0-40 0-40 0-40 0-40 0-40 0-40 0-40 0-40 0-40 0-40 0-40 0-40 0-40 0-40 0-40 0-40 0-40 0-40 0-40 0-40 0-40 0-40 0-40 0-40 0-40 0-40 0-40 0-40 0-40 0-40 0-40 0-40 0-40 0-40 0-40 0-40 0-40 0-40 0-40 0-40 0-40 0-40 0-40 0-40 0 0-40 0-40 0-40 0-40 0-40 0-40 0-40 0-40 0-40 0-40 0-40 0-40 0-40 0-40 0-40 0-40 0-40 0-40 0-40 0-40 0-40 0-40 0-40 0-40 0-40 0-40 0-40 0-40 0-40 0-40 0-40 0-40 0-40 0-40 0-40 0-40 0-40 0-40 0-40 0-40 0-40 0-40 0-40 0-40 0-40 0-40 0-40 0-40 0-40 0-40 0-40 0-40 0-40 0-40 0-40 0-40 0-40 0-40 0-40 0-40 0-40 0-40 40-21 37-19 3-2 40-20 34-18 6-3 40-21 31-16 9-5 40-21 27-14 13-7 40-21 23-12 17-8 40-20 23-12 17-8 40-19 29-13 11-5 40-17 40-17 3-1 37-14 40-15 32-11 8-3 40-12 40-12 40-11 10-2 30-7 40-9 40-8 40-7 40-6 25-3 15-2 40-5 40-5 40-5 40-6 40-6 40-4 40-1 40 3 40 4 40 7 40 9 40 11 1 0 39 12 40 15 31 13 9 4 40 18 35 18 5 2 40 23 25 15 15 9 40 27 6 4 34 24 21 16 19 14 31 26 9 7 39 33 1 1 40 34 6 5 34 28 15 12 25 19 30 21 10 6 40 21 39 13 1 0 40 7 40 4 40 2 40 1 40-5 26-9 14-5 40-23 17-12 23-15 40-23 40 2 39 36 1 1 40 2 21-3 19-6 40-16 40-7 40 7 40 15 18 7 22 6 40 10 40 7 40 3 40-2 40-6 40-9 40-7 23-2 17-2 40 0 30 2 10 1 40 3 40 4 40 0 40-2 37-6 3-1 40-14 40-22 4-3 12-40-16-30-7-10-33-30-7-10-9-40-2-40 3-40 6-40 7-40 2-10 7-30 9-40 10-40 12-40 2-5 12-35 15-40z" fill="#002cff"/>
<path d="M11105 753l0 9 0 40 0 40 0 40 0 40 0 40 0 40 0 32-27-32-13-24-6-16 0-40 6-37 1-3 11-40 12-40 13-40zM8585 798l40-6 40-7 40-6 40-2 40 1 40 4 40 6 40 8 25 6 15 4 40 11 40 14 27 11 13 5 40 17 36 18 4 2 40 21 29 17 11 6 40 26 12 8 28 19 28 21 12 8 40 31 1 1 39 31 10 9 30 24 19 16 21 16 31 24 9 6 40 26 16 8 24 10 40 12 40 5 40 3 40 3 40 1 40-4 40-13 27-17 13-8 40-29 4-3 36-21 40 3 19 18 21 18 40 6 40-2 40-4 40-2 40 3 40 7 40 8 35 6 5 1 40 4 40 1 40-2 27-4 13-2 40-8 40-7 40-4 40-1 40 2 40 3 40 3 40 1 40-3 40-6 40-10 22-8 18-10 36-30 4-12 0 12 0 40 0 40 0 40 0 40 0 40 0 40 0 40 0 40 0 40 0 40 0 40 0 40 0 40 0 40 0 40 0 40 0 40 0 40 0 40 0 40 0 40 0 40 0 40 0 40 0 40 0 40 0 40 0 40 0 40 0 40 0 40 0 40 0 40 0 40 0 40 0 40 0 40 0 40 0 40 0 40 0 40 0 40 0 40 0 40 0 40 0 40 0 40 0 40 0 40 0 40 0 40 0 40 0 40 0 40 0 40 0 40 0 40 0 40 0 40 0 40 0 40 0 40 0 40 0 40-40 0-40 0-40 0-40 0-40 0-40 0-40 0-40 0-40 0-40 0-40 0-40 0-40 0-40 0-40 0-40 0-40 0-40 0-40 0-40 0-40 0-40 0-40 0-40 0-40 0-40 0-40 0-40 0-40 0-40 0-40 0-40 0-40 0-40 0-40 0-40 0-40 0-40 0-40 0-40 0-40 0-40 0-40 0-40 0-40 0-40 0-40 0-40 0-40 0-40 0-40 0-40 0-40 0-40 0-40 0-40 0-40 0-40 0-40 0-40 0-40 0-40 0-40 0-40 0-40 0-40 0-40 0-40 0-40 0-40 0-40 0-40 0-40 0-40 0-40 0-40 0-40 0-40 0-40 0-40 0-40 0-40 0-40 0-40 0-40 0-40 0-40 0-40 0-40 0-40 0-40 0-40 0-40 0-40 0 0-40 0-40 0-40 0-40 0-40 0-40 0-40 0-40 0-40 0-40 0-40 0-40 0-40 0-40 0-40 0-40 0-40 0-40 0-40 0-40 0-40 0-40 0-40 0-40 0-40 0-40 0-40 0-40 0-40 0-40 0-40 0-40 0-40 0-40 0-40 0-40 0-40 0-40 0-40 0-40 0-40 0-40 0-40 0-40 0-40 0-40 0-40 0-40 0-40 0-40 0-40 0-40 0-40 0-40 0-40 0-40 0-40 0-40 0-40 0-30 20-10 20-10 40-20 19-10 21-10 40-22 16-8 24-13 40-22 8-5 32-18 39-22 1 0 40-23 30-17 10-5 40-22 23-13 17-9 40-21 20-10 20-10 40-19 23-11 17-8 40-17 36-15 4-1 40-16 40-14 27-9 13-4 40-12 40-11 40-10 13-3 27-6 40-8 40-7 40-6 40-6 40-5 12-2z" fill="#0038ff"/>
<path d="M8665 836l40-7 40-3 40-1 40 2 40 5 40 7 12 3 28 6 40 11 40 13 28 10 12 4 40 17 40 19 1 0 39 20 36 20 4 2 40 24 20 14 20 13 39 27 1 1 40 29 12 10 28 21 23 19 17 13 35 27 5 4 40 28 12 8 28 16 40 17 27 7 13 3 40 3 40 2 40 3 40 2 40-2 37-11 3-1 40-25 18-14 22-16 33-24 7-4 34 4 6 1 40 33 25 6 15 3 40 3 40 0 40 1 40 2 40 4 40 4 40 4 40 2 40 0 40-2 40-6 40-6 40-6 28-3 12-1 40-2 40 2 17 1 23 1 40 3 40 0 40-2 13-2 27-4 40-10 40-14 24-12 16-13 0 13 0 40 0 40 0 40 0 40 0 40 0 40 0 40 0 40 0 40 0 40 0 40 0 40 0 40 0 40 0 40 0 40 0 40 0 40 0 40 0 40 0 40 0 40 0 40 0 40 0 40 0 40 0 40 0 40 0 40 0 40 0 40 0 40 0 40 0 40 0 40 0 40 0 40 0 40 0 40 0 40 0 40 0 40 0 40 0 40 0 40 0 40 0 40 0 40 0 40 0 40 0 40 0 40 0 40 0 40 0 40 0 40 0 40 0 40 0 40 0 40 0 40 0 40 0 40-40 0-40 0-40 0-40 0-40 0-40 0-40 0-40 0-40 0-40 0-40 0-40 0-40 0-40 0-40 0-40 0-40 0-40 0-40 0-40 0-40 0-40 0-40 0-40 0-40 0-40 0-40 0-40 0-40 0-40 0-40 0-40 0-40 0-40 0-40 0-40 0-40 0-40 0-40 0-40 0-40 0-40 0-40 0-40 0-40 0-40 0-40 0-40 0-40 0-40 0-40 0-40 0-40 0-40 0-40 0-40 0-40 0-40 0-40 0-40 0-40 0-40 0-40 0-40 0-40 0-40 0-40 0-40 0-40 0-40 0-40 0-40 0-40 0-40 0-40 0-40 0-40 0-40 0-40 0-40 0-40 0-40 0-40 0-40 0-40 0-40 0-40 0-40 0-40 0-40 0-40 0-40 0-40 0-40 0 0-40 0-40 0-40 0-40 0-40 0-40 0-40 0-40 0-40 0-40 0-40 0-40 0-40 0-40 0-40 0-40 0-40 0-40 0-40 0-40 0-40 0-40 0-40 0-40 0-40 0-40 0-40 0-40 0-40 0-40 0-40 0-40 0-40 0-40 0-40 0-40 0-40 0-40 0-40 0-40 0-40 0-40 0-40 0-40 0-40 0-40 0-40 0-40 0-40 0-40 0-40 0-40 0-40 0-40 0-40 0-40 0-40 0-17 40-18 10-5 30-14 40-21 10-5 30-16 40-22 4-2 36-21 32-19 8-5 40-24 18-11 22-13 40-25 3-2 37-22 30-18 10-6 40-23 18-11 22-12 40-22 12-6 28-14 40-20 14-6 26-12 40-17 27-11 13-5 40-15 40-14 20-6 20-6 40-11 40-11 40-9 14-3 26-5 40-8 40-6 40-6 40-7 40-6 8-2z" fill="#0044ff"/>
<path d="M8705 879l40-6 40-2 40 1 40 4 40 6 2 0 38 7 40 10 40 12 32 11 8 3 40 15 40 18 8 4 32 15 40 21 6 4 34 20 32 20 8 5 40 27 11 8 29 20 26 20 14 10 39 30 1 0 40 30 14 10 26 17 40 23 40 15 40 7 40 1 40 2 40 4 40 3 40-1 40-10 34-21 6-4 40-30 9-6 31-20 40 7 17 13 23 11 40 10 40 5 40 3 40 3 40 2 40 3 40 3 9 0 31 1 40 1 40-1 13-1 27-2 40-5 40-7 40-6 40-4 40-2 40 1 40 3 40 2 40 0 40-3 40-5 40-9 12-3 28-9 40-19 0 28 0 40 0 40 0 40 0 40 0 40 0 40 0 40 0 40 0 40 0 40 0 40 0 40 0 40 0 40 0 40 0 40 0 40 0 40 0 40 0 40 0 40 0 40 0 40 0 40 0 40 0 40 0 40 0 40 0 40 0 40 0 40 0 40 0 40 0 40 0 40 0 40 0 40 0 40 0 40 0 40 0 40 0 40 0 40 0 40 0 40 0 40 0 40 0 40 0 40 0 40 0 40 0 40 0 40 0 40 0 40 0 40 0 40 0 40 0 40 0 40 0 40 0 40-40 0-40 0-40 0-40 0-40 0-40 0-40 0-40 0-40 0-40 0-40 0-40 0-40 0-40 0-40 0-40 0-40 0-40 0-40 0-40 0-40 0-40 0-40 0-40 0-40 0-40 0-40 0-40 0-40 0-40 0-40 0-40 0-40 0-40 0-40 0-40 0-40 0-40 0-40 0-40 0-40 0-40 0-40 0-40 0-40 0-40 0-40 0-40 0-40 0-40 0-40 0-40 0-40 0-40 0-40 0-40 0-40 0-40 0-40 0-40 0-40 0-40 0-40 0-40 0-40 0-40 0-40 0-40 0-40 0-40 0-40 0-40 0-40 0-40 0-40 0-40 0-40 0-40 0-40 0-40 0-40 0-40 0-40 0-40 0-40 0-40 0-40 0-40 0-40 0-40 0-40 0-40 0-40 0-40 0 0-40 0-40 0-40 0-40 0-40 0-40 0-40 0-40 0-40 0-40 0-40 0-40 0-40 0-40 0-40 0-40 0-40 0-40 0-40 0-40 0-40 0-40 0-40 0-40 0-40 0-40 0-40 0-40 0-40 0-40 0-40 0-40 0-40 0-40 0-40 0-40 0-40 0-40 0-40 0-40 0-40 0-40 0-40 0-40 0-40 0-40 0-40 0-40 0-40 0-40 0-40 0-40 0-40 0-40 0-40 0-1 40-17 40-18 9-4 31-15 40-20 8-5 32-17 39-23 1-1 40-24 23-15 17-11 40-26 4-3 36-24 23-16 17-11 40-27 3-2 37-24 25-16 15-9 40-25 10-6 30-17 40-22 2-1 38-20 40-19 1-1 39-17 40-17 14-6 26-10 40-14 40-13 10-3 30-9 40-10 40-10 40-9 11-2 29-5 40-8 40-7 40-7 40-8 23-5z" fill="#0050ff"/>
<path d="M8745 921l40-4 40-1 40 3 30 3 10 1 40 7 40 8 40 11 40 13 40 14 40 17 20 9 20 9 40 20 19 11 21 12 40 24 6 4 34 22 26 18 14 9 40 29 3 2 37 27 18 13 22 15 37 25 3 2 40 20 40 14 32 4 8 1 40 0 40 1 40 4 40 5 40 0 40-9 4-2 36-21 27-19 13-10 40-24 40 5 40 17 40 10 12 2 28 5 40 5 40 4 40 2 40 2 40 1 40 0 40 0 40-2 40-4 40-4 40-6 21-3 19-3 40-4 40-2 40 0 40 3 40 1 40 0 40-2 40-6 40-8 40-11 23-8 17-8 0 8 0 40 0 40 0 40 0 40 0 40 0 40 0 40 0 40 0 40 0 40 0 40 0 40 0 40 0 40 0 40 0 40 0 40 0 40 0 40 0 40 0 40 0 40 0 40 0 40 0 40 0 40 0 40 0 40 0 40 0 40 0 40 0 40 0 40 0 40 0 40 0 40 0 40 0 40 0 40 0 40 0 40 0 40 0 40 0 40 0 40 0 40 0 40 0 40 0 40 0 40 0 40 0 40 0 40 0 40 0 40 0 40 0 40 0 40 0 40 0 40 0 40 0 40-40 0-40 0-40 0-40 0-40 0-40 0-40 0-40 0-40 0-40 0-40 0-40 0-40 0-40 0-40 0-40 0-40 0-40 0-40 0-40 0-40 0-40 0-40 0-40 0-40 0-40 0-40 0-40 0-40 0-40 0-40 0-40 0-40 0-40 0-40 0-40 0-40 0-40 0-40 0-40 0-40 0-40 0-40 0-40 0-40 0-40 0-40 0-40 0-40 0-40 0-40 0-40 0-40 0-40 0-40 0-40 0-40 0-40 0-40 0-40 0-40 0-40 0-40 0-40 0-40 0-40 0-40 0-40 0-40 0-40 0-40 0-40 0-40 0-40 0-40 0-40 0-40 0-40 0-40 0-40 0-40 0-40 0-40 0-40 0-40 0-40 0-40 0-40 0-40 0-40 0-40 0-40 0-40 0-40 0 0-40 0-40 0-40 0-40 0-40 0-40 0-40 0-40 0-40 0-40 0-40 0-40 0-40 0-40 0-40 0-40 0-40 0-40 0-40 0-40 0-40 0-40 0-40 0-40 0-40 0-40 0-40 0-40 0-40 0-40 0-40 0-40 0-40 0-40 0-40 0-40 0-40 0-40 0-40 0-40 0-40 0-40 0-40 0-40 0-40 0-40 0-40 0-40 0-40 0-40 0-40 0-40 0-25 40-14 2-1 38-15 40-18 16-7 24-11 40-21 14-8 26-15 40-24 1-1 39-25 21-15 19-13 37-27 3-2 40-30 11-8 29-21 24-19 16-11 39-29 1 0 40-28 17-12 23-15 39-25 1 0 40-24 28-16 12-6 40-21 26-13 14-6 40-18 39-16 1 0 40-15 40-14 36-11 4-1 40-11 40-10 40-9 40-9 1 0 39-8 40-8 40-9 40-9 32-6z" fill="#0060ff"/>
<path d="M8825 960l40 1 16 1 24 2 40 5 40 8 40 9 40 12 12 4 28 9 40 16 35 15 5 2 40 19 35 19 5 3 40 23 22 14 18 11 40 26 4 3 36 25 21 15 19 13 39 27 1 0 40 25 32 15 8 3 40 11 40 3 40-2 40 2 40 6 40 6 40 2 40-8 40-20 4-3 36-25 28-15 12-7 40 0 22 7 18 5 40 11 40 8 40 7 40 4 40 3 40 0 40 0 40-1 40-2 40-2 40-4 40-5 40-6 40-5 40-5 40-1 40 0 40 2 40 1 40 0 40-2 40-6 11-2 29-6 40-10 40-13 0 29 0 40 0 40 0 40 0 40 0 40 0 40 0 40 0 40 0 40 0 40 0 40 0 40 0 40 0 40 0 40 0 40 0 40 0 40 0 40 0 40 0 40 0 40 0 40 0 40 0 40 0 40 0 40 0 40 0 40 0 40 0 40 0 40 0 40 0 40 0 40 0 40 0 40 0 40 0 40 0 40 0 40 0 40 0 40 0 40 0 40 0 40 0 40 0 40 0 40 0 40 0 40 0 40 0 40 0 40 0 40 0 40 0 40 0 40 0 40 0 40 0 40-40 0-40 0-40 0-40 0-40 0-40 0-40 0-40 0-40 0-40 0-40 0-40 0-40 0-40 0-40 0-40 0-40 0-40 0-40 0-40 0-40 0-40 0-40 0-40 0-40 0-40 0-40 0-40 0-40 0-40 0-40 0-40 0-40 0-40 0-40 0-40 0-40 0-40 0-40 0-40 0-40 0-40 0-40 0-40 0-40 0-40 0-40 0-40 0-40 0-40 0-40 0-40 0-40 0-40 0-40 0-40 0-40 0-40 0-40 0-40 0-40 0-40 0-40 0-40 0-40 0-40 0-40 0-40 0-40 0-40 0-40 0-40 0-40 0-40 0-40 0-40 0-40 0-40 0-40 0-40 0-40 0-40 0-40 0-40 0-40 0-40 0-40 0-40 0-40 0-40 0-40 0-40 0-40 0-40 0 0-40 0-40 0-40 0-40 0-40 0-40 0-40 0-40 0-40 0-40 0-40 0-40 0-40 0-40 0-40 0-40 0-40 0-40 0-40 0-40 0-40 0-40 0-40 0-40 0-40 0-40 0-40 0-40 0-40 0-40 0-40 0-40 0-40 0-40 0-40 0-40 0-40 0-40 0-40 0-40 0-40 0-40 0-40 0-40 0-40 0-40 0-40 0-40 0-40 0-40 0-10 40-12 40-13 14-5 26-10 40-16 31-14 9-4 40-20 28-16 12-7 40-25 12-8 28-19 28-21 12-9 38-31 2-1 40-33 7-6 33-28 14-12 26-22 22-18 18-14 32-26 8-6 40-30 6-4 34-23 25-17 15-9 40-24 12-7 28-15 40-21 9-4 31-14 40-17 22-9 18-7 40-14 40-13 20-6 20-6 40-10 40-10 40-9 19-5 21-5 40-10 40-10 40-9 40-6 2 0z" fill="#006cff"/>
<path d="M8665 1038l40-12 40-11 40-7 40-5 40 0 40 1 40 4 40 7 40 8 40 10 28 9 12 4 40 14 40 16 12 6 28 13 40 20 12 7 28 15 40 24 1 1 39 25 23 15 17 11 40 27 2 2 38 25 26 15 14 7 40 16 40 10 40 1 40-4 40 2 40 8 2 0 38 8 40 4 40-7 11-5 29-14 39-26 1 0 40-22 40-4 40 9 40 10 27 7 13 3 40 8 40 5 40 1 40 0 40-1 40-2 40-3 40-3 40-4 35-4 5-1 40-5 40-6 40-5 40-2 40 1 40 2 40 1 40 0 40-3 40-5 40-8 38-9 2-1 40-11 0 12 0 40 0 40 0 40 0 40 0 40 0 40 0 40 0 40 0 40 0 40 0 40 0 40 0 40 0 40 0 40 0 40 0 40 0 40 0 40 0 40 0 40 0 40 0 40 0 40 0 40 0 40 0 40 0 40 0 40 0 40 0 40 0 40 0 40 0 40 0 40 0 40 0 40 0 40 0 40 0 40 0 40 0 40 0 40 0 40 0 40 0 40 0 40 0 40 0 40 0 40 0 40 0 40 0 40 0 40 0 40 0 40 0 40 0 40 0 40 0 40 0 40-40 0-40 0-40 0-40 0-40 0-40 0-40 0-40 0-40 0-40 0-40 0-40 0-40 0-40 0-40 0-40 0-40 0-40 0-40 0-40 0-40 0-40 0-40 0-40 0-40 0-40 0-40 0-40 0-40 0-40 0-40 0-40 0-40 0-40 0-40 0-40 0-40 0-40 0-40 0-40 0-40 0-40 0-40 0-40 0-40 0-40 0-40 0-40 0-40 0-40 0-40 0-40 0-40 0-40 0-40 0-40 0-40 0-40 0-40 0-40 0-40 0-40 0-40 0-40 0-40 0-40 0-40 0-40 0-40 0-40 0-40 0-40 0-40 0-40 0-40 0-40 0-40 0-40 0-40 0-40 0-40 0-40 0-40 0-40 0-40 0-40 0-40 0-40 0-40 0-40 0-40 0-40 0-40 0-40 0 0-40 0-40 0-40 0-40 0-40 0-40 0-40 0-40 0-40 0-40 0-40 0-40 0-40 0-40 0-40 0-40 0-40 0-40 0-40 0-40 0-40 0-40 0-40 0-40 0-40 0-40 0-40 0-40 0-40 0-40 0-40 0-40 0-40 0-40 0-40 0-40 0-40 0-40 0-40 0-40 0-40 0-40 0-40 0-40 0-40 0-40 0-40 0-38 8-2 32-8 40-10 40-12 33-10 7-2 40-15 40-16 15-7 25-12 40-21 12-7 28-18 32-22 8-5 40-32 4-3 36-31 9-9 31-29 11-11 29-28 12-12 28-27 13-13 27-25 16-15 24-21 22-19 18-14 33-26 7-5 40-29 9-6 31-19 34-21 6-3 40-22 31-15 9-4 40-18 40-17 2-1 38-14 40-14 39-12 1 0 40-12 40-10 40-11 26-7z" fill="#0078ff"/>
<path d="M8705 1077l40-13 40-11 40-6 40-3 40 0 40 3 40 5 40 7 40 9 40 11 8 3 32 10 40 16 33 14 7 3 40 20 32 17 8 4 40 23 21 13 19 12 40 25 4 3 36 23 26 17 14 9 40 20 31 11 9 3 40 6 40-2 40-3 40 3 40 10 40 12 40 6 40-6 40-19 16-10 24-16 40-21 12-3 28-5 36 5 4 1 40 12 40 10 40 8 40 5 40 1 40-1 40-3 40-3 40-3 40-4 40-5 40-5 40-5 40-5 26-3 14-2 40-2 40 1 40 1 40 2 40-1 40-3 40-5 40-8 40-9 40-9 0 35 0 40 0 40 0 40 0 40 0 40 0 40 0 40 0 40 0 40 0 40 0 40 0 40 0 40 0 40 0 40 0 40 0 40 0 40 0 40 0 40 0 40 0 40 0 40 0 40 0 40 0 40 0 40 0 40 0 40 0 40 0 40 0 40 0 40 0 40 0 40 0 40 0 40 0 40 0 40 0 40 0 40 0 40 0 40 0 40 0 40 0 40 0 40 0 40 0 40 0 40 0 40 0 40 0 40 0 40 0 40 0 40 0 40 0 40 0 40 0 40-40 0-40 0-40 0-40 0-40 0-40 0-40 0-40 0-40 0-40 0-40 0-40 0-40 0-40 0-40 0-40 0-40 0-40 0-40 0-40 0-40 0-40 0-40 0-40 0-40 0-40 0-40 0-40 0-40 0-40 0-40 0-40 0-40 0-40 0-40 0-40 0-40 0-40 0-40 0-40 0-40 0-40 0-40 0-40 0-40 0-40 0-40 0-40 0-40 0-40 0-40 0-40 0-40 0-40 0-40 0-40 0-40 0-40 0-40 0-40 0-40 0-40 0-40 0-40 0-40 0-40 0-40 0-40 0-40 0-40 0-40 0-40 0-40 0-40 0-40 0-40 0-40 0-40 0-40 0-40 0-40 0-40 0-40 0-40 0-40 0-40 0-40 0-40 0-40 0-40 0-40 0-40 0-40 0-40 0 0-40 0-40 0-40 0-40 0-40 0-40 0-40 0-40 0-40 0-40 0-40 0-40 0-40 0-40 0-40 0-40 0-40 0-40 0-40 0-40 0-40 0-40 0-40 0-40 0-40 0-40 0-40 0-40 0-40 0-40 0-40 0-40 0-40 0-40 0-40 0-40 0-40 0-40 0-40 0-40 0-40 0-40 0-40 0-40 0-40 0-32 40-7 7-1 33-6 40-9 40-9 40-11 19-5 21-7 40-13 40-16 9-4 31-15 40-21 6-4 34-22 24-18 16-13 31-27 9-9 31-31 9-10 26-30 14-15 20-25 20-22 14-18 26-29 10-11 30-32 8-8 32-31 10-9 30-25 18-15 22-17 32-23 8-5 40-25 16-10 24-14 40-21 11-5 29-14 40-17 21-9 19-8 40-14 40-14 13-4 27-8 40-12 40-12 23-8z" fill="#0084ff"/>
<path d="M8745 1113l40-13 40-9 40-5 40-1 40 1 40 3 40 5 40 8 40 10 32 10 8 2 40 15 40 16 14 7 26 12 40 20 14 8 26 14 40 24 3 2 37 23 27 17 13 8 40 24 15 8 25 11 40 10 40 2 40-4 40-3 40 6 40 13 15 5 25 10 40 9 40-4 30-15 10-5 40-25 17-10 23-13 40-10 40 4 40 12 27 7 13 4 40 8 40 4 40 0 40-2 40-4 40-4 40-4 16-2 24-3 40-5 40-5 40-5 40-5 40-4 40-2 40 0 40 1 40 2 40-1 40-3 40-5 28-5 12-2 40-8 40-9 0 19 0 40 0 40 0 40 0 40 0 40 0 40 0 40 0 40 0 40 0 40 0 40 0 40 0 40 0 40 0 40 0 40 0 40 0 40 0 40 0 40 0 40 0 40 0 40 0 40 0 40 0 40 0 40 0 40 0 40 0 40 0 40 0 40 0 40 0 40 0 40 0 40 0 40 0 40 0 40 0 40 0 40 0 40 0 40 0 40 0 40 0 40 0 40 0 40 0 40 0 40 0 40 0 40 0 40 0 40 0 40 0 40 0 40 0 40 0 40 0 40-40 0-40 0-40 0-40 0-40 0-40 0-40 0-40 0-40 0-40 0-40 0-40 0-40 0-40 0-40 0-40 0-40 0-40 0-40 0-40 0-40 0-40 0-40 0-40 0-40 0-40 0-40 0-40 0-40 0-40 0-40 0-40 0-40 0-40 0-40 0-40 0-40 0-40 0-40 0-40 0-40 0-40 0-40 0-40 0-40 0-40 0-40 0-40 0-40 0-40 0-40 0-40 0-40 0-40 0-40 0-40 0-40 0-40 0-40 0-40 0-40 0-40 0-40 0-40 0-40 0-40 0-40 0-40 0-40 0-40 0-40 0-40 0-40 0-40 0-40 0-40 0-40 0-40 0-40 0-40 0-40 0-40 0-40 0-40 0-40 0-40 0-40 0-40 0-40 0-40 0-40 0-40 0-40 0-40 0 0-40 0-40 0-40 0-40 0-40 0-40 0-40 0-40 0-40 0-40 0-40 0-40 0-40 0-40 0-40 0-40 0-40 0-40 0-40 0-40 0-40 0-40 0-40 0-40 0-40 0-40 0-40 0-40 0-40 0-40 0-40 0-40 0-40 0-40 0-40 0-40 0-40 0-40 0-40 0-40 0-40 0-40 0-40 0-31 40-5 30-4 10-1 40-6 40-7 40-7 40-8 40-9 8-2 32-9 40-12 40-15 11-4 29-13 40-21 10-6 30-20 27-20 13-11 30-29 10-10 25-30 15-19 15-21 25-37 2-3 26-40 12-17 15-23 25-33 5-7 33-40 2-2 37-38 3-3 40-35 2-2 38-29 15-11 25-17 37-23 3-2 40-22 30-16 10-5 40-19 36-16 4-2 40-15 40-15 22-8 18-6 40-14 40-14 15-6z" fill="#0090ff"/>
<path d="M8785 1148l40-12 40-7 40-4 40-1 40 2 40 4 40 6 40 9 40 11 17 6 23 7 40 16 38 17 2 1 40 19 36 20 4 2 40 23 25 15 15 9 40 24 11 7 29 17 40 16 40 6 40-1 40-7 40-3 40 10 7 2 33 17 40 17 25 6 15 4 40-3 2-1 38-18 34-22 6-4 40-23 40-13 40 3 40 12 40 11 40 7 40 2 40-1 40-3 40-4 40-5 40-6 40-5 40-5 40-5 11-1 29-4 40-5 40-4 40-2 40 0 40 1 40 1 40 0 40-3 40-5 40-7 40-8 24-4 16-3 0 3 0 40 0 40 0 40 0 40 0 40 0 40 0 40 0 40 0 40 0 40 0 40 0 40 0 40 0 40 0 40 0 40 0 40 0 40 0 40 0 40 0 40 0 40 0 40 0 40 0 40 0 40 0 40 0 40 0 40 0 40 0 40 0 40 0 40 0 40 0 40 0 40 0 40 0 40 0 40 0 40 0 40 0 40 0 40 0 40 0 40 0 40 0 40 0 40 0 40 0 40 0 40 0 40 0 40 0 40 0 40 0 40 0 40 0 40 0 40 0 40-40 0-40 0-40 0-40 0-40 0-40 0-40 0-40 0-40 0-40 0-40 0-40 0-40 0-40 0-40 0-40 0-40 0-40 0-40 0-40 0-40 0-40 0-40 0-40 0-40 0-40 0-40 0-40 0-40 0-40 0-40 0-40 0-40 0-40 0-40 0-40 0-40 0-40 0-40 0-40 0-40 0-40 0-40 0-40 0-40 0-40 0-40 0-40 0-40 0-40 0-40 0-40 0-40 0-40 0-40 0-40 0-40 0-40 0-40 0-40 0-40 0-40 0-40 0-40 0-40 0-40 0-40 0-40 0-40 0-40 0-40 0-40 0-40 0-40 0-40 0-40 0-40 0-40 0-40 0-40 0-40 0-40 0-40 0-40 0-40 0-40 0-40 0-40 0-40 0-40 0-40 0-40 0-40 0-40 0 0-40 0-40 0-40 0-40 0-40 0-40 0-40 0-40 0-40 0-40 0-40 0-40 0-40 0-40 0-40 0-40 0-40 0-40 0-40 0-40 0-40 0-40 0-40 0-40 0-40 0-40 0-40 0-40 0-40 0-40 0-40 0-40 0-40 0-40 0-40 0-40 0-40 0-40 0-40 0-40 0-40 0-37 36-3 4 0 40-4 40-4 40-5 40-5 40-5 40-6 40-6 25-5 15-3 40-9 40-11 40-13 12-4 28-11 40-19 18-10 22-14 36-26 4-3 40-37 33-40 7-10 19-30 21-40 18-40 18-40 4-8 15-32 24-40 1-1 28-39 12-13 24-27 16-15 28-25 12-10 39-30 1-1 40-27 18-12 22-13 40-23 7-4 33-17 40-19 9-4 31-13 40-17 25-10 15-6 40-16 40-17 3-1z" fill="#00a0ff"/>
<path d="M8785 1198l40-15 40-10 40-7 40-2 40-1 40 3 40 5 40 7 40 10 40 12 5 2 35 13 40 17 21 10 19 9 40 20 19 11 21 12 40 23 9 5 31 19 36 21 4 2 40 15 40 1 40-5 40-10 40-2 40 17 40 22 40 24 40 9 40-4 40-18 16-11 24-15 40-25 40-12 40 1 40 11 2 0 38 10 40 5 40 0 40-2 40-4 40-6 21-3 19-3 40-6 40-6 40-5 40-5 40-5 40-5 40-4 14-1 26-1 40 0 32 1 8 0 40 1 40 0 16-1 24-2 40-5 40-7 40-7 40-7 0 28 0 40 0 40 0 40 0 40 0 40 0 40 0 40 0 40 0 40 0 40 0 40 0 40 0 40 0 40 0 40 0 40 0 40 0 40 0 40 0 40 0 40 0 40 0 40 0 40 0 40 0 40 0 40 0 40 0 40 0 40 0 40 0 40 0 40 0 40 0 40 0 40 0 40 0 40 0 40 0 40 0 40 0 40 0 40 0 40 0 40 0 40 0 40 0 40 0 40 0 40 0 40 0 40 0 40 0 40 0 40 0 40 0 40 0 40 0 40-40 0-40 0-40 0-40 0-40 0-40 0-40 0-40 0-40 0-40 0-40 0-40 0-40 0-40 0-40 0-40 0-40 0-40 0-40 0-40 0-40 0-40 0-40 0-40 0-40 0-40 0-40 0-40 0-40 0-40 0-40 0-40 0-40 0-40 0-40 0-40 0-40 0-40 0-40 0-40 0-40 0-40 0-40 0-40 0-40 0-40 0-40 0-40 0-40 0-40 0-40 0-40 0-40 0-40 0-40 0-40 0-40 0-40 0-40 0-40 0-40 0-40 0-40 0-40 0-40 0-40 0-40 0-40 0-40 0-40 0-40 0-40 0-40 0-40 0-40 0-40 0-40 0-40 0-40 0-40 0-40 0-40 0-40 0-40 0-40 0-40 0-40 0-40 0-40 0-40 0-40 0-40 0-40 0-40 0 0-40 0-40 0-40 0-40 0-40 0-40 0-40 0-40 0-40 0-40 0-40 0-40 0-40 0-40 0-40 0-40 0-40 0-40 0-40 0-40 0-40 0-40 0-40 0-40 0-40 0-40 0-40 0-40 0-40 0-40 0-40 0-40 0-40 0-40 0-40 0-40 0-40 0-40 0-40 0-40 0-9 40-3 40-3 40-3 40-3 40-4 40-3 40-4 40-5 29-3 11-2 40-6 40-7 40-8 40-9 27-8 13-4 40-15 40-17 7-4 33-19 33-21 7-6 40-33 1-1 39-40 33-40 7-11 19-29 19-40 2-10 7-30 4-40 8-40 17-40 4-7 22-33 18-22 16-18 24-23 17-17 23-19 25-21 15-12 39-28 1-1 40-26 22-13 18-10 40-21 17-9 23-11 40-18 24-11 16-7 40-19 30-14z" fill="#00acff"/>
<path d="M8985 1202l39 0 1 0 40 3 40 6 40 9 40 11 32 11 8 3 40 16 40 19 5 2 35 18 40 21 2 1 38 22 30 18 10 7 40 23 35 10 5 1 14-1 26-2 40-9 40-12 40 1 40 21 2 1 38 36 8 4 32 19 40 6 40-5 40-17 4-3 36-24 23-16 17-10 40-13 40 2 40 10 40 7 40 1 40-2 40-4 40-5 40-7 40-7 40-7 34-5 6-1 40-6 40-5 40-5 40-5 40-4 40-1 40 0 40 1 40 1 40 0 40-4 40-5 40-6 2 0 38-6 40-6 0 12 0 40 0 40 0 40 0 40 0 40 0 40 0 40 0 40 0 40 0 40 0 40 0 40 0 40 0 40 0 40 0 40 0 40 0 40 0 40 0 40 0 40 0 40 0 40 0 40 0 40 0 40 0 40 0 40 0 40 0 40 0 40 0 40 0 40 0 40 0 40 0 40 0 40 0 40 0 40 0 40 0 40 0 40 0 40 0 40 0 40 0 40 0 40 0 40 0 40 0 40 0 40 0 40 0 40 0 40 0 40 0 40 0 40 0 40 0 40-40 0-40 0-40 0-40 0-40 0-40 0-40 0-40 0-40 0-40 0-40 0-40 0-40 0-40 0-40 0-40 0-40 0-40 0-40 0-40 0-40 0-40 0-40 0-40 0-40 0-40 0-40 0-40 0-40 0-40 0-40 0-40 0-40 0-40 0-40 0-40 0-40 0-40 0-40 0-40 0-40 0-40 0-40 0-40 0-40 0-40 0-40 0-40 0-40 0-40 0-40 0-40 0-40 0-40 0-40 0-40 0-40 0-40 0-40 0-40 0-40 0-40 0-40 0-40 0-40 0-40 0-40 0-40 0-40 0-40 0-40 0-40 0-40 0-40 0-40 0-40 0-40 0-40 0-40 0-40 0-40 0-40 0-40 0-40 0-40 0-40 0-40 0-40 0-40 0-40 0-40 0-40 0-40 0-40 0 0-40 0-40 0-40 0-40 0-40 0-40 0-40 0-40 0-40 0-40 0-40 0-40 0-40 0-40 0-40 0-40 0-40 0-40 0-40 0-40 0-40 0-40 0-40 0-40 0-40 0-40 0-40 0-40 0-40 0-40 0-40 0-40 0-40 0-40 0-40 0-40 0-40 0-40 0-28 40-3 40-3 40-2 40-3 22-1 18-1 40-3 40-4 40-3 40-4 40-4 40-5 40-6 40-6 20-4 20-4 40-11 40-12 36-13 4-2 40-19 34-19 6-4 40-29 9-7 31-28 13-12 27-27 12-13 28-30 9-10 31-33 7-7 33-33 8-7 27-40 2-40-20-40-3-40 18-40 8-12 17-28 23-28 9-12 31-31 8-9 32-27 16-13 24-18 33-22 7-4 40-24 23-12 17-9 40-20 20-11 20-10 40-22 17-8 23-10 40-14 40-9 40-5 31-2z" fill="#00b8ff"/>
<path d="M8985 1241l40-2 40 1 15 2 25 3 40 7 40 10 40 13 16 7 24 10 40 18 25 12 15 8 40 20 22 12 18 11 40 26 5 3 35 23 40 10 40-5 40-18 13-10 27-9 40 5 7 4 28 40 5 13 21 27 19 10 40 10 40 2 40-6 40-15 1-1 39-26 16-14 24-17 40-14 40 5 40 9 40 1 40-4 40-5 40-6 40-7 13-2 27-5 40-8 40-8 40-6 40-6 40-6 10-1 30-4 40-4 40-4 40-1 40 0 40 1 40 0 40 0 40-3 40-5 40-6 40-5 40-6 0 37 0 40 0 40 0 40 0 40 0 40 0 40 0 40 0 40 0 40 0 40 0 40 0 40 0 40 0 40 0 40 0 40 0 40 0 40 0 40 0 40 0 40 0 40 0 40 0 40 0 40 0 40 0 40 0 40 0 40 0 40 0 40 0 40 0 40 0 40 0 40 0 40 0 40 0 40 0 40 0 40 0 40 0 40 0 40 0 40 0 40 0 40 0 40 0 40 0 40 0 40 0 40 0 40 0 40 0 40 0 40 0 40 0 40 0 40-40 0-40 0-40 0-40 0-40 0-40 0-40 0-40 0-40 0-40 0-40 0-40 0-40 0-40 0-40 0-40 0-40 0-40 0-40 0-40 0-40 0-40 0-40 0-40 0-40 0-40 0-40 0-40 0-40 0-40 0-40 0-40 0-40 0-40 0-40 0-40 0-40 0-40 0-40 0-40 0-40 0-40 0-40 0-40 0-40 0-40 0-40 0-40 0-40 0-40 0-40 0-40 0-40 0-40 0-40 0-40 0-40 0-40 0-40 0-40 0-40 0-40 0-40 0-40 0-40 0-40 0-40 0-40 0-40 0-40 0-40 0-40 0-40 0-40 0-40 0-40 0-40 0-40 0-40 0-40 0-40 0-40 0-40 0-40 0-40 0-40 0-40 0-40 0-40 0-40 0-40 0-40 0-40 0-40 0 0-40 0-40 0-40 0-40 0-40 0-40 0-40 0-40 0-40 0-40 0-40 0-40 0-40 0-40 0-40 0-40 0-40 0-40 0-40 0-40 0-40 0-40 0-40 0-40 0-40 0-40 0-40 0-40 0-40 0-40 0-40 0-40 0-40 0-40 0-40 0-40 0-40 0-12 40-4 40-3 40-3 40-2 40-3 40-3 40-2 40-3 40-3 26-2 14-1 40-4 40-5 40-5 40-6 40-7 40-9 12-3 28-8 40-15 39-17 1-1 40-23 23-16 17-12 33-28 7-7 34-33 6-6 31-34 9-10 28-30 12-13 26-27 14-13 25-27 15-18 13-22 11-40 4-40 3-40 6-40 3-9 10-31 23-40 7-10 24-30 16-16 26-24 14-11 39-29 1 0 40-25 25-15 15-8 40-23 14-9 26-15 40-23 4-2 36-16 40-12 40-8 31-4z" fill="#00c4ff"/>
<path d="M9025 1278l40-1 40 2 20 3 20 3 40 9 40 14 36 14 4 2 40 20 40 18 40 20 35 20 5 4 40 33 5 3 35 29 35 11 5 2 24-2 16-1 40-17 24-22 16-9 12 9-5 40 11 40 22 12 40 8 40 1 40 0 40-1 40-5 40-9 16-6 24-12 33-28 7-6 40-20 40 15 40-4 40-11 40-10 14-4 26-5 40-9 40-7 40-8 40-9 10-2 30-6 40-8 40-6 40-6 40-5 40-4 40-3 40-1 40 0 40 0 40 1 40-1 15-1 25-2 40-5 40-5 40-4 40-5 0 21 0 40 0 40 0 40 0 40 0 40 0 40 0 40 0 40 0 40 0 40 0 40 0 40 0 40 0 40 0 40 0 40 0 40 0 40 0 40 0 40 0 40 0 40 0 40 0 40 0 40 0 40 0 40 0 40 0 40 0 40 0 40 0 40 0 40 0 40 0 40 0 40 0 40 0 40 0 40 0 40 0 40 0 40 0 40 0 40 0 40 0 40 0 40 0 40 0 40 0 40 0 40 0 40 0 40 0 40 0 40 0 40 0 40 0 40-40 0-40 0-40 0-40 0-40 0-40 0-40 0-40 0-40 0-40 0-40 0-40 0-40 0-40 0-40 0-40 0-40 0-40 0-40 0-40 0-40 0-40 0-40 0-40 0-40 0-40 0-40 0-40 0-40 0-40 0-40 0-40 0-40 0-40 0-40 0-40 0-40 0-40 0-40 0-40 0-40 0-40 0-40 0-40 0-40 0-40 0-40 0-40 0-40 0-40 0-40 0-40 0-40 0-40 0-40 0-40 0-40 0-40 0-40 0-40 0-40 0-40 0-40 0-40 0-40 0-40 0-40 0-40 0-40 0-40 0-40 0-40 0-40 0-40 0-40 0-40 0-40 0-40 0-40 0-40 0-40 0-40 0-40 0-40 0-40 0-40 0-40 0-40 0-40 0-40 0-40 0-40 0-40 0-40 0 0-40 0-40 0-40 0-40 0-40 0-40 0-40 0-40 0-40 0-40 0-40 0-40 0-40 0-40 0-40 0-40 0-40 0-40 0-40 0-40 0-40 0-40 0-40 0-40 0-40 0-40 0-40 0-40 0-40 0-40 0-40 0-40 0-40 0-40 0-40 0-40 40-6 40-4 40-3 40-3 40-2 40-3 40-2 40-3 40-2 40-3 40-3 40-3 36-3 4 0 40-5 40-5 40-7 40-8 40-11 10-4 30-11 40-19 16-10 24-15 33-25 7-6 37-34 3-3 34-37 6-6 28-34 12-14 21-26 19-21 16-19 24-26 10-14 29-40 1-2 16-38 10-40 8-40 6-23 4-17 14-40 22-40 29-40 11-12 29-28 11-9 40-30 1-1 39-25 25-15 15-9 40-25 8-6 32-20 34-20 6-3 40-16 40-12 40-8 6-1z" fill="#00d0ff"/>
<path d="M9025 1320l40-4 40-1 40 4 13 3 27 6 40 14 40 18 4 2 36 22 40 18 1 0 39 18 29 22 11 16 17 24 22 40 1 1 36 39 4 2 40 14 40-1 40-2 40 4 40 4 40 1 40-1 40-2 40-2 40-3 40-4 40-6 21-4 19-6 40-13 40-11 17-10 23-13 40-23 8-4 32-13 40-13 40-10 17-4 23-5 40-9 40-9 40-10 38-7 2 0 40-7 40-6 40-4 40-4 40-3 40-1 40 0 40 0 40 0 40-1 40-3 40-4 40-4 25-3 15-2 40-4 0 6 0 40 0 40 0 40 0 40 0 40 0 40 0 40 0 40 0 40 0 40 0 40 0 40 0 40 0 40 0 40 0 40 0 40 0 40 0 40 0 40 0 40 0 40 0 40 0 40 0 40 0 40 0 40 0 40 0 40 0 40 0 40 0 40 0 40 0 40 0 40 0 40 0 40 0 40 0 40 0 40 0 40 0 40 0 40 0 40 0 40 0 40 0 40 0 40 0 40 0 40 0 40 0 40 0 40 0 40 0 40 0 40 0 40 0 40-40 0-40 0-40 0-40 0-40 0-40 0-40 0-40 0-40 0-40 0-40 0-40 0-40 0-40 0-40 0-40 0-40 0-40 0-40 0-40 0-40 0-40 0-40 0-40 0-40 0-40 0-40 0-40 0-40 0-40 0-40 0-40 0-40 0-40 0-40 0-40 0-40 0-40 0-40 0-40 0-40 0-40 0-40 0-40 0-40 0-40 0-40 0-40 0-40 0-40 0-40 0-40 0-40 0-40 0-40 0-40 0-40 0-40 0-40 0-40 0-40 0-40 0-40 0-40 0-40 0-40 0-40 0-40 0-40 0-40 0-40 0-40 0-40 0-40 0-40 0-40 0-40 0-40 0-40 0-40 0-40 0-40 0-40 0-40 0-40 0-40 0-40 0-40 0-40 0-40 0-40 0-40 0-40 0-40 0 0-40 0-40 0-40 0-40 0-40 0-40 0-40 0-40 0-40 0-40 0-40 0-40 0-40 0-40 0-40 0-40 0-40 0-40 0-40 0-40 0-40 0-40 0-40 0-40 0-40 0-40 0-40 0-40 0-40 0-40 0-40 0-40 0-40 0-40 0-32 40-8 40-5 40-3 40-3 40-3 40-2 40-2 40-2 40-2 40-1 40-2 40-2 40-3 40-2 40-4 39-4 1 0 40-6 40-8 40-11 37-15 3-1 40-22 25-17 15-11 33-29 7-7 31-33 9-10 24-30 16-19 15-21 25-33 5-7 30-40 5-6 24-34 16-20 12-20 20-40 8-20 7-20 12-40 13-40 8-19 10-21 23-40 7-11 23-29 17-18 25-22 15-13 40-27 40-25 26-15 14-9 40-28 5-3 35-23 29-17 11-5 40-16 40-13 29-6z" fill="#00e0fb"/>
<path d="M9065 1358l40-4 40 2 33 6 7 1 40 16 37 23 3 3 30 37 6 40 4 12 19 28 21 22 38 18 2 1 40 18 32 21 8 3 40 16 40 7 40-4 40-3 40-1 40 0 40-1 40-1 40-3 40-2 40-2 40-1 40-1 40-5 5-2 35-12 40-20 11-8 29-19 29-21 11-8 40-22 22-10 18-7 40-13 40-9 40-9 6-2 34-9 40-10 40-8 40-7 40-6 4 0 36-4 40-3 40-3 40 0 40 0 40-1 40-1 40-1 40-3 40-3 40-4 40-3 40-4 0 30 0 40 0 40 0 40 0 40 0 40 0 40 0 40 0 40 0 40 0 40 0 40 0 40 0 40 0 40 0 40 0 40 0 40 0 40 0 40 0 40 0 40 0 40 0 40 0 40 0 40 0 40 0 40 0 40 0 40 0 40 0 40 0 40 0 40 0 40 0 40 0 40 0 40 0 40 0 40 0 40 0 40 0 40 0 40 0 40 0 40 0 40 0 40 0 40 0 40 0 40 0 40 0 40 0 40 0 40 0 40 0 40 0 40-40 0-40 0-40 0-40 0-40 0-40 0-40 0-40 0-40 0-40 0-40 0-40 0-40 0-40 0-40 0-40 0-40 0-40 0-40 0-40 0-40 0-40 0-40 0-40 0-40 0-40 0-40 0-40 0-40 0-40 0-40 0-40 0-40 0-40 0-40 0-40 0-40 0-40 0-40 0-40 0-40 0-40 0-40 0-40 0-40 0-40 0-40 0-40 0-40 0-40 0-40 0-40 0-40 0-40 0-40 0-40 0-40 0-40 0-40 0-40 0-40 0-40 0-40 0-40 0-40 0-40 0-40 0-40 0-40 0-40 0-40 0-40 0-40 0-40 0-40 0-40 0-40 0-40 0-40 0-40 0-40 0-40 0-40 0-40 0-40 0-40 0-40 0-40 0-40 0-40 0-40 0-40 0-40 0-40 0 0-40 0-40 0-40 0-40 0-40 0-40 0-40 0-40 0-40 0-40 0-40 0-40 0-40 0-40 0-40 0-40 0-40 0-40 0-40 0-40 0-40 0-40 0-40 0-40 0-40 0-40 0-40 0-40 0-40 0-40 0-40 0-40 0-40 0-23 40-12 31-5 9-1 40-4 40-3 40-2 40-2 40-1 40-2 40-1 40-1 40-1 40-1 40-1 40-1 40-1 40-2 40-3 40-5 40-7 5-1 35-9 40-17 21-14 19-12 31-28 9-8 29-32 11-12 21-28 19-24 11-16 27-40 2-3 23-37 17-25 9-15 27-40 4-5 21-35 19-32 4-8 16-40 15-40 5-14 10-26 19-40 11-19 15-21 25-31 9-9 31-30 14-10 26-19 37-21 3-2 40-21 31-17 9-6 40-27 10-7 30-20 34-20 6-3 40-17 40-15 20-5z" fill="#06ecf1"/>
<path d="M9105 1397l40-2 40 7 1 0 39 19 22 21 18 28 5 12 16 40 19 38 2 2 38 35 9 5 31 13 40 14 33 13 7 2 40 9 40 4 40-1 40-2 40-1 40-1 40-1 40-2 40-3 40-2 40-1 40 0 40 1 15-2 25-3 40-15 39-22 1 0 40-30 12-10 28-22 27-18 13-8 40-20 32-12 8-3 40-11 40-10 40-11 20-5 20-5 40-9 40-7 40-5 40-4 40-3 40-2 40-1 40 0 40 0 40-2 34-2 6 0 40-3 40-2 40-3 40-3 40-2 0 13 0 40 0 40 0 40 0 40 0 40 0 40 0 40 0 40 0 40 0 40 0 40 0 40 0 40 0 40 0 40 0 40 0 40 0 40 0 40 0 40 0 40 0 40 0 40 0 40 0 40 0 40 0 40 0 40 0 40 0 40 0 40 0 40 0 40 0 40 0 40 0 40 0 40 0 40 0 40 0 40 0 40 0 40 0 40 0 40 0 40 0 40 0 40 0 40 0 40 0 40 0 40 0 40 0 40 0 40 0 40 0 40 0 40-40 0-40 0-40 0-40 0-40 0-40 0-40 0-40 0-40 0-40 0-40 0-40 0-40 0-40 0-40 0-40 0-40 0-40 0-40 0-40 0-40 0-40 0-40 0-40 0-40 0-40 0-40 0-40 0-40 0-40 0-40 0-40 0-40 0-40 0-40 0-40 0-40 0-40 0-40 0-40 0-40 0-40 0-40 0-40 0-40 0-40 0-40 0-40 0-40 0-40 0-40 0-40 0-40 0-40 0-40 0-40 0-40 0-40 0-40 0-40 0-40 0-40 0-40 0-40 0-40 0-40 0-40 0-40 0-40 0-40 0-40 0-40 0-40 0-40 0-40 0-40 0-40 0-40 0-40 0-40 0-40 0-40 0-40 0-40 0-40 0-40 0-40 0-40 0-40 0-40 0-40 0-40 0-40 0-40 0 0-40 0-40 0-40 0-40 0-40 0-40 0-40 0-40 0-40 0-40 0-40 0-40 0-40 0-40 0-40 0-40 0-40 0-40 0-40 0-40 0-40 0-40 0-40 0-40 0-40 0-40 0-40 0-40 0-40 0-40 0-40 0-40 0-11 40-17 40-9 23-3 17-2 40-3 40-2 40-1 40-1 40-1 40 0 40 0 40 0 40 0 40 1 40 0 40 0 40 1 40 0 40-1 40-1 40-4 40-7 40-15 6-4 34-27 9-13 30-40 1-1 25-39 15-20 12-20 24-40 4-6 19-34 21-36 2-4 22-40 16-26 7-14 23-40 10-17 12-23 18-40 10-24 6-16 17-40 17-38 1-2 28-40 11-15 25-25 15-15 35-25 5-4 40-21 39-15 1 0 40-15 40-17 17-8 23-13 40-27 40-28 14-12 26-15 40-19 18-6z" fill="#0ff8e7"/>
<path d="M9145 1439l33 3 7 1 40 23 11 16 21 40 8 28 4 12 15 40 21 22 35 18 5 2 40 10 40 9 40 8 40 7 40 3 40 1 19 0 21 0 40 0 37 0 3 0 40-1 40-2 40-3 40-3 40-1 40 1 40 0 40-5 40-14 19-12 21-13 34-27 6-4 40-33 4-3 36-27 22-13 18-9 40-17 40-13 4-1 36-10 40-11 40-11 38-8 2 0 40-7 40-6 40-4 40-2 40-1 40 0 40 0 40-1 40-2 40-3 40-2 40-2 40-3 40-3 40-1 0 37 0 40 0 40 0 40 0 40 0 40 0 40 0 40 0 40 0 40 0 40 0 40 0 40 0 40 0 40 0 40 0 40 0 40 0 40 0 40 0 40 0 40 0 40 0 40 0 40 0 40 0 40 0 40 0 40 0 40 0 40 0 40 0 40 0 40 0 40 0 40 0 40 0 40 0 40 0 40 0 40 0 40 0 40 0 40 0 40 0 40 0 40 0 40 0 40 0 40 0 40 0 40 0 40 0 40 0 40 0 40 0 40-40 0-40 0-40 0-40 0-40 0-40 0-40 0-40 0-40 0-40 0-40 0-40 0-40 0-40 0-40 0-40 0-40 0-40 0-40 0-40 0-40 0-40 0-40 0-40 0-40 0-40 0-40 0-40 0-40 0-40 0-40 0-40 0-40 0-40 0-40 0-40 0-40 0-40 0-40 0-40 0-40 0-40 0-40 0-40 0-40 0-40 0-40 0-40 0-40 0-40 0-40 0-40 0-40 0-40 0-40 0-40 0-40 0-40 0-40 0-40 0-40 0-40 0-40 0-40 0-40 0-40 0-40 0-40 0-40 0-40 0-40 0-40 0-40 0-40 0-40 0-40 0-40 0-40 0-40 0-40 0-40 0-40 0-40 0-40 0-40 0-40 0-40 0-40 0-40 0-40 0-40 0-40 0-40 0-40 0 0-40 0-40 0-40 0-40 0-40 0-40 0-40 0-40 0-40 0-40 0-40 0-40 0-40 0-40 0-40 0-40 0-40 0-40 0-40 0-40 0-40 0-40 0-40 0-40 0-40 0-40 0-40 0-40 0-40 0-40 0-33 14-7 26-13 40-15 40-8 40-3 14-1 26-1 40-1 40-1 40 0 40 0 40 1 40 0 40 1 15 1 25 1 40 2 40 2 40 2 40 2 40 3 40 3 40 4 40 4 40 6 40 9 8 2 32 10 40 24 6 6 34 20 30 20 10 3 40 0 3-3 3-40-6-15-23-25-17-12-40-28-28-40-6-40 6-40 13-40 15-29 4-11 19-40 17-34 2-6 19-40 19-37 1-3 20-40 19-37 1-3 20-40 18-40 1-1 16-39 16-40 8-18 11-22 25-40 4-5 33-35 7-7 40-29 10-4 30-15 40-12 40-6 40-3 40-1 40 7 40 19 11 11 29 17 38 23 2 1 40 1 7-2 33-38 1-2-1-1-34-39-6-7-36-33-4-13-10-27 10-27 4-13 36-30 26-10z" fill="#19ffde"/>
<path d="M10625 1439l40-1 40-1 40 1 40 0 40-1 40-3 40-4 40-1 40-2 40-2 40-2 40 0 0 19 0 40 0 40 0 40 0 40 0 40 0 40 0 40 0 40 0 40 0 40 0 40 0 40 0 40 0 40 0 40 0 40 0 40 0 40 0 40 0 40 0 40 0 40 0 40 0 40 0 40 0 40 0 40 0 40 0 40 0 40 0 40 0 40 0 40 0 40 0 40 0 40 0 40 0 40 0 40 0 40 0 40 0 40 0 40 0 40 0 40 0 40 0 40 0 40 0 40 0 40 0 40 0 40 0 40 0 40 0 40 0 40-40 0-40 0-40 0-40 0-40 0-40 0-40 0-40 0-40 0-40 0-40 0-40 0-40 0-40 0-40 0-40 0-40 0-40 0-40 0-40 0-40 0-40 0-40 0-40 0-40 0-40 0-40 0-40 0-40 0-40 0-40 0-40 0-40 0-40 0-40 0-40 0-40 0-40 0-40 0-40 0-40 0-40 0-40 0-40 0-40 0-40 0-40 0-40 0-40 0-40 0-40 0-40 0-40 0-40 0-40 0-40 0-40 0-40 0-40 0-40 0-40 0-40 0-40 0-40 0-40 0-40 0-40 0-40 0-40 0-40 0-40 0-40 0-40 0-40 0-40 0-40 0-40 0-40 0-40 0-40 0-40 0-40 0-40 0-40 0-40 0-40 0-40 0-40 0-40 0-40 0-40 0-40 0-40 0-40 0 0-40 0-40 0-40 0-40 0-40 0-40 0-40 0-40 0-40 0-40 0-40 0-40 0-40 0-40 0-40 0-40 0-40 0-40 0-40 0-40 0-40 0-40 0-40 0-40 0-40 0-40 0-40 0-40 0-40 0-11 40-14 30-15 10-5 40-15 40-7 40-4 40-2 40-1 40 0 40 0 40 1 40 1 40 1 40 2 40 3 40 2 40 4 40 4 40 5 40 6 25 5 15 3 40 9 40 12 40 16 40 15 40 17 16 8 24 7 40 11 40 6 40-7 17-17 13-40 0-40-9-40-19-40-2-2-40-37-2-1-36-40-2-7-6-33 6-34 1-6 13-40 14-40 12-30 4-10 17-40 17-40 2-4 16-36 17-40 7-14 11-26 15-40 14-37 1-3 18-40 21-37 2-3 35-40 3-3 40-30 17-7 23-10 40-9 40-2 40 4 40 9 21 8 19 6 40 16 40 14 19 4 21 3 40-1 11-2 29-7 40-16 40-16 4-1 36-9 40 4 39 5 1 0 40 5 40 5 40 4 40 4 40 3 40 3 40 2 40 2 40 1 40-1 40-2 40-3 40-4 40-1 40 0 40-1 40-5 38-12 2-1 40-27 15-12 25-20 23-20 17-14 32-26 8-6 40-25 18-9 22-10 40-14 40-12 14-4 26-8 40-10 40-9 40-7 40-5 8-1zM9145 1511l40-20 40 28 2 3 1 40-3 10-40 13-29-23-11-22-7-18z" fill="#23ffd4"/>
<path d="M11025 1441l40-1 40 1 0 1 0 40 0 40 0 40 0 40 0 40 0 40 0 40 0 40 0 40 0 40 0 40 0 40 0 40 0 40 0 40 0 40 0 40 0 40 0 40 0 40 0 40 0 40 0 40 0 40 0 40 0 40 0 40 0 40 0 40 0 40 0 40 0 40 0 40 0 40 0 40 0 40 0 40 0 40 0 40 0 40 0 40 0 40 0 40 0 40 0 40 0 40 0 40 0 40 0 40 0 40 0 40 0 40 0 40 0 40 0 40 0 40-40 0-40 0-40 0-40 0-40 0-40 0-40 0-40 0-40 0-40 0-40 0-40 0-40 0-40 0-40 0-40 0-40 0-40 0-40 0-40 0-40 0-40 0-40 0-40 0-40 0-40 0-40 0-40 0-40 0-40 0-40 0-40 0-40 0-40 0-40 0-40 0-40 0-40 0-40 0-40 0-40 0-40 0-40 0-40 0-40 0-40 0-40 0-40 0-40 0-40 0-40 0-40 0-40 0-40 0-40 0-40 0-40 0-40 0-40 0-40 0-40 0-40 0-40 0-40 0-40 0-40 0-40 0-40 0-40 0-40 0-40 0-40 0-40 0-40 0-40 0-40 0-40 0-40 0-40 0-40 0-40 0-40 0-40 0-40 0-40 0-40 0-40 0-40 0-40 0-40 0-40 0-40 0-40 0-40 0 0-40 0-40 0-40 0-40 0-40 0-40 0-40 0-40 0-40 0-40 0-40 0-40 0-40 0-40 0-40 0-40 0-40 0-40 0-40 0-40 0-40 0-40 0-40 0-40 0-40 0-40 0-40 0-37 22-3 18-3 40-10 40-14 38-13 2-1 40-9 40-6 40-3 40-2 40-1 40 0 40 1 40 1 40 2 40 2 40 3 40 4 40 5 28 4 12 2 40 6 40 8 40 10 40 11 9 3 31 8 40 11 40 12 33 9 7 1 40 7 40 4 40-1 25-11 15-15 15-25 11-40 3-40-6-40-14-40-9-17-16-23-24-34-6-6-20-40-1-40 6-40 11-40 10-29 4-11 15-40 16-40 5-14 10-26 16-40 14-39 0-1 14-40 14-40 12-25 9-15 31-40 40-31 21-9 19-8 40-6 40 1 40 6 24 7 16 4 40 12 40 11 40 8 40 1 40-3 40-8 40-10 40-10 32-5 8-2 40-5 40-1 40 2 40 3 40 1 40 1 10 1 30 2 40 6 40 5 40 3 40 1 40 0 40-2 40-3 40-4 40-3 40-2 40-2 9-1 31-5 40-14 34-21 6-4 40-33 4-3 36-32 9-8 31-25 20-15 20-13 40-21 15-6 25-10 40-12 40-12 21-6 19-5 40-8 40-7 40-5 40-3 40-1 40 1 40 1 40 0 40 0 40-4 40-5 40-2 40-1 20-1z" fill="#30ffc7"/>
<path d="M10545 1476l40-4 40-3 40 0 40 1 40 2 40 1 40 0 40-2 40-5 40-1 40-1 40-3 40-1 40 2 0 20 0 40 0 40 0 40 0 40 0 40 0 40 0 40 0 40 0 40 0 40 0 40 0 40 0 40 0 40 0 40 0 40 0 40 0 40 0 40 0 40 0 40 0 40 0 40 0 40 0 40 0 40 0 40 0 40 0 40 0 40 0 40 0 40 0 40 0 40 0 40 0 40 0 40 0 40 0 40 0 40 0 40 0 40 0 40 0 40 0 40 0 40 0 40 0 40 0 40 0 40 0 40 0 40 0 40 0 40 0 40-40 0-40 0-40 0-40 0-40 0-40 0-40 0-40 0-40 0-40 0-40 0-40 0-40 0-40 0-40 0-40 0-40 0-40 0-40 0-40 0-40 0-40 0-40 0-40 0-40 0-40 0-40 0-40 0-40 0-40 0-40 0-40 0-40 0-40 0-40 0-40 0-40 0-40 0-40 0-40 0-40 0-40 0-40 0-40 0-40 0-40 0-40 0-40 0-40 0-40 0-40 0-40 0-40 0-40 0-40 0-40 0-40 0-40 0-40 0-40 0-40 0-40 0-40 0-40 0-40 0-40 0-40 0-40 0-40 0-40 0-40 0-40 0-40 0-40 0-40 0-40 0-40 0-40 0-40 0-40 0-40 0-40 0-40 0-40 0-40 0-40 0-40 0-40 0-40 0-40 0-40 0-40 0-40 0-40 0 0-40 0-40 0-40 0-40 0-40 0-40 0-40 0-40 0-40 0-40 0-40 0-40 0-40 0-40 0-40 0-40 0-40 0-40 0-40 0-40 0-40 0-40 0-40 0-40 0-40 0-40 0-28 40-4 40-5 20-3 20-4 40-10 40-9 40-8 40-6 29-3 11-1 40-3 40-2 40-1 40 0 40 0 40 2 40 3 28 2 12 1 40 4 40 5 40 6 40 6 40 7 40 8 12 3 28 5 40 7 40 7 40 6 40 5 40 4 40-3 40-17 17-14 23-36 3-4 14-40 6-40-4-40-12-40-7-16-12-24-21-40-7-17-11-23-8-40 2-40 9-40 8-26 5-14 15-40 14-40 6-18 8-22 14-40 11-40 7-27 4-13 15-40 21-33 7-7 33-27 29-13 11-5 40-6 40 3 40 7 2 1 38 10 40 9 40 7 40 4 40-2 40-6 40-9 40-9 25-4 15-3 40-7 40-6 40-3 40 1 40 1 40 1 40 0 40 3 40 8 36 5 4 1 40 4 40 2 40 1 40-2 40-4 9-2 31-4 40-5 40-3 40-4 40-8 40-14 4-2 36-22 22-18 18-15 28-25 12-10 34-30 6-5 40-30 8-5 32-18 40-17 14-5 26-9 40-12 40-11 40-8z" fill="#39ffbe"/>
<path d="M11025 1481l40 0 26 1 14 1 0 39 0 40 0 40 0 40 0 40 0 40 0 40 0 40 0 40 0 40 0 40 0 40 0 40 0 40 0 40 0 40 0 40 0 40 0 40 0 40 0 40 0 40 0 40 0 40 0 40 0 40 0 40 0 40 0 40 0 40 0 40 0 40 0 40 0 40 0 40 0 40 0 40 0 40 0 40 0 40 0 40 0 40 0 40 0 40 0 40 0 40 0 40 0 40 0 40 0 40 0 40 0 40 0 40 0 40 0 40-40 0-40 0-40 0-40 0-40 0-40 0-40 0-40 0-40 0-40 0-40 0-40 0-40 0-40 0-40 0-40 0-40 0-40 0-40 0-40 0-40 0-40 0-40 0-40 0-40 0-40 0-40 0-40 0-40 0-40 0-40 0-40 0-40 0-40 0-40 0-40 0-40 0-40 0-40 0-40 0-40 0-40 0-40 0-40 0-40 0-40 0-40 0-40 0-40 0-40 0-40 0-40 0-40 0-40 0-40 0-40 0-40 0-40 0-40 0-40 0-40 0-40 0-40 0-40 0-40 0-40 0-40 0-40 0-40 0-40 0-40 0-40 0-40 0-40 0-40 0-40 0-40 0-40 0-40 0-40 0-40 0-40 0-40 0-40 0-40 0-40 0-40 0-40 0-40 0-40 0-40 0-40 0-40 0-40 0 0-40 0-40 0-40 0-40 0-40 0-40 0-40 0-40 0-40 0-40 0-40 0-40 0-40 0-40 0-40 0-40 0-40 0-40 0-40 0-40 0-40 0-40 0-40 0-40 0-40 0-21 40-3 40-4 40-5 40-7 1 0 39-7 40-7 40-5 40-5 40-3 40-3 40-2 40-2 40-1 40 1 40 0 40 2 40 3 40 3 40 3 40 4 40 5 40 4 40 5 40 4 5 1 35 3 40 4 40 2 40 1 40-2 26-8 14-6 40-33 1-1 27-40 12-27 6-13 9-40-2-40-11-40-2-5-15-35-17-40-8-26-5-14-8-40 1-40 8-40 4-12 11-28 16-40 13-39 0-1 13-40 10-40 8-40 9-40 23-40 17-16 40-22 13-2 27-4 40 2 13 2 27 5 40 9 40 7 40 3 40 0 40-4 40-9 40-11 40-9 40-8 40-6 40-6 40-2 40 0 40 2 40 2 40 0 40 5 40 9 40 6 40 3 40 2 40 2 40-1 40-5 40-8 40-8 40-5 40-6 27-7 13-3 40-15 38-22 2-1 40-32 8-7 32-29 12-11 28-25 18-15 22-17 37-23 3-1 40-19 40-15 16-5 24-7 40-11 40-8 40-6 40-4 40-2 40 1 40 3 40 2 40 3 40 1 40-1 40-4 40-2 40-2 32-3z" fill="#43ffb4"/>
<path d="M10465 1518l40-8 40-4 40-4 40 0 40 1 40 4 40 3 40 4 40 3 40 2 40 1 40-2 40-4 40-4 40-2 40 2 0 12 0 40 0 40 0 40 0 40 0 40 0 40 0 40 0 40 0 40 0 40 0 40 0 40 0 40 0 40 0 40 0 40 0 40 0 40 0 40 0 40 0 40 0 40 0 40 0 40 0 40 0 40 0 40 0 40 0 40 0 40 0 40 0 40 0 40 0 40 0 40 0 40 0 40 0 40 0 40 0 40 0 40 0 40 0 40 0 40 0 40 0 40 0 40 0 40 0 40 0 40 0 40 0 40 0 40 0 40-40 0-40 0-40 0-40 0-40 0-40 0-40 0-40 0-40 0-40 0-40 0-40 0-40 0-40 0-40 0-40 0-40 0-40 0-40 0-40 0-40 0-40 0-40 0-40 0-40 0-40 0-40 0-40 0-40 0-40 0-40 0-40 0-40 0-40 0-40 0-40 0-40 0-40 0-40 0-40 0-40 0-40 0-40 0-40 0-40 0-40 0-40 0-40 0-40 0-40 0-40 0-40 0-40 0-40 0-40 0-40 0-40 0-40 0-40 0-40 0-40 0-40 0-40 0-40 0-40 0-40 0-40 0-40 0-40 0-40 0-40 0-40 0-40 0-40 0-40 0-40 0-40 0-40 0-40 0-40 0-40 0-40 0-40 0-40 0-40 0-40 0-40 0-40 0-40 0-40 0-40 0-40 0-40 0-40 0 0-40 0-40 0-40 0-40 0-40 0-40 0-40 0-40 0-40 0-40 0-40 0-40 0-40 0-40 0-40 0-40 0-40 0-40 0-40 0-40 0-40 0-40 0-40 0-40 0-16 40-3 40-4 40-4 40-6 40-6 7-1 33-5 40-6 40-4 40-4 40-3 40-2 40-2 40-2 40-1 40 0 40 0 40 1 40 1 40 1 40 2 40 1 40 2 40 1 40 2 40 1 40 2 40 0 40 0 40-4 40-12 17-9 23-20 22-20 18-25 13-15 22-40 5-19 6-21-1-40-5-21-5-19-15-40-14-40-6-25-4-15-5-40 3-40 6-22 6-18 18-40 16-31 6-9 18-40 8-40 4-40 4-24 3-16 22-40 15-13 40-15 40-2 40 5 40 5 40 3 40 0 40-3 40-7 40-11 6-2 34-10 40-12 40-9 40-7 14-2 26-3 40-3 40 1 40 4 5 1 35 6 40 9 40 9 40 2 40 2 40 1 40 3 40 4 40 1 40-5 40-12 40-13 28-7 12-2 40-9 40-11 40-17 2-1 38-22 24-18 16-13 31-27 9-8 34-32 6-5 40-33 2-2 38-25 30-15 10-5 40-15 40-13 23-7z" fill="#4dffaa"/>
<path d="M10545 1521l40-2 40 0 40 2 7 1 33 4 40 6 40 5 40 6 40 6 40 6 40-2 40-5 40-5 40-3 40 0 0 22 0 40 0 40 0 40 0 40 0 40 0 40 0 40 0 40 0 40 0 40 0 40 0 40 0 40 0 40 0 40 0 40 0 40 0 40 0 40 0 40 0 40 0 40 0 40 0 40 0 40 0 40 0 40 0 40 0 40 0 40 0 40 0 40 0 40 0 40 0 40 0 40 0 40 0 40 0 40 0 40 0 40 0 40 0 40 0 40 0 40 0 40 0 40 0 40 0 40 0 40 0 40 0 40 0 40-40 0-40 0-40 0-40 0-40 0-40 0-40 0-40 0-40 0-40 0-40 0-40 0-40 0-40 0-40 0-40 0-40 0-40 0-40 0-40 0-40 0-40 0-40 0-40 0-40 0-40 0-40 0-40 0-40 0-40 0-40 0-40 0-40 0-40 0-40 0-40 0-40 0-40 0-40 0-40 0-40 0-40 0-40 0-40 0-40 0-40 0-40 0-40 0-40 0-40 0-40 0-40 0-40 0-40 0-40 0-40 0-40 0-40 0-40 0-40 0-40 0-40 0-40 0-40 0-40 0-40 0-40 0-40 0-40 0-40 0-40 0-40 0-40 0-40 0-40 0-40 0-40 0-40 0-40 0-40 0-40 0-40 0-40 0-40 0-40 0-40 0-40 0-40 0-40 0-40 0-40 0-40 0-40 0-40 0 0-40 0-40 0-40 0-40 0-40 0-40 0-40 0-40 0-40 0-40 0-40 0-40 0-40 0-40 0-40 0-40 0-40 0-40 0-40 0-40 0-40 0-40 0-40 0-12 40-3 40-4 40-4 40-5 40-6 36-6 4-1 40-6 40-5 40-4 40-3 40-3 40-2 40-3 40-2 40-1 40-1 40-1 40-1 40 0 40-1 40 0 40-1 40-1 40 0 40-1 40-1 40-1 31-1 9 0 40-6 40-12 40-22 40-36 4-4 33-40 3-5 23-35 13-40 0-40-10-40-13-40-12-40-1-9-6-31 0-40 6-33 1-7 18-40 21-31 8-9 32-37 3-3 23-40 8-40 6-37 1-3 39-39 5-1 35-4 40-4 40-3 40-5 40-7 40-9 24-8 16-4 40-15 40-14 20-7 20-6 40-8 40-6 40-1 40 3 40 8 32 10 8 3 40 17 40 8 40-3 40-1 40 1 40 5 40 8 21 2 19 3 11-3 29-5 40-16 39-19 1-1 40-14 40-12 34-13 6-2 40-17 36-21 4-3 40-29 9-8 31-28 13-12 27-25 17-15 23-20 28-20 12-8 40-21 26-11 14-5 40-14 40-11 40-7 27-3z" fill="#56ffa0"/>
<path d="M10425 1558l40-11 40-6 40-3 40-1 40 1 40 4 40 6 40 6 40 8 3 0 37 8 40 9 40 7 40 0 40-3 40-4 40-3 40-2 0 28 0 40 0 40 0 40 0 40 0 40 0 40 0 40 0 40 0 40 0 40 0 40 0 40 0 40 0 40 0 40 0 40 0 40 0 40 0 40 0 40 0 40 0 40 0 40 0 40 0 40 0 40 0 40 0 40 0 40 0 40 0 40 0 40 0 40 0 40 0 40 0 40 0 40 0 40 0 40 0 40 0 40 0 40 0 40 0 40 0 40 0 40 0 40 0 40 0 40 0 40 0 40 0 40-40 0-40 0-40 0-40 0-40 0-40 0-40 0-40 0-40 0-40 0-40 0-40 0-40 0-40 0-40 0-40 0-40 0-40 0-40 0-40 0-40 0-40 0-40 0-40 0-40 0-40 0-40 0-40 0-40 0-40 0-40 0-40 0-40 0-40 0-40 0-40 0-40 0-40 0-40 0-40 0-40 0-40 0-40 0-40 0-40 0-40 0-40 0-40 0-40 0-40 0-40 0-40 0-40 0-40 0-40 0-40 0-40 0-40 0-40 0-40 0-40 0-40 0-40 0-40 0-40 0-40 0-40 0-40 0-40 0-40 0-40 0-40 0-40 0-40 0-40 0-40 0-40 0-40 0-40 0-40 0-40 0-40 0-40 0-40 0-40 0-40 0-40 0-40 0-40 0-40 0-40 0-40 0-40 0-40 0 0-40 0-40 0-40 0-40 0-40 0-40 0-40 0-40 0-40 0-40 0-40 0-40 0-40 0-40 0-40 0-40 0-40 0-40 0-40 0-40 0-40 0-40 0-8 40-4 40-4 40-4 40-6 40-6 40-6 12-2 28-5 40-6 40-4 40-5 40-3 40-3 40-3 40-3 40-3 40-2 40-2 12-1 28-2 40-2 40-2 40-2 40-3 40-3 40-3 40-2 40-3 40-3 40-3 40-5 25-7 15-5 40-20 22-15 18-16 26-24 14-17 22-23 18-26 10-14 14-40 0-40-8-40-10-40-6-25-4-15-5-40 3-40 6-19 7-21 26-40 7-8 34-32 6-7 35-33 5-8 19-32 21-31 8-9 32-25 35-15 5-2 40-12 40-10 40-11 14-5 26-8 40-16 34-16 6-2 40-16 40-12 40-6 40 0 40 5 40 12 40 18 2 1 38 17 40 6 40-2 40-1 40 5 40 13 5 2 35 19 40 0 40-17 3-2 37-21 30-19 10-5 40-21 31-14 9-3 40-17 40-20 40-23 23-17 17-13 32-27 8-7 35-33 5-5 39-35 1-1 40-30 16-9 24-13 40-16 27-11z" fill="#63ff94"/>
<path d="M10465 1562l40-5 40-2 40 0 40 3 32 4 8 1 40 8 40 8 40 9 40 10 17 4 23 6 40 7 40 2 40-2 40-1 40-2 40-3 0 33 0 40 0 40 0 40 0 40 0 40 0 40 0 40 0 40 0 40 0 40 0 40 0 40 0 40 0 40 0 40 0 40 0 40 0 40 0 40 0 40 0 40 0 40 0 40 0 40 0 40 0 40 0 40 0 40 0 40 0 40 0 40 0 40 0 40 0 40 0 40 0 40 0 40 0 40 0 40 0 40 0 40 0 40 0 40 0 40 0 40 0 40 0 40 0 40 0 40 0 40 0 40-40 0-40 0-40 0-40 0-40 0-40 0-40 0-40 0-40 0-40 0-40 0-40 0-40 0-40 0-40 0-40 0-40 0-40 0-40 0-40 0-40 0-40 0-40 0-40 0-40 0-40 0-40 0-40 0-40 0-40 0-40 0-40 0-40 0-40 0-40 0-40 0-40 0-40 0-40 0-40 0-40 0-40 0-40 0-40 0-40 0-40 0-40 0-40 0-40 0-40 0-40 0-40 0-40 0-40 0-40 0-40 0-40 0-40 0-40 0-40 0-40 0-40 0-40 0-40 0-40 0-40 0-40 0-40 0-40 0-40 0-40 0-40 0-40 0-40 0-40 0-40 0-40 0-40 0-40 0-40 0-40 0-40 0-40 0-40 0-40 0-40 0-40 0-40 0-40 0-40 0-40 0-40 0-40 0-40 0 0-40 0-40 0-40 0-40 0-40 0-40 0-40 0-40 0-40 0-40 0-40 0-40 0-40 0-40 0-40 0-40 0-40 0-40 0-40 0-40 0-40 0-6 40-4 40-4 40-5 40-5 40-6 40-7 18-3 22-4 40-7 40-6 40-5 40-4 40-4 40-4 40-4 22-2 18-2 40-3 40-4 40-4 40-3 40-4 40-4 40-4 40-5 40-4 23-3 17-2 40-4 40-5 40-4 40-6 40-11 18-8 22-11 40-26 4-3 36-33 9-7 31-33 7-7 30-40 3-9 9-31 1-40-5-40-5-23-4-17-7-40-3-40 6-40 8-19 10-21 30-37 3-3 37-33 7-7 33-35 5-5 34-40 1-1 40-31 17-8 23-11 40-13 40-13 11-3 29-10 40-15 29-15 11-5 40-22 28-13 12-4 40-7 40 0 40 7 11 4 29 13 40 22 10 5 30 15 40 4 40-3 40 0 40 12 20 12 20 13 40 20 40-6 40-21 8-6 32-22 24-18 16-10 40-26 6-4 34-18 40-20 3-2 37-19 34-21 6-4 40-29 9-7 31-27 14-13 26-24 17-16 23-21 23-19 17-13 40-24 8-3 32-13 40-14 39-13z" fill="#6dff8a"/>
<path d="M10425 1593l40-12 40-5 40-1 40 2 40 4 40 7 40 8 25 6 15 4 40 10 40 10 40 9 34 7 6 1 40 3 40 0 40 0 40 0 40-2 0 38 0 40 0 40 0 40 0 40 0 40 0 40 0 40 0 40 0 40 0 40 0 40 0 40 0 40 0 40 0 40 0 40 0 40 0 40 0 40 0 40 0 40 0 40 0 40 0 40 0 40 0 40 0 40 0 40 0 40 0 40 0 40 0 40 0 40 0 40 0 40 0 40 0 40 0 40 0 40 0 40 0 40 0 40 0 40 0 40 0 40 0 40 0 40 0 40 0 40 0 40-40 0-40 0-40 0-40 0-40 0-40 0-40 0-40 0-40 0-40 0-40 0-40 0-40 0-40 0-40 0-40 0-40 0-40 0-40 0-40 0-40 0-40 0-40 0-40 0-40 0-40 0-40 0-40 0-40 0-40 0-40 0-40 0-40 0-40 0-40 0-40 0-40 0-40 0-40 0-40 0-40 0-40 0-40 0-40 0-40 0-40 0-40 0-40 0-40 0-40 0-40 0-40 0-40 0-40 0-40 0-40 0-40 0-40 0-40 0-40 0-40 0-40 0-40 0-40 0-40 0-40 0-40 0-40 0-40 0-40 0-40 0-40 0-40 0-40 0-40 0-40 0-40 0-40 0-40 0-40 0-40 0-40 0-40 0-40 0-40 0-40 0-40 0-40 0-40 0-40 0-40 0-40 0-40 0-40 0 0-40 0-40 0-40 0-40 0-40 0-40 0-40 0-40 0-40 0-40 0-40 0-40 0-40 0-40 0-40 0-40 0-40 0-40 0-40 0-40 0-4 40-5 40-4 40-5 40-6 40-6 40-6 19-4 21-4 40-7 40-7 40-7 40-5 40-5 39-5 1 0 40-5 40-5 40-5 40-4 40-5 40-5 40-5 40-6 1 0 39-6 40-6 40-7 40-6 40-6 40-6 23-3 17-2 40-7 40-11 40-17 6-3 34-21 26-19 14-12 32-28 8-9 32-31 8-11 20-29 13-40 2-40-4-40-7-40-5-40 0-40 8-40 13-24 9-16 31-35 5-5 35-33 7-7 33-34 8-6 32-27 22-13 18-10 40-16 40-12 7-2 33-10 40-14 36-16 4-2 40-27 15-11 25-13 40-11 40-1 40 10 29 15 11 8 40 32 1 0 39 22 40 0 40-7 40 0 40 18 10 7 30 16 40 10 40-5 40-18 5-3 35-25 19-15 21-16 31-24 9-6 40-26 12-8 28-15 40-24 2-1 38-24 22-16 18-13 33-27 7-6 36-34 4-3 39-37 1-1 40-33 8-6 32-19 40-17 13-4z" fill="#77ff80"/>
<path d="M10465 1600l40-3 40 0 40 3 17 2 23 4 40 9 40 10 40 10 28 7 12 3 40 10 40 8 40 6 40 3 40 2 40 2 40 2 40 0 0 4 0 40 0 40 0 40 0 40 0 40 0 40 0 40 0 40 0 40 0 40 0 40 0 40 0 40 0 40 0 40 0 40 0 40 0 40 0 40 0 40 0 40 0 40 0 40 0 40 0 40 0 40 0 40 0 40 0 40 0 40 0 40 0 40 0 40 0 40 0 40 0 40 0 40 0 40 0 40 0 40 0 40 0 40 0 40 0 40 0 40 0 40 0 40 0 40 0 40 0 40-40 0-40 0-40 0-40 0-40 0-40 0-40 0-40 0-40 0-40 0-40 0-40 0-40 0-40 0-40 0-40 0-40 0-40 0-40 0-40 0-40 0-40 0-40 0-40 0-40 0-40 0-40 0-40 0-40 0-40 0-40 0-40 0-40 0-40 0-40 0-40 0-40 0-40 0-40 0-40 0-40 0-40 0-40 0-40 0-40 0-40 0-40 0-40 0-40 0-40 0-40 0-40 0-40 0-40 0-40 0-40 0-40 0-40 0-40 0-40 0-40 0-40 0-40 0-40 0-40 0-40 0-40 0-40 0-40 0-40 0-40 0-40 0-40 0-40 0-40 0-40 0-40 0-40 0-40 0-40 0-40 0-40 0-40 0-40 0-40 0-40 0-40 0-40 0-40 0-40 0-40 0-40 0-40 0-40 0 0-40 0-40 0-40 0-40 0-40 0-40 0-40 0-40 0-40 0-40 0-40 0-40 0-40 0-40 0-40 0-40 0-40 0-40 0-40 0-2 40-5 40-6 40-5 40-6 40-6 40-7 16-3 24-5 40-8 40-8 40-7 40-7 35-5 5-1 40-6 40-5 40-6 40-6 40-6 40-6 21-4 19-3 40-7 40-7 40-7 40-8 39-8 1 0 40-8 40-8 40-7 40-7 40-7 11-3 29-7 40-16 33-17 7-4 40-29 9-7 31-27 15-13 25-24 16-16 24-35 3-5 13-40 3-40-2-40-5-40-4-40 1-40 11-40 20-34 4-6 36-40 40-37 4-3 36-30 18-10 22-13 40-16 38-11 2-1 40-10 40-10 40-15 8-4 32-19 22-21 18-14 40-21 40-3 40 17 27 21 13 21 15 19 21 40 4 3 40 2 18-5 22-6 40-11 40 0 40 15 5 2 35 11 40 5 40-6 27-10 13-6 40-25 11-9 29-23 20-17 20-16 32-24 8-5 40-27 12-8 28-17 34-23 6-4 40-29 9-7 31-26 16-14 24-22 19-18 21-20 23-20 17-14 37-26 3-2 40-15 40-11 33-12z" fill="#80ff77"/>
<path d="M10425 1638l40-7 40-8 40 0 40 4 40 7 33 8 7 2 40 12 40 11 40 9 31 6 9 2 40 6 40 5 40 4 40 4 40 4 40 4 40 3 0 8 0 40 0 40 0 40 0 40 0 40 0 40 0 40 0 40 0 40 0 40 0 40 0 40 0 40 0 40 0 40 0 40 0 40 0 40 0 40 0 40 0 40 0 40 0 40 0 40 0 40 0 40 0 40 0 40 0 40 0 40 0 40 0 40 0 40 0 40 0 40 0 40 0 40 0 40 0 40 0 40 0 40 0 40 0 40 0 40 0 40 0 40 0 40 0 40 0 40-40 0-40 0-40 0-40 0-40 0-40 0-40 0-40 0-40 0-40 0-40 0-40 0-40 0-40 0-40 0-40 0-40 0-40 0-40 0-40 0-40 0-40 0-40 0-40 0-40 0-40 0-40 0-40 0-40 0-40 0-40 0-40 0-40 0-40 0-40 0-40 0-40 0-40 0-40 0-40 0-40 0-40 0-40 0-40 0-40 0-40 0-40 0-40 0-40 0-40 0-40 0-40 0-40 0-40 0-40 0-40 0-40 0-40 0-40 0-40 0-40 0-40 0-40 0-40 0-40 0-40 0-40 0-40 0-40 0-40 0-40 0-40 0-40 0-40 0-40 0-40 0-40 0-40 0-40 0-40 0-40 0-40 0-40 0-40 0-40 0-40 0-40 0-40 0-40 0-40 0-40 0-40 0-40 0-40 0 0-40 0-40 0-40 0-40 0-40 0-40 0-40 0-40 0-40 0-40 0-40 0-40 0-40 0-40 0-40 0-40 0-40 0-40 0-1 40-6 40-5 40-6 40-6 40-7 40-7 11-2 29-6 40-8 40-9 40-9 40-7 4-1 36-7 40-6 40-7 40-7 40-7 33-6 7-1 40-8 40-7 40-8 40-9 30-7 10-2 40-10 40-10 40-10 34-8 6-1 40-9 40-7 40-8 40-10 15-5 25-9 40-20 18-11 22-16 32-24 8-7 40-33 40-40 26-40 13-40 1-10 3-30-1-40-2-22-2-18-2-40 2-40 2-6 10-34 25-40 5-6 34-34 6-5 40-31 7-4 33-20 40-15 20-5 20-5 40-8 40-6 40-8 37-13 3-1 40-34 4-5 36-38 6-2 34-5 11 5 29 31 5 9 7 40 17 40 11 8 40 10 40-4 40-10 17-4 23-6 40-3 40 6 21 3 19 3 40 1 26-4 14-2 40-15 40-23 40-31 10-9 30-25 18-15 22-17 30-23 10-7 40-28 7-5 33-22 23-18 17-12 34-28 6-5 39-35 1-1 40-37 2-2 38-33 9-7 31-21 40-17 13-2z" fill="#8aff6d"/>
<path d="M10345 1681l40-16 40-6 40-2 40-6 40-1 40 6 40 10 40 11 16 5 24 8 40 11 40 8 40 6 40 3 40 3 6 1 34 5 40 7 40 6 40 7 40 6 0 9 0 40 0 40 0 40 0 40 0 40 0 40 0 40 0 40 0 40 0 40 0 40 0 40 0 40 0 40 0 40 0 40 0 40 0 40 0 40 0 40 0 40 0 40 0 40 0 40 0 40 0 40 0 40 0 40 0 40 0 40 0 40 0 40 0 40 0 40 0 40 0 40 0 40 0 40 0 40 0 40 0 40 0 40 0 40 0 40 0 40 0 40 0 40 0 40-40 0-40 0-40 0-40 0-40 0-40 0-40 0-40 0-40 0-40 0-40 0-40 0-40 0-40 0-40 0-40 0-40 0-40 0-40 0-40 0-40 0-40 0-40 0-40 0-40 0-40 0-40 0-40 0-40 0-40 0-40 0-40 0-40 0-40 0-40 0-40 0-40 0-40 0-40 0-40 0-40 0-40 0-40 0-40 0-40 0-40 0-40 0-40 0-40 0-40 0-40 0-40 0-40 0-40 0-40 0-40 0-40 0-40 0-40 0-40 0-40 0-40 0-40 0-40 0-40 0-40 0-40 0-40 0-40 0-40 0-40 0-40 0-40 0-40 0-40 0-40 0-40 0-40 0-40 0-40 0-40 0-40 0-40 0-40 0-40 0-40 0-40 0-40 0-40 0-40 0-40 0-40 0-40 0-40 0 0-40 0-40 0-40 0-40 0-40 0-40 0-40 0-40 0-40 0-40 0-40 0-40 0-40 0-40 0-40 0-40 0-39 4-1 36-6 40-6 40-7 40-6 40-7 40-7 3-1 37-7 40-9 40-10 40-9 22-5 18-4 40-8 40-8 40-8 40-8 22-4 18-4 40-8 40-8 40-10 40-9 3-1 37-9 40-11 40-11 29-9 11-3 40-11 40-12 40-10 16-4 24-5 40-8 40-9 40-13 12-5 28-13 40-25 3-2 37-28 16-12 24-20 26-20 14-14 24-26 16-25 9-15 14-40 5-40-1-40-2-40-2-40 3-40 13-40 1-2 26-38 14-14 32-26 8-6 40-22 32-12 8-3 40-9 40-4 40-2 40 0 40 0 40 0 40 8 13 10 27 10 40 8 40 2 40-2 40-7 40-8 13-3 27-6 40-4 40 0 40 2 40-1 40-7 40-13 20-11 20-11 39-29 1-1 40-34 6-5 34-29 13-11 27-21 24-19 16-11 39-29 1-1 40-30 11-9 29-23 19-17 21-18 24-22 16-15 28-25 12-11 39-29z" fill="#97ff60"/>
<path d="M10425 1681l40-2 40-3 40 2 19 4 21 5 40 13 40 15 20 7 20 7 40 11 40 6 40 3 40 2 40 1 40 6 18 4 22 6 40 11 40 9 40 9 0 5 0 40 0 40 0 40 0 40 0 40 0 40 0 40 0 40 0 40 0 40 0 40 0 40 0 40 0 40 0 40 0 40 0 40 0 40 0 40 0 40 0 40 0 40 0 40 0 40 0 40 0 40 0 40 0 40 0 40 0 40 0 40 0 40 0 40 0 40 0 40 0 40 0 40 0 40 0 40 0 40 0 40 0 40 0 40 0 40 0 40 0 40 0 40-40 0-40 0-40 0-40 0-40 0-40 0-40 0-40 0-40 0-40 0-40 0-40 0-40 0-40 0-40 0-40 0-40 0-40 0-40 0-40 0-40 0-40 0-40 0-40 0-40 0-40 0-40 0-40 0-40 0-40 0-40 0-40 0-40 0-40 0-40 0-40 0-40 0-40 0-40 0-40 0-40 0-40 0-40 0-40 0-40 0-40 0-40 0-40 0-40 0-40 0-40 0-40 0-40 0-40 0-40 0-40 0-40 0-40 0-40 0-40 0-40 0-40 0-40 0-40 0-40 0-40 0-40 0-40 0-40 0-40 0-40 0-40 0-40 0-40 0-40 0-40 0-40 0-40 0-40 0-40 0-40 0-40 0-40 0-40 0-40 0-40 0-40 0-40 0-40 0-40 0-40 0-40 0-40 0-40 0 0-40 0-40 0-40 0-40 0-40 0-40 0-40 0-40 0-40 0-40 0-40 0-40 0-40 0-40 0-40 0-38 11-2 29-5 40-7 40-7 40-7 40-8 34-6 6-1 40-8 40-9 40-10 40-10 6-2 34-8 40-10 40-9 40-8 21-5 19-4 40-9 40-9 40-10 31-8 9-2 40-11 40-11 40-13 9-3 31-10 40-13 40-14 8-3 32-10 40-12 40-10 36-8 4-1 40-8 40-11 40-17 5-3 35-20 28-20 12-9 40-31 1 0 39-30 12-10 28-29 10-11 24-40 6-19 8-21 6-40 0-40-2-40-1-40 3-40 14-40 12-17 22-23 18-15 40-23 5-2 35-12 40-7 40-2 40 3 40 7 40 10 4 1 36 10 40 11 40 5 40-2 40-5 40-7 40-8 19-4 21-5 40-8 40-5 40-1 40-1 40-2 40-7 33-11 7-2 40-21 25-17 15-11 35-29 5-5 40-35 40-34 7-6 33-26 17-14 23-17 29-23 11-9 38-31 2-1 40-35 5-4 35-32 10-8 30-27 18-13 22-16 40-19 30-5z" fill="#a0ff56"/>
<path d="M10385 1711l40-8 40-2 40 1 40 7 40 12 3 1 37 18 40 20 7 2 33 13 40 9 40 4 40 2 40 0 40 2 40 7 9 3 31 11 40 14 40 13 7 2 33 11 0 29 0 40 0 40 0 40 0 40 0 40 0 40 0 40 0 40 0 40 0 40 0 40 0 40 0 40 0 40 0 40 0 40 0 40 0 40 0 40 0 40 0 40 0 40 0 40 0 40 0 40 0 40 0 40 0 40 0 40 0 40 0 40 0 40 0 40 0 40 0 40 0 40 0 40 0 40 0 40 0 40 0 40 0 40 0 40 0 40 0 40-40 0-40 0-40 0-40 0-40 0-40 0-40 0-40 0-40 0-40 0-40 0-40 0-40 0-40 0-40 0-40 0-40 0-40 0-40 0-40 0-40 0-40 0-40 0-40 0-40 0-40 0-40 0-40 0-40 0-40 0-40 0-40 0-40 0-40 0-40 0-40 0-40 0-40 0-40 0-40 0-40 0-40 0-40 0-40 0-40 0-40 0-40 0-40 0-40 0-40 0-40 0-40 0-40 0-40 0-40 0-40 0-40 0-40 0-40 0-40 0-40 0-40 0-40 0-40 0-40 0-40 0-40 0-40 0-40 0-40 0-40 0-40 0-40 0-40 0-40 0-40 0-40 0-40 0-40 0-40 0-40 0-40 0-40 0-40 0-40 0-40 0-40 0-40 0-40 0-40 0-40 0-40 0-40 0-40 0 0-40 0-40 0-40 0-40 0-40 0-40 0-40 0-40 0-40 0-40 0-40 0-40 0-40 0-40 0-37 17-3 23-5 40-7 40-8 40-8 40-7 24-5 16-3 40-9 40-9 40-10 34-9 6-2 40-10 40-11 40-10 30-7 10-2 40-10 40-10 40-10 30-8 10-2 40-12 40-12 40-13 2-1 38-13 40-14 31-13 9-3 40-15 40-15 17-7 23-7 40-12 40-8 40-9 17-4 23-6 40-15 36-19 4-2 40-28 14-10 26-20 30-20 10-8 40-32 36-40 4-7 20-33 14-40 6-38 0-2 2-40-2-40 0-8 0-32 0-5 4-35 18-40 18-19 29-21 11-6 40-15 40-6 40 2 40 7 40 12 17 6 23 8 40 12 40 6 40 0 40-6 40-8 40-9 12-3 28-7 40-9 40-7 40-5 40-3 40-2 40-3 23-4 17-3 40-12 40-20 8-5 32-21 23-19 17-14 28-26 12-10 33-30 7-6 39-34 1-1 40-32 8-7 32-25 18-15 22-18 26-22 14-12 32-28 8-7 38-33 2-2 40-29 16-9z" fill="#aaff4d"/>
<path d="M10345 1757l40-20 40-11 40-2 40 5 40 12 40 19 4 2 36 24 27 16 13 8 40 15 40 9 40 4 40 2 40 2 3 0 37 5 40 12 40 17 13 6 27 15 40 19 19 6 21 8 0 32 0 40 0 40 0 40 0 40 0 40 0 40 0 40 0 40 0 40 0 40 0 40 0 40 0 40 0 40 0 40 0 40 0 40 0 40 0 40 0 40 0 40 0 40 0 40 0 40 0 40 0 40 0 40 0 40 0 40 0 40 0 40 0 40 0 40 0 40 0 40 0 40 0 40 0 40 0 40 0 40 0 40 0 40 0 40-40 0-40 0-40 0-40 0-40 0-40 0-40 0-40 0-40 0-40 0-40 0-40 0-40 0-40 0-40 0-40 0-40 0-40 0-40 0-40 0-40 0-40 0-40 0-40 0-40 0-40 0-40 0-40 0-40 0-40 0-40 0-40 0-40 0-40 0-40 0-40 0-40 0-40 0-40 0-40 0-40 0-40 0-40 0-40 0-40 0-40 0-40 0-40 0-40 0-40 0-40 0-40 0-40 0-40 0-40 0-40 0-40 0-40 0-40 0-40 0-40 0-40 0-40 0-40 0-40 0-40 0-40 0-40 0-40 0-40 0-40 0-40 0-40 0-40 0-40 0-40 0-40 0-40 0-40 0-40 0-40 0-40 0-40 0-40 0-40 0-40 0-40 0-40 0-40 0-40 0-40 0-40 0-40 0-40 0 0-40 0-40 0-40 0-40 0-40 0-40 0-40 0-40 0-40 0-40 0-40 0-40 0-40 0-35 22-5 18-4 40-8 40-8 40-9 40-8 16-3 24-5 40-9 40-9 40-10 24-7 16-4 40-12 40-11 40-11 6-2 34-9 40-10 40-11 37-10 3-1 40-11 40-12 40-14 6-2 34-12 40-15 29-13 11-4 40-17 40-18 2-1 38-16 40-16 22-8 18-5 40-9 40-7 40-9 28-10 12-4 40-19 27-17 13-9 40-31 40-25 21-15 19-14 30-26 10-11 25-29 15-26 9-14 15-40 8-40 2-40-1-40 1-40 6-38 0-2 29-40 11-8 40-18 40-6 40 5 40 12 38 15 2 1 40 15 40 9 40 1 40-4 40-9 40-10 9-3 31-9 40-10 40-9 40-7 40-5 1 0 39-3 40-3 40-4 40-6 40-12 26-12 14-6 40-26 10-8 30-24 18-16 22-20 22-20 18-17 25-23 15-13 31-27 9-7 38-33 2-1 40-33 7-6 33-28 15-12 25-22 22-18 18-15 34-25z" fill="#b4ff43"/>
<path d="M10425 1753l40-2 40 9 6 2 34 17 35 23 5 4 40 30 9 6 31 20 40 17 11 3 29 10 40 9 40 7 40 9 18 5 22 8 40 24 12 8 28 18 39 22 1 0 40 15 40 7 0 18 0 40 0 40 0 40 0 40 0 40 0 40 0 40 0 40 0 40 0 40 0 40 0 40 0 40 0 40 0 40 0 40 0 40 0 40 0 40 0 40 0 40 0 40 0 40 0 40 0 40 0 40 0 40 0 40 0 40 0 40 0 40 0 40 0 40 0 40 0 40 0 40 0 40 0 40 0 40 0 40 0 40-40 0-40 0-40 0-40 0-40 0-40 0-40 0-40 0-40 0-40 0-40 0-40 0-40 0-40 0-40 0-40 0-40 0-40 0-40 0-40 0-40 0-40 0-40 0-40 0-40 0-40 0-40 0-40 0-40 0-40 0-40 0-40 0-40 0-40 0-40 0-40 0-40 0-40 0-40 0-40 0-40 0-40 0-40 0-40 0-40 0-40 0-40 0-40 0-40 0-40 0-40 0-40 0-40 0-40 0-40 0-40 0-40 0-40 0-40 0-40 0-40 0-40 0-40 0-40 0-40 0-40 0-40 0-40 0-40 0-40 0-40 0-40 0-40 0-40 0-40 0-40 0-40 0-40 0-40 0-40 0-40 0-40 0-40 0-40 0-40 0-40 0-40 0-40 0-40 0-40 0-40 0-40 0-40 0-40 0 0-40 0-40 0-40 0-40 0-40 0-40 0-40 0-40 0-40 0-40 0-40 0-40 0-34 28-6 12-3 40-9 40-9 40-8 40-9 8-2 32-7 40-9 40-9 40-11 15-4 25-7 40-12 40-12 28-9 12-3 40-12 40-11 40-12 8-2 32-9 40-12 40-13 16-6 24-8 40-15 39-17 1-1 40-17 40-20 3-2 37-17 40-20 5-3 35-14 40-16 36-10 4-1 40-6 40-7 40-12 32-14 8-4 40-23 18-13 22-16 35-24 5-3 40-26 15-11 25-21 21-19 19-22 16-18 24-40 18-40 10-40 5-40 1-40 3-40 3-9 16-31 24-19 40-10 40 8 40 17 10 4 30 16 40 13 40 2 40-4 40-9 40-12 16-6 24-8 40-13 40-11 35-8 5-1 40-7 40-5 40-4 40-2 40-4 40-6 39-11 1 0 40-17 37-23 3-2 40-31 8-7 32-28 12-12 28-26 15-14 25-23 18-17 22-19 23-21 17-15 29-25 11-9 37-31 3-2 40-33 7-5 33-27 19-13 21-15 40-22 9-3z" fill="#beff39"/>
<path d="M10385 1798l40-11 40-1 40 14 4 2 36 25 20 15 20 18 28 22 12 10 40 27 6 3 34 19 40 17 12 4 28 11 40 18 21 11 19 11 40 27 3 2 37 18 40 17 14 5 26 9 40 10 40 6 0 15 0 40 0 40 0 40 0 40 0 40 0 40 0 40 0 40 0 40 0 40 0 40 0 40 0 40 0 40 0 40 0 40 0 40 0 40 0 40 0 40 0 40 0 40 0 40 0 40 0 40 0 40 0 40 0 40 0 40 0 40 0 40 0 40 0 40 0 40 0 40 0 40 0 40 0 40 0 40-40 0-40 0-40 0-40 0-40 0-40 0-40 0-40 0-40 0-40 0-40 0-40 0-40 0-40 0-40 0-40 0-40 0-40 0-40 0-40 0-40 0-40 0-40 0-40 0-40 0-40 0-40 0-40 0-40 0-40 0-40 0-40 0-40 0-40 0-40 0-40 0-40 0-40 0-40 0-40 0-40 0-40 0-40 0-40 0-40 0-40 0-40 0-40 0-40 0-40 0-40 0-40 0-40 0-40 0-40 0-40 0-40 0-40 0-40 0-40 0-40 0-40 0-40 0-40 0-40 0-40 0-40 0-40 0-40 0-40 0-40 0-40 0-40 0-40 0-40 0-40 0-40 0-40 0-40 0-40 0-40 0-40 0-40 0-40 0-40 0-40 0-40 0-40 0-40 0-40 0-40 0-40 0-40 0-40 0 0-40 0-40 0-40 0-40 0-40 0-40 0-40 0-40 0-40 0-40 0-40 0-32 34-8 6-1 40-10 40-10 40-9 40-9 3-1 37-8 40-10 40-10 40-10 6-2 34-10 40-12 40-13 16-5 24-8 40-12 40-13 24-7 16-5 40-12 40-12 32-11 8-3 40-14 40-16 15-7 25-11 40-20 16-9 24-12 40-22 9-6 31-16 40-20 7-4 33-13 40-11 40-6 40-8 9-2 31-7 40-15 32-18 8-4 40-27 13-9 27-18 35-22 5-3 40-29 11-8 29-26 15-14 25-29 10-11 28-40 2-5 21-35 16-40 3-11 12-29 15-40 13-21 40-2 40 14 26 9 14 4 40 3 40-6 3-1 37-10 40-14 38-16 2-1 40-16 40-16 22-7 18-6 40-9 40-7 40-5 40-3 40-3 40-3 26-4 14-2 40-9 40-16 23-13 17-10 39-30 1-1 40-35 4-4 36-34 7-6 33-32 9-8 31-29 11-11 29-26 15-14 25-21 22-19 18-15 32-25 8-6 40-31 5-3 35-23 32-17z" fill="#caff2c"/>
<path d="M10385 1837l40-8 40 4 19 9 21 12 36 28 4 3 40 36 1 1 39 33 10 7 30 22 32 18 8 5 40 20 30 15 10 5 40 23 21 12 19 11 40 22 13 7 27 18 36 22 4 9 40 20 40 3 30 8 10 5 0 35 0 40 0 40 0 40 0 40 0 40 0 40 0 40 0 40 0 40 0 40 0 40 0 40 0 40 0 40 0 40 0 40 0 40 0 40 0 40 0 40 0 40 0 40 0 40 0 40 0 40 0 40 0 40 0 40 0 40 0 40 0 40 0 40 0 40 0 40 0 40 0 40-40 0-40 0-40 0-40 0-40 0-40 0-40 0-40 0-40 0-40 0-40 0-40 0-40 0-40 0-40 0-40 0-40 0-40 0-40 0-40 0-40 0-40 0-40 0-40 0-40 0-40 0-40 0-40 0-40 0-40 0-40 0-40 0-40 0-40 0-40 0-40 0-40 0-40 0-40 0-40 0-40 0-40 0-40 0-40 0-40 0-40 0-40 0-40 0-40 0-40 0-40 0-40 0-40 0-40 0-40 0-40 0-40 0-40 0-40 0-40 0-40 0-40 0-40 0-40 0-40 0-40 0-40 0-40 0-40 0-40 0-40 0-40 0-40 0-40 0-40 0-40 0-40 0-40 0-40 0-40 0-40 0-40 0-40 0-40 0-40 0-40 0-40 0-40 0-40 0-40 0-40 0-40 0-40 0-40 0 0-40 0-40 0-40 0-40 0-40 0-40 0-40 0-40 0-40 0-40 0-29 40-11 1 0 39-10 40-10 40-10 39-10 1 0 40-10 40-10 40-10 39-10 1 0 40-12 40-12 40-13 7-3 33-11 40-14 40-13 6-2 34-11 40-13 40-13 9-3 31-10 40-15 37-15 3-1 40-18 39-21 1 0 40-23 26-17 14-8 40-24 12-8 28-14 40-21 14-5 26-7 40-6 40-5 40-9 39-13 1 0 40-19 33-21 7-4 40-27 14-9 26-16 36-24 4-3 40-30 8-7 32-29 12-11 28-30 11-10 29-34 8-6 32-35 8-5 32-26 39-14 1 0 40-8 40-7 40-11 35-14 5-2 40-19 32-19 8-4 40-21 30-15 10-4 40-15 40-10 40-7 33-4 7-1 40-2 40-3 40-2 40-5 40-8 40-14 9-5 31-17 32-23 8-6 38-34 2-1 40-39 1 0 39-38 2-2 38-36 4-4 36-34 6-6 34-31 10-9 30-25 20-15 20-16 35-24 5-4 40-23 29-13zM10974 2242l-29 26-6 14 6 15 40 23 40-31 5-7-5-20-12-20-28-14z" fill="#d4ff23"/>
<path d="M10425 1881l4 1 36 12 40 26 3 2 37 31 10 9 30 27 16 13 24 20 30 20 10 7 40 24 16 9 24 15 40 25 1 0 39 29 17 11 23 26 12 14-4 40-7 40 3 40 19 40 17 18 37 22 3 2 40 11 40 5 40 0 40-8 0 30 0 40 0 40 0 40 0 40 0 40 0 40 0 40 0 40 0 40 0 40 0 40 0 40 0 40 0 40 0 40 0 40 0 40 0 40 0 40 0 40 0 40 0 40 0 40 0 40 0 40 0 40 0 40 0 40 0 40 0 40 0 40-40 0-40 0-40 0-40 0-40 0-40 0-40 0-40 0-40 0-40 0-40 0-40 0-40 0-40 0-40 0-40 0-40 0-40 0-40 0-40 0-40 0-40 0-40 0-40 0-40 0-40 0-40 0-40 0-40 0-40 0-40 0-40 0-40 0-40 0-40 0-40 0-40 0-40 0-40 0-40 0-40 0-40 0-40 0-40 0-40 0-40 0-40 0-40 0-40 0-40 0-40 0-40 0-40 0-40 0-40 0-40 0-40 0-40 0-40 0-40 0-40 0-40 0-40 0-40 0-40 0-40 0-40 0-40 0-40 0-40 0-40 0-40 0-40 0-40 0-40 0-40 0-40 0-40 0-40 0-40 0-40 0-40 0-40 0-40 0-40 0-40 0-40 0-40 0-40 0-40 0-40 0-40 0-40 0-40 0 0-40 0-40 0-40 0-40 0-40 0-40 0-40 0-40 0-40 0-26 40-12 9-2 31-9 40-11 40-10 38-10 2-1 40-10 40-10 40-10 32-9 8-2 40-12 40-12 40-14 1 0 39-14 40-14 32-12 8-3 40-13 40-14 29-10 11-4 40-13 40-14 22-9 18-7 40-18 27-15 13-7 40-24 14-9 26-17 31-23 9-5 40-25 17-10 23-11 40-15 40-7 40-6 8-1 32-5 40-10 40-16 15-9 25-14 39-26 1-1 40-25 21-14 19-12 38-28 2-1 40-32 8-7 32-28 16-12 24-22 26-18 14-12 40-22 16-6 24-11 40-14 40-13 7-2 33-11 40-17 21-12 19-11 40-29 40-28 16-12 24-13 40-18 32-9 8-2 40-7 40-4 40-2 40-2 40-2 40-5 40-7 33-9 7-2 40-19 27-19 13-9 36-31 4-4 38-36 2-2 39-38 1-1 40-38 1-1 39-38 2-2 38-37 3-3 37-33 9-7 31-23 28-17 12-8 40-19 40-13 3 0z" fill="#deff19"/>
<path d="M10305 1954l40-14 40-6 40 7 40 20 1 1 39 29 13 11 27 24 19 16 21 18 29 22 11 9 40 27 6 4 34 27 17 13 23 27 12 13 17 40 6 40 2 40 3 22 2 18 9 40 17 40 12 22 16 18 24 25 25 15 15 11 40 21 20 8 20 6 40 5 40-3 40-6 0 38 0 40 0 40 0 40 0 40 0 40 0 40 0 40 0 40 0 40 0 40 0 40 0 40 0 40 0 40 0 40 0 40 0 40 0 40 0 40 0 40 0 40 0 40 0 40 0 40 0 40 0 40 0 40-40 0-40 0-40 0-40 0-40 0-40 0-40 0-40 0-40 0-40 0-40 0-40 0-40 0-40 0-40 0-40 0-40 0-40 0-40 0-40 0-40 0-40 0-40 0-40 0-40 0-40 0-40 0-40 0-40 0-40 0-40 0-40 0-40 0-40 0-40 0-40 0-40 0-40 0-40 0-40 0-40 0-40 0-40 0-40 0-40 0-40 0-40 0-40 0-40 0-40 0-40 0-40 0-40 0-40 0-40 0-40 0-40 0-40 0-40 0-40 0-40 0-40 0-40 0-40 0-40 0-40 0-40 0-40 0-40 0-40 0-40 0-40 0-40 0-40 0-40 0-40 0-40 0-40 0-40 0-40 0-40 0-40 0-40 0-40 0-40 0-40 0-40 0-40 0-40 0-40 0-40 0-40 0-40 0-40 0 0-40 0-40 0-40 0-40 0-40 0-40 0-40 0-40 0-22 40-13 18-5 22-7 40-11 40-12 38-10 2-1 40-10 40-11 40-10 27-8 13-3 40-12 40-12 37-13 3-1 40-14 40-16 24-9 16-6 40-15 40-15 12-4 28-10 40-13 40-14 8-3 32-12 40-17 20-11 20-10 40-25 7-5 33-22 25-18 15-11 38-29 2-1 40-23 35-16 5-2 40-8 40-5 40-5 40-7 38-13 2-1 40-20 30-19 10-6 40-27 10-7 30-19 29-21 11-8 40-30 3-2 37-29 15-11 25-19 33-21 7-5 40-20 40-14 4-1 36-14 40-13 40-11 8-2 32-11 40-19 13-10 27-22 16-18 24-22 18-18 22-16 39-24 1-1 40-11 40-8 40-3 40-2 40-1 40-2 40-4 40-7 5-1 35-8 40-16 27-16 13-8 39-32 1-1 40-39 40-40 40-38 3-2 37-36 5-4 35-36 4-4 36-35 6-5 34-25 26-15z" fill="#e7ff0f"/>
<path d="M10305 2001l40-9 40 2 23 8 17 7 40 29 5 4 35 31 11 9 29 30 12 10 28 29 13 11 27 28 13 12 20 40 1 40-10 40-16 40-8 19-16 21-22 40-2 4-19 36-17 40-4 10-11 30-9 40 6 40 14 15 40 25 1 0 39 8 40 6 40 6 40 6 40 7 40 7 1 0 39 5 40 5 40 1 40-4 35-7 5-1 40-13 40-13 0 27 0 40 0 40 0 40 0 40 0 40 0 40 0 40 0 40 0 40 0 40 0 40 0 40 0 40 0 40 0 40 0 40 0 40 0 40 0 40 0 40 0 40 0 40 0 40 0 40-40 0-40 0-40 0-40 0-40 0-40 0-40 0-40 0-40 0-40 0-40 0-40 0-40 0-40 0-40 0-40 0-40 0-40 0-40 0-40 0-40 0-40 0-40 0-40 0-40 0-40 0-40 0-40 0-40 0-40 0-40 0-40 0-40 0-40 0-40 0-40 0-40 0-40 0-40 0-40 0-40 0-40 0-40 0-40 0-40 0-40 0-40 0-40 0-40 0-40 0-40 0-40 0-40 0-40 0-40 0-40 0-40 0-40 0-40 0-40 0-40 0-40 0-40 0-40 0-40 0-40 0-40 0-40 0-40 0-40 0-40 0-40 0-40 0-40 0-40 0-40 0-40 0-40 0-40 0-40 0-40 0-40 0-40 0-40 0-40 0-40 0-40 0-40 0-40 0-40 0-40 0-40 0-40 0-40 0 0-40 0-40 0-40 0-40 0-40 0-40 0-40 0-18 40-13 28-9 12-4 40-12 40-12 40-12 40-11 40-11 40-11 25-7 15-4 40-12 40-12 35-12 5-2 40-14 40-16 20-8 20-8 40-16 40-16 40-15 40-14 33-11 7-2 40-14 40-16 16-8 24-12 40-25 5-3 35-23 24-17 16-12 36-28 4-3 40-29 14-8 26-12 40-11 40-6 40-4 40-5 13-2 27-5 40-17 28-18 12-7 40-28 6-5 34-23 23-17 17-12 38-28 2-1 40-30 12-9 28-19 34-21 6-3 40-20 40-15 6-2 34-11 40-12 40-9 40-7 8-1 32-7 40-19 13-14 27-32 5-8 30-40 5-5 37-35 3-2 40-16 40-8 40-4 40-1 40-1 40-2 40-4 11-2 29-4 40-8 40-12 33-16 7-4 40-26 11-10 29-27 12-13 28-30 10-10 30-28 14-12 26-22 19-18 21-20 19-20 21-21 19-19 21-18 38-22zM10303 2282l-7 40 9 25 8 15 32 25 40 13 18 2 22 3 31-3 9-1 39-39-6-40-33-36-3-4-37-18-40-12-40 1-40 27z" fill="#f1fc06"/>
<path d="M10305 2077l40-10 40 8 12 7 28 22 16 18 15 40-31 35-9 5-31 4-30-4-10-4-40-5-40 6-8 3-32 27-5 13-12 40-3 40 3 40 11 40 6 19 9 21 15 40 1 40-25 38-1 2-39 37-4 3-36 29-15 11-25 20-23 20-16 40 18 40 21 21 28 19 12 5 40 9 40 4 40 0 40-2 40-3 40-2 40-2 40-1 40 0 40 0 40 0 40 0 40 1 40 0 40 0 40 0 40 0 40 0 40 0 40-2 40-4 26-3 14-2 40-8 40-10 0 20 0 40 0 40 0 40 0 40 0 40 0 40 0 40 0 40 0 40 0 40 0 40 0 40 0 40 0 40 0 40 0 40 0 40 0 40 0 40 0 40 0 40 0 40-40 0-40 0-40 0-40 0-40 0-40 0-40 0-40 0-40 0-40 0-40 0-40 0-40 0-40 0-40 0-40 0-40 0-40 0-40 0-40 0-40 0-40 0-40 0-40 0-40 0-40 0-40 0-40 0-40 0-40 0-40 0-40 0-40 0-40 0-40 0-40 0-40 0-40 0-40 0-40 0-40 0-40 0-40 0-40 0-40 0-40 0-40 0-40 0-40 0-40 0-40 0-40 0-40 0-40 0-40 0-40 0-40 0-40 0-40 0-40 0-40 0-40 0-40 0-40 0-40 0-40 0-40 0-40 0-40 0-40 0-40 0-40 0-40 0-40 0-40 0-40 0-40 0-40 0-40 0-40 0-40 0-40 0-40 0-40 0-40 0-40 0-40 0-40 0-40 0-40 0-40 0-40 0-40 0-40 0 0-40 0-40 0-40 0-40 0-40 0-40 0-12 40-14 40-14 40-13 40-13 40-13 5-1 35-10 40-12 40-11 24-7 16-5 40-11 40-12 35-12 5-2 40-14 40-16 19-8 21-9 40-17 32-14 8-3 40-16 40-15 16-6 24-8 40-13 40-13 14-6 26-12 40-24 6-4 34-23 23-17 17-12 39-28 1-1 40-32 10-7 30-17 40-15 40-8 1 0 39-3 40-3 40-3 40-10 35-21 5-3 40-30 10-7 30-22 24-18 16-11 38-29 2-1 40-30 13-9 27-19 35-21 5-3 40-20 40-16 2-1 38-13 40-11 40-8 40-4 40-1 40-3 40-24 17-16 23-35 3-5 24-40 13-17 24-23 16-10 40-12 40-6 40-2 40-1 40-3 40-4 11-2 29-4 40-6 40-9 40-12 23-9 17-8 40-25 9-7 31-29 11-11 29-37 4-3 36-24 32-16 8-4 40-27 4-9 28-40 8-9 32-31z" fill="#feed00"/>
<path d="M9625 2477l40-5 40-3 40-4 40-6 40-7 40-8 40-2 40 4 40 11 32 25 0 40-18 40-14 20-12 20-25 40-3 6-19 34-17 40-4 13-14 27-25 40-1 2-40 16-40 6-40 13-5 3-35 25-13 15-24 40-3 34 0 6 0 1 30 39 10 5 40 15 40 3 40-14 16-9 24-26 18-14 22-27 37-13 3-1 40-3 40 1 40 2 19 1 21 1 40 0 40 0 20-1 20-1 40-5 40-5 40-5 40-5 40-5 40-4 40-2 40-2 40-1 40 0 40-1 40-1 40-1 40-1 16-1 24-1 40-2 40-3 40-3 40-3 40-3 40-5 40-7 0 27 0 40 0 40 0 40 0 40 0 40 0 40 0 40 0 40 0 40 0 40 0 40 0 40 0 40 0 40 0 40 0 40 0 40 0 40 0 40 0 40-40 0-40 0-40 0-40 0-40 0-40 0-40 0-40 0-40 0-40 0-40 0-40 0-40 0-40 0-40 0-40 0-40 0-40 0-40 0-40 0-40 0-40 0-40 0-40 0-40 0-40 0-40 0-40 0-40 0-40 0-40 0-40 0-40 0-40 0-40 0-40 0-40 0-40 0-40 0-40 0-40 0-40 0-40 0-40 0-40 0-40 0-40 0-40 0-40 0-40 0-40 0-40 0-40 0-40 0-40 0-40 0-40 0-40 0-40 0-40 0-40 0-40 0-40 0-40 0-40 0-40 0-40 0-40 0-40 0-40 0-40 0-40 0-40 0-40 0-40 0-40 0-40 0-40 0-40 0-40 0-40 0-40 0-40 0-40 0-40 0-40 0-40 0-40 0-40 0-40 0-40 0-40 0-40 0-40 0 0-40 0-40 0-40 0-40 0-40 0-5 40-15 40-15 13-5 27-10 40-13 40-13 11-4 29-9 40-12 40-12 26-7 14-4 40-12 40-12 37-12 3-1 40-14 40-16 22-9 18-7 40-18 31-15 9-4 40-18 40-17 1-1 39-14 40-12 40-11 9-3 31-12 40-23 8-5 32-23 23-17 17-12 37-28 3-2 40-30 11-8 29-19 40-19 9-2 31-7 40-5 40-2 40-3 40-6 40-17 40-27 18-13 22-16 32-24 8-6 40-30 5-4 35-26 20-14 20-14 40-26 40-21 40-18 2-1 38-14 40-12 40-8 40-2 40-1 40-2 3-1 37-9 40-19 18-12 22-24 14-16 26-39 1-1 39-33 18-7z" fill="#ffe200"/>
<path d="M9425 2679l40-2 40-3 40-2 40 7 5 3 17 40-6 40-14 40-2 3-18 37-22 33-5 7-35 30-24 10-16 5-40 4-40 0-40 9-28 22-12 20-11 20-4 40 15 40 40 11 40-5 33-6 7-2 40-10 40-8 40-2 40 5 40 8 38 9 2 0 40 6 40 2 40-2 35-6 5-1 40-13 40-16 26-10 14-7 40-15 40-11 39-7 1 0 40-6 40-5 40-3 40-4 40-5 40-5 40-5 40-5 17-2 23-3 40-4 40-3 40-2 40-1 40-1 40 0 40-1 40-1 40-3 40-2 40-2 40-2 40-2 40-2 40-2 40-4 35-5 5-1 0 1 0 40 0 40 0 40 0 40 0 40 0 40 0 40 0 40 0 40 0 40 0 40 0 40 0 40 0 40 0 40 0 40 0 40 0 40 0 40-40 0-40 0-40 0-40 0-40 0-40 0-40 0-40 0-40 0-40 0-40 0-40 0-40 0-40 0-40 0-40 0-40 0-40 0-40 0-40 0-40 0-40 0-40 0-40 0-40 0-40 0-40 0-40 0-40 0-40 0-40 0-40 0-40 0-40 0-40 0-40 0-40 0-40 0-40 0-40 0-40 0-40 0-40 0-40 0-40 0-40 0-40 0-40 0-40 0-40 0-40 0-40 0-40 0-40 0-40 0-40 0-40 0-40 0-40 0-40 0-40 0-40 0-40 0-40 0-40 0-40 0-40 0-40 0-40 0-40 0-40 0-40 0-40 0-40 0-40 0-40 0-40 0-40 0-40 0-40 0-40 0-40 0-40 0-40 0-40 0-40 0-40 0-40 0-40 0-40 0-40 0-40 0-40 0-40 0 0-40 0-40 0-40 0-37 7-3 33-13 40-16 28-11 12-4 40-15 40-14 20-7 20-7 40-12 40-12 30-9 10-3 40-12 40-12 40-13 40-14 40-14 29-12 11-5 40-18 35-17 5-2 40-21 34-17 6-3 40-16 40-13 31-8 9-2 40-12 40-20 10-6 30-21 25-19 15-11 37-29 3-2 40-30 11-8 29-20 40-20 40-13 40-6 40-4 40-3 40-7 23-7 17-6 40-18 28-16 12-8 40-28 6-4 34-25 21-15 19-14 36-26 4-3 40-26 18-11 22-12 40-21 16-7 24-10 40-13 40-10 40-2 40 0 40-3 17-2z" fill="#ffd700"/>
<path d="M9225 2755l40-8 40-1 40 2 40 4 40 10 23 40-14 40-9 8-40 13-40 11-13 8-27 13-28 27-12 15-19 25-21 40-15 40-8 40-1 40 12 40 12 13 40 18 40-9 40-19 7-3 33-15 40-12 40-5 40-1 40 1 40 4 40 4 40 3 40 1 40-1 40-4 40-5 40-8 8-2 32-9 40-13 40-13 16-5 24-8 40-11 40-9 40-7 36-5 4-1 40-5 40-5 40-5 40-4 40-5 40-4 40-4 40-2 40-2 40-2 40 0 40-1 33 0 7 0 40-2 40-2 40-1 40-2 40-1 40 0 40-1 40-1 40-3 40-4 0 17 0 40 0 40 0 40 0 40 0 40 0 40 0 40 0 40 0 40 0 40 0 40 0 40 0 40 0 40 0 40 0 40 0 40-40 0-40 0-40 0-40 0-40 0-40 0-40 0-40 0-40 0-40 0-40 0-40 0-40 0-40 0-40 0-40 0-40 0-40 0-40 0-40 0-40 0-40 0-40 0-40 0-40 0-40 0-40 0-40 0-40 0-40 0-40 0-40 0-40 0-40 0-40 0-40 0-40 0-40 0-40 0-40 0-40 0-40 0-40 0-40 0-40 0-40 0-40 0-40 0-40 0-40 0-40 0-40 0-40 0-40 0-40 0-40 0-40 0-40 0-40 0-40 0-40 0-40 0-40 0-40 0-40 0-40 0-40 0-40 0-40 0-40 0-40 0-40 0-40 0-40 0-40 0-40 0-40 0-40 0-40 0-40 0-40 0-40 0-40 0-40 0-40 0-40 0-40 0-40 0-40 0-40 0-40 0-40 0-40 0-40 0 0-40 0-40 0-27 31-13 9-4 40-17 40-17 6-2 34-14 40-15 31-11 9-3 40-13 40-13 37-11 3-1 40-12 40-12 40-13 6-2 34-12 40-14 38-14 2-1 40-17 40-19 5-3 35-19 35-21 5-3 40-20 40-15 7-2 33-9 40-11 40-16 7-4 33-20 28-20 12-9 40-31 40-31 13-9 27-19 37-21 3-1 40-15 40-9 40-5 40-6 20-4 20-4 40-8 40-11 40-17 40-20 32-20 8-5 40-27 12-8 28-19 31-21 9-6 40-23 18-11 22-11 40-20 21-9z" fill="#ffcc00"/>
<path d="M9025 2954l40-16 40-7 27 31-2 40-8 40-8 40-4 40 3 40 14 40 18 23 20 17 20 10 40 8 40-2 40-11 10-5 30-15 40-22 6-3 34-14 40-5 40 0 40 3 40 3 40 3 40 1 40 0 40-3 40-4 40-4 40-7 40-8 18-5 22-6 40-12 40-13 29-9 11-3 40-12 40-9 40-8 40-6 17-2 23-3 40-4 40-4 40-4 40-4 40-3 40-3 40-2 40-2 40-1 40 0 40-1 40-1 40-1 40-1 40 0 40 0 40 0 40 1 40 0 40-1 40-2 0 36 0 40 0 40 0 40 0 40 0 40 0 40 0 40 0 40 0 40 0 40 0 40 0 40 0 40 0 40 0 40-40 0-40 0-40 0-40 0-40 0-40 0-40 0-40 0-40 0-40 0-40 0-40 0-40 0-40 0-40 0-40 0-40 0-40 0-40 0-40 0-40 0-40 0-40 0-40 0-40 0-40 0-40 0-40 0-40 0-40 0-40 0-40 0-40 0-40 0-40 0-40 0-40 0-40 0-40 0-40 0-40 0-40 0-40 0-40 0-40 0-40 0-40 0-40 0-40 0-40 0-40 0-40 0-40 0-40 0-40 0-40 0-40 0-40 0-40 0-40 0-40 0-40 0-40 0-40 0-40 0-40 0-40 0-40 0-40 0-40 0-40 0-40 0-40 0-40 0-40 0-40 0-40 0-40 0-40 0-40 0-40 0-40 0-40 0-40 0-40 0-40 0-40 0-40 0-40 0-40 0-40 0-40 0-40 0-40 0 0-40 0-15 40-17 17-8 23-10 40-18 26-12 14-6 40-17 40-15 7-2 33-11 40-13 40-13 8-3 32-10 40-12 40-13 13-5 27-9 40-13 40-14 10-4 30-12 40-17 21-11 19-11 40-26 4-3 36-22 37-18 3-1 40-13 40-12 40-14 40-20 32-20 8-6 40-30 5-4 35-28 16-12 24-17 38-23 2-1 40-17 40-10 40-7 33-5 7-1 40-6 40-6 40-6 40-8 40-12 4-1 36-12 40-18 23-10z" fill="#ffc100"/>
<path d="M8745 3080l40-2 40 1 40 2 13 1 27 4 40 14 29 22 11 16 11 24 17 40 12 23 8 17 29 40 3 3 40 28 26 9 14 4 40 3 40-4 14-3 26-5 40-14 40-18 7-3 33-16 40-17 32-7 8-2 40-2 40 2 40 2 9 0 31 1 40 1 40 0 33-2 7 0 40-4 40-4 40-6 40-8 40-10 26-8 14-4 40-13 40-13 31-10 9-3 40-11 40-10 40-7 40-5 40-4 40-4 40-3 40-4 40-3 40-2 40-3 40-2 40-1 40 0 40-1 40-1 40 0 40-1 40 1 40 1 40 1 40 1 40 1 40 0 40 1 0 19 0 40 0 40 0 40 0 40 0 40 0 40 0 40 0 40 0 40 0 40 0 40 0 40 0 40 0 40-40 0-40 0-40 0-40 0-40 0-40 0-40 0-40 0-40 0-40 0-40 0-40 0-40 0-40 0-40 0-40 0-40 0-40 0-40 0-40 0-40 0-40 0-40 0-40 0-40 0-40 0-40 0-40 0-40 0-40 0-40 0-40 0-40 0-40 0-40 0-40 0-40 0-40 0-40 0-40 0-40 0-40 0-40 0-40 0-40 0-40 0-40 0-40 0-40 0-40 0-40 0-40 0-40 0-40 0-40 0-40 0-40 0-40 0-40 0-40 0-40 0-40 0-40 0-40 0-40 0-40 0-40 0-40 0-40 0-40 0-40 0-40 0-40 0-40 0-40 0-40 0-40 0-40 0-40 0-40 0-40 0-40 0-40 0-40 0-40 0-40 0-40 0-40 0-40 0-40 0-40 0-40 0-40 0-40 0 0-2 40-17 40-19 5-2 35-17 40-19 9-4 31-14 40-16 27-10 13-5 40-13 40-14 24-8 16-5 40-14 40-13 23-8 17-6 40-13 40-12 26-9 14-5 40-15 40-20 40-25 20-15 20-14 40-26 1 0 39-16 40-13 33-11 7-2 40-16 39-22 1-1 40-27 15-12 25-20 25-20 15-12 40-26 4-2 36-16 40-12 40-7 40-4 8-1z" fill="#ffb200"/>
<path d="M8585 3152l40-11 40-5 40 0 40 3 40 7 40 14 5 2 35 25 15 15 25 33 4 7 24 40 12 21 12 19 28 38 2 2 38 30 26 10 14 4 40 3 40-3 22-4 18-3 40-10 40-13 36-14 4-1 40-18 40-18 9-3 31-12 40-10 40-4 40-1 40 1 40 1 40 0 40 0 40-1 40-2 40-5 40-7 1 0 39-8 40-9 40-12 34-11 6-2 40-13 40-14 33-11 7-2 40-11 40-8 40-6 40-4 40-4 40-3 19-2 21-2 40-3 40-3 40-3 40-2 40-2 40-1 40 0 40-1 40 0 40 1 40 1 40 1 40 1 40 2 40 1 40 2 40 2 0 6 0 40 0 40 0 40 0 40 0 40 0 40 0 40 0 40 0 40 0 40 0 40 0 40 0 40-40 0-40 0-40 0-40 0-40 0-40 0-40 0-40 0-40 0-40 0-40 0-40 0-40 0-40 0-40 0-40 0-40 0-40 0-40 0-40 0-40 0-40 0-40 0-40 0-40 0-40 0-40 0-40 0-40 0-40 0-40 0-40 0-40 0-40 0-40 0-40 0-40 0-40 0-40 0-40 0-40 0-40 0-40 0-40 0-40 0-40 0-40 0-40 0-40 0-40 0-40 0-40 0-40 0-40 0-40 0-40 0-40 0-40 0-40 0-40 0-40 0-40 0-40 0-40 0-40 0-40 0-40 0-40 0-40 0-40 0-40 0-40 0-40 0-40 0-40 0-40 0-40 0-40 0-40 0-40 0-40 0-40 0-40 0-40 0-40 0-40 0-40 0-40 0-40 0-40 0-40 0-6 0 6-3 40-19 38-18 2-1 40-17 40-16 15-6 25-9 40-15 40-14 6-2 34-12 40-14 39-14 1-1 40-12 40-11 40-12 12-4 28-10 40-16 25-14 15-9 40-28 4-3 36-26 19-14 21-11 40-15 40-13 4-1 36-11 40-19 17-10 23-14 34-26 6-5 40-33 2-2 38-28 20-12z" fill="#ffa700"/>
<path d="M10545 3201l40-3 40-3 40-2 40 0 40 0 40 1 40 1 40 1 40 1 40 0 40 1 40 2 21 2 19 2 40 6 0 32 0 40 0 40 0 40 0 40 0 40 0 40 0 40 0 40 0 40 0 40 0 40-40 0-40 0-40 0-40 0-40 0-40 0-40 0-40 0-40 0-40 0-40 0-40 0-40 0-40 0-40 0-40 0-40 0-40 0-40 0-40 0-40 0-40 0-40 0-40 0-40 0-40 0-40 0-40 0-40 0-40 0-40 0-40 0-40 0-40 0-40 0-40 0-40 0-40 0-40 0-40 0-40 0-40 0-40 0-40 0-40 0-40 0-40 0-40 0-40 0-40 0-40 0-40 0-40 0-40 0-40 0-40 0-40 0-40 0-40 0-40 0-40 0-40 0-40 0-40 0-40 0-40 0-40 0-40 0-40 0-40 0-40 0-40 0-40 0-40 0-40 0-40 0-40 0-40 0-40 0-40 0-40 0-40 0-40 0-40 0-40 0-40 0-40 0-40 0-6 0 6-3 40-17 40-16 10-4 30-11 40-15 37-14 3-1 40-14 40-15 32-10 8-3 40-10 40-10 40-12 15-5 25-8 40-17 29-15 11-7 40-26 11-7 29-21 31-19 9-4 40-14 40-12 23-10 17-6 40-19 22-15 18-12 35-28 5-4 40-34 3-2 37-24 40-14 40-1 40 8 40 18 20 13 20 21 15 19 23 40 2 4 16 36 15 40 9 23 8 17 23 40 9 11 40 29 40 6 40-4 8-2 32-8 40-12 40-15 13-5 27-10 40-15 36-15 4-2 40-17 40-18 6-3 34-15 40-14 40-11 2 0 38-5 40-3 40 0 40 0 40 0 40-1 40-1 40-2 40-4 40-6 40-7 40-10 4-1 36-10 40-13 40-14 8-3 32-12 40-14 40-13 5-1 35-8 40-7 40-4 40-4 40-4 40-3 40-4 40-3 33-3z" fill="#ff9c00"/>
<path d="M10705 3242l2 0 38 2 40 3 40 2 40 2 40 0 40-1 40-1 40 3 40 8 40 8 0 14 0 40 0 40 0 40 0 40 0 40 0 40 0 40 0 40 0 40 0 40-40 0-40 0-40 0-40 0-40 0-40 0-40 0-40 0-40 0-40 0-40 0-40 0-40 0-40 0-40 0-40 0-40 0-40 0-40 0-40 0-40 0-40 0-40 0-40 0-40 0-40 0-40 0-40 0-40 0-40 0-40 0-40 0-40 0-40 0-40 0-40 0-40 0-40 0-40 0-40 0-40 0-40 0-40 0-40 0-40 0-40 0-40 0-40 0-40 0-40 0-40 0-40 0-40 0-40 0-40 0-40 0-40 0-40 0-40 0-40 0-40 0-40 0-40 0-40 0-40 0-40 0-40 0-40 0-40 0-40 0-40 0-40 0-40 0-40 0-40 0-40 0-40 0-40 0-40 0-40 0-40 0-40 0-40 0-40 0-27 0 27-10 40-15 40-15 1 0 39-13 40-12 40-11 16-4 24-5 40-10 40-9 40-11 16-5 24-7 40-13 40-12 23-8 17-7 40-17 40-15 2-1 38-11 40-14 36-15 4-2 40-19 29-19 11-7 40-23 40-6 37 36 3 6 10 34 10 40 16 40 4 6 20 34 20 20 19 20 21 16 37 24 3 2 40 16 40 7 40-2 40-10 32-13 8-3 40-20 30-17 10-5 40-22 24-13 16-8 40-20 23-12 17-8 40-18 27-14 13-6 40-18 40-16 40-10 40-6 40-3 40-2 40-1 40-2 40-2 40-3 40-3 40-3 40-5 3 0 37-5 40-8 40-10 40-13 10-4 30-11 40-16 33-13 7-3 40-14 40-11 40-8 26-4 14-2 40-4 40-4 40-4 40-4 40-4 40-4 40-4 40-4 40-4 38-2z" fill="#ff9100"/>
<path d="M10545 3319l40-5 40-4 40-3 40-2 40 2 40 4 40 3 40 2 40 2 40 0 40 1 26 3 14 2 40 8 40 7 0 23 0 40 0 40 0 40 0 40 0 40 0 40 0 40 0 40-40 0-40 0-40 0-40 0-40 0-40 0-40 0-40 0-40 0-40 0-40 0-40 0-40 0-40 0-40 0-40 0-40 0-40 0-40 0-40 0-40 0-40 0-40 0-40 0-40 0-40 0-40 0-40 0-40 0-40 0-40 0-40 0-40 0-40 0-40 0-40 0-40 0-40 0-40 0-40 0-40 0-40 0-40 0-40 0-40 0-40 0-40 0-40 0-40 0-19 0 19-11 40-24 10-5 30-17 40-21 4-2 36-16 40-17 17-7 23-10 40-15 40-13 7-2 33-6 40-6 40-3 40-4 40-3 40-5 40-5 40-6 27-2 13-1 40-2 40-4 40-6 40-9 40-12 15-6 25-9 40-17 30-14 10-4 40-17 40-13 20-6 20-5 40-7 40-6 40-5 40-5 40-5 40-5 15-2zM8105 3641l40-5 40-3 40-1 40 2 40 5 15 3 25 5 40 8 40 11 40 12 11 4-11 0-40 0-40 0-40 0-40 0-40 0-40 0-40 0-40 0-40 0-40 0-40 0-40 0-40 0-40 0-9 0 9-3 40-10 40-8 40-7 40-7 33-5z" fill="#ff8600"/>
<path d="M10545 3398l40-4 40-4 40-2 40 0 40 2 40 3 40 4 40 4 11 1 29 3 40 6 40 6 40 4 40 1 40 1 0 19 0 40 0 40 0 40 0 40 0 40 0 40-40 0-40 0-40 0-40 0-40 0-40 0-40 0-40 0-40 0-40 0-40 0-40 0-40 0-40 0-40 0-40 0-40 0-40 0-40 0-40 0-40 0-40 0-40 0-40 0-40 0-40 0-40 0-40 0-40 0-40 0-40 0-40 0-40 0-40 0-40 0-40 0-40 0-40 0-40 0-40 0-40 0-40 0-40 0-40 0 40-11 40-11 40-11 24-7 16-4 40-9 40-6 40-5 40-3 40-3 40-2 40-3 30-5 10-2 40-7 40-7 40-7 40-8 39-9 1 0 40-11 40-15 28-14 12-6 40-24 17-10 23-11 40-14 40-12 10-3 30-7 40-8 40-8 40-8 40-7 14-2z" fill="#ff7700"/>
<path d="M10505 3515l40-9 40-7 40-4 40-3 40 0 40 0 40 2 40 2 40 3 40 3 40 4 40 2 40 1 40 0 40-2 0 15 0 40 0 40 0 40 0 40-40 0-40 0-40 0-40 0-40 0-40 0-40 0-40 0-40 0-40 0-40 0-40 0-40 0-40 0-40 0-40 0-40 0-40 0-40 0-40 0-40 0-40 0-40 0-18 0 18-4 40-15 36-21 4-3 40-29 11-8 29-20 35-20 5-2 40-18 40-15 16-5z" fill="#ff6c00"/>
<path d="M10825 3600l40-1 40 0 40-1 40-1 40-1 40-2 40-3 0 11 0 40 0 40-40 0-40 0-40 0-40 0-40 0-40 0-40 0-40 0-40 0-40 0-40 0-40 0-40 0-40 0-40 0-40 0-10 0 10-5 40-18 40-15 6-2 34-10 40-10 40-6 40-6 40-4 40-3 11-1z" fill="#ff6000"/>
<path d="M11065 3681l40-5 0 6-40 0-13 0z" fill="#ff5500"/>
</g>
<g fill="#fff" stroke="none">
<path d="M1025.5 33 1024.5 35.5 1027.5 38.5 1025 41.5 1021 46.5 1019 51.5 1018.5 56.5 1018.5 60.5 1033.8 60.5 1033.5 56.5 1034.5 51.5 1034 47 1031.5 43.5 1029.5 39.5 1030 35.5 1031 31.5Z"/>
<path d="M806 150.5 853 150.5 853 161 830.5 161 830.5 190.5 806 190.5Z"/>
<path d="M821 200.5 830.5 200.5 830.5 219.5 821 219.5Z"/>
<path d="M897 161 903.5 161 903.5 173.5 897 173.5Z"/>
<path d="M876 175.5 874.5 181.5 880 185 885 188 886 193.5 887 200.5 886.5 208.5 887.5 215.5 891 215.5 893 190.5 886 180.5Z"/>
<path d="M1030 137.5 1035.5 137.5 1035.5 141.5 1032 141.5Z"/>
<path d="M747 351.5 757 347.5 764 346.5 766 348.5 759 350.5 751 354 744 355Z"/>
<path d="M741 355.5 743 357.5 743.5 361.5 741 363.5 739 365 738.5 356.5Z"/>
<path d="M984 191.5 986 187.5 989 188 986.5 190.5 987 193.5 984.5 196.5Z"/>
<path d="M995 191.5 1001 188 1001 185 997 188.5Z"/>
<path d="M977 205 979 200.5 982 197.5 978 200 975 204.5Z"/>
</g>
<g fill="#fff" stroke="#1a1a1a" stroke-width="0.75" stroke-linejoin="round">
<path d="M738.5 24.2 1025.5 24.2 1025.8 30 1022.2 28.7 1025.2 31.5 1025.5 33 1024.5 35.5 1027.5 38.5 1025 41.5 1021 46.5 1019 51.5 1018.5 56.5 1018.5 60.5 1018.5 64.5 1017 68.5 1016 73.5 1012 77.5 1008 81.5 1004 86.5 1001 89.5 998 95.5 992 102.5 985 108.5 980 113.5 975 118.5 970 124.5 966 128 961 131 957 133.5 951 134 946 133 943 131.5 942.5 128.5 939 128.5 936 131.5 933 134 929 135 927 138 923 141 920 144.5 920 149.5 919 152.5 914 156.5 909 160 904 162 900 164.5 898.5 168.5 900 171 904 173.5 907 176.5 910 179.5 913 184.5 916 190.5 917.5 196.5 918 202.5 917 206.5 914 210.5 910 213 906 214 901 215 896 216.5 892 218.8 888.5 218.5 887 216.5 888.5 214.5 888 211 888.5 212.5 890 208.5 892.5 204.5 890.5 199.5 888.5 196.5 890 194 894 193 892 189.5 891 185.5 888 183.5 884 183 880 184.5 877 182 873.5 181.5 874 178.5 876 176 880 175 880.5 171.5 880 167.5 876 165 873 164.5 870 162 864 163 858 164.5 853 167 849 170 845 172.5 841 173.5 845 170.5 846.5 168 843 167.5 844 164.5 847 161 850 159 851.5 156 850 153.5 847 152 843 152 839 154.5 835 159 831 161 826 163.5 822 167.5 819 169.5 814 169.5 810 171 808 174.5 809 178.5 813 180.5 818 181 822 183.5 822.5 188.5 825 190.5 828 190.5 830.5 188.5 834 184.5 838 183.8 842 185.3 846 186.8 850 186.8 853 187.3 854 189 853 191.5 850 192.8 846 193.3 842 194.8 838 196.5 835 199.5 832 201.3 830.5 203 828 206.5 825 210.5 822.5 214 825 216.5 830.5 218.5 833 220.5 835 225.5 837 230.5 839 234 838.5 236.5 841 238.5 844 240.5 846 244.5 847 247.5 846.5 250.5 848 253.5 848 260.5 850 263.5 849 267.5 848 271.5 846 274.5 845 279.5 842 281.5 839 284.5 837 288.5 835 291.5 831 296.5 827 303.5 827 308.5 823 311.5 819 316 815 319.5 810 323.5 806 327.5 802 330 799 333 798 335.5 791 337 785 338.5 780 339.5 777 342.5 774 341.5 772 336.5 770.5 335 771.5 341.5 768 344 764 346.5 761 346 757 347.5 752 350 747 351.5 743 353.5 741 355.5 743 357.5 743.5 361.5 741 363.5 739 365 738.5 365.9Z"/>
<path fill-rule="evenodd" d="M1018 150.5 1019.5 149 1021 148.5 1023.5 147.5 1026 149 1027 152 1027.5 154.5 1029 157.5 1031 160.5 1032.5 164.5 1032.5 168.5 1032 170.5 1029 173.5 1028 176.5 1024 179.5 1023 184.5 1023.5 189.5 1021 195.5 1019.5 200.5 1021.5 204.5 1019 208 1016.5 211 1013 213.5 1011.5 211.5 1013 208.5 1014.5 206.5 1013 206 1010.5 210 1009 210.5 1006 210 1005 214.5 1003 216.5 1001.5 213 1000 213 997.5 216.5 991 216 987 215.5 985 212.5 983 213.5 982.5 216.5 985 218.5 983 220.5 980 223.5 977 226.7 974 227.7 971 225.5 969 222 966 220.5 965 224.5 963 227.5 961 230.5 959 229 955 230 951 232.5 948 235.5 946 234.5 944.5 230.5 942.5 229.5 940.5 230.5 940 234.5 938 238.5 937 241.5 936 245.5 934 249.5 931 251.5 929 252.5 927 251 925 248.5 924 244.5 924 240.5 922 239.5 920 235.5 919 231.5 917.5 230.5 919 229.5 923 227 927 224.5 930.5 222.5 930.5 221.5 934 219.5 939 216.5 944 212 948 208.5 954 206.7 961 206.5 970 205 971 206.8 974 207.5 977 205 979 200.5 983 195.5 984 191.5 986 187.5 989 188 986.5 190.5 987 193.5 990 194.5 995 191.5 1001 188 1005 183.5 1010 176.5 1013 171.5 1013.5 167.5 1013 162.5 1014 157.5 1015.5 153.5ZM1021 150.7 1024.5 150 1025.2 152.5 1022.5 153.5 1020.6 152.3Z"/>
<path d="M1031 106.5 1035 108.5 1039 113 1044 116.5 1050 120 1057 122 1061 120 1062.5 119 1061 122.5 1060 124.5 1063 127.5 1064.5 129 1060 130 1055 131 1050 133.5 1046 136.5 1044.5 140.5 1041 139.5 1038 138 1035.5 138.5 1033.5 141.5 1031 140 1028 137.5 1025 136.5 1023 137.5 1021 136 1018.5 136.5 1017.5 139 1020 140.5 1023 141 1023 143 1020 144 1018 145.5 1016 146.5 1015 144.5 1014.5 141.5 1013 139.5 1013 136.5 1015 134 1017.5 131.5 1018.5 129 1021 129.5 1026 128.5 1027 125.5 1028.5 121.5 1030.5 117.5 1030 113.5 1029.5 109.5Z"/>
<path d="M1042.5 24.2 1044 28.5 1044.5 32.5 1043 35.5 1043 39 1045 44.5 1047 50.5 1048.5 56.5 1050 59.5 1052 63.5 1054 68.5 1056.5 71 1053 69 1049 67.3 1044 67.5 1041 69.5 1039.5 73.5 1037.5 78.5 1037.5 82.5 1039.5 86.5 1042 89.5 1044.5 93 1046.5 96 1046 98.5 1044 95 1041 93.5 1037.5 93.5 1035 97 1033.5 100.5 1032 98.5 1031.5 93.5 1033 88.5 1032.5 83.5 1034 79.5 1033.5 76.5 1031.5 72.5 1033 66.5 1033.5 60.5 1033.5 56.5 1034.5 51.5 1034 47 1031.5 43.5 1029.5 39.5 1030 35.5 1031 31.5 1031 24.2Z"/>
<path d="M845 312 847.5 314 846.5 320.5 845 327.5 844 331.5 842 336.5 839.5 341.5 837.5 346 835.5 341.5 833 336.5 831.5 331.5 832 328 835 323.5 838 318.5 841 314Z"/>
<ellipse cx="891" cy="229.3" rx="3.6" ry="1.6" transform="rotate(-10 891 229.3)" stroke-width="0.55"/>
<ellipse cx="999.5" cy="181.7" rx="1.1" ry="2.3" transform="rotate(10 999.5 181.7)" stroke-width="0.55"/>
<ellipse cx="1069" cy="117.5" rx="3.2" ry="0.9" transform="rotate(-25 1069 117.5)" stroke-width="0.55"/>
<ellipse cx="1066" cy="121.7" rx="1.3" ry="0.6" transform="rotate(-35 1066 121.7)" stroke-width="0.55"/>
<ellipse cx="1083.5" cy="111.7" rx="5.0" ry="0.9" transform="rotate(-31 1083.5 111.7)" stroke-width="0.55"/>
<ellipse cx="1093.3" cy="106.2" rx="1.5" ry="0.7" transform="rotate(-20 1093.3 106.2)" stroke-width="0.55"/>
<ellipse cx="1104" cy="102.2" rx="2.4" ry="0.8" transform="rotate(-32 1104 102.2)" stroke-width="0.55"/>
</g>
<g fill="none" stroke="#fff" stroke-width="2.2">
<path d="M738.5 364.4 V24.2 H1024.5"/>
<path d="M1031.8 24.2 H1041.8"/>
</g>
<g fill="none" stroke="#222" stroke-width="0.8" stroke-linejoin="round" stroke-linecap="round">
<path d="M971 216.5 969.5 219 968 216.5 964 215.5 961 216 956 218 951 220 946 220.5 944 220 942.5 223 939 223 934 222.7 930.5 222.3"/>
<path d="M966 220.5 964 218.5 961 219 956 220.5 951 222 948 223.5 945 225.5 943 228 942.5 229.5"/>
<path d="M930.5 222.5 932 225.5 936 227.5 939 229.5 940.5 230.5"/>
<path d="M967.5 217.5 968.5 220.5 967 220 967.5 217.5"/>
<path d="M969 222 969.5 219 971 217"/>
<path d="M920 232.5 922 234.5 921 236.5 923 238.5 925 237.5 924 234.5 926 233.5"/>
<path d="M922 239.5 924 241.5 926 240.5 927 243.5"/>
<path d="M929 252.5 928.5 248.5 929.5 246.5"/>
<path d="M831 243.5 835 242.5 838 244.5 841 245.5 845 246.5 846.5 249"/>
<path d="M847.5 254.5 843 256 838 259.5 833 261 837 262 841 260.5 845 263.5 848 266.5"/>
<path d="M1013 206 1012 208.5 1010.5 210"/>
</g>
<g fill="none" stroke="#0b3b1e" stroke-width="1.5" stroke-linecap="round">
<path d="M915.2 222 916.3 219 917.4 216.3"/>
<path d="M909.8 237 911.8 235.7"/>
<path d="M913.8 233.7 914.8 232.3"/>
<path d="M916.5 230.7 917.5 229.9"/>
<path d="M919.8 246.3 920.4 245.7"/>
<path d="M931.3 259.3 932.4 255.7"/>
<path d="M926.3 260.3 927.8 259.7"/>
<path d="M915 282 917 280.3 919.3 279.1"/>
<path d="M901 301.5 903.5 298.5 905 296.7"/>
<path d="M864 321.5 866 321"/>
<path d="M868 320 870 319"/>
<path d="M879 316.5 879.8 317.3"/>
<path d="M847.5 357.7 847.8 358.3"/>
<path d="M848 361.3 848.4 361.9"/>
<path d="M952.3 199.8 952.9 200.4"/>
<path d="M929.8 186.1 930.3 186.6"/>
<path d="M1009 215.5 1009.4 216"/>
<path d="M1012.3 232.1 1012.8 232.6"/>
<path d="M1033.5 297.5 1034 298"/>
<path d="M849.5 263 851 264.5 852 266"/>
<path d="M850 265.5 851 266.5"/>
<path d="M898 217.5 900 216.7"/>
<path d="M902 216 904 215.3"/>
<path d="M894 218.7 896 218.1"/>
<path d="M886.5 216.5 887.5 219"/>
<path d="M1072.5 127 1073 126.7"/>
<path d="M1069 129.5 1069.6 129.2"/>
<path d="M1016.8 107.5 1017.3 108"/>
</g>
</g>
<rect x="739" y="24.5" width="366.9" height="341.4" fill="none" stroke="#000" stroke-opacity="0.38" stroke-width="1.3"/>
<text x="739" y="18.8" font-size="16.6" textLength="168.8" lengthAdjust="spacingAndGlyphs">동아시아해역 해면수온</text>
<text x="909.3" y="18.8" font-size="16.6" textLength="196.2" lengthAdjust="spacingAndGlyphs">(2071년 - 2100년 1월, °C)</text>
<text x="732.6" y="66.7" text-anchor="end" font-size="16" textLength="35.6" lengthAdjust="spacingAndGlyphs">50°N</text>
<path d="M736.2 60.2h2.5" stroke="#999" stroke-width="0.9"/>
<text x="732.6" y="168.6" text-anchor="end" font-size="16" textLength="35.6" lengthAdjust="spacingAndGlyphs">40°N</text>
<path d="M736.2 162.1h2.5" stroke="#999" stroke-width="0.9"/>
<text x="732.6" y="270.5" text-anchor="end" font-size="16" textLength="35.6" lengthAdjust="spacingAndGlyphs">30°N</text>
<path d="M736.2 264h2.5" stroke="#999" stroke-width="0.9"/>
<text x="732.6" y="372.4" text-anchor="end" font-size="16" textLength="35.6" lengthAdjust="spacingAndGlyphs">20°N</text>
<path d="M736.2 365.9h2.5" stroke="#999" stroke-width="0.9"/>
<text x="738.6" y="386.2" text-anchor="middle" font-size="16">110°E</text>
<path d="M738.6 366.5v2.3" stroke="#999" stroke-width="0.9"/>
<text x="830.5" y="386.2" text-anchor="middle" font-size="16">120°E</text>
<path d="M830.5 366.5v2.3" stroke="#999" stroke-width="0.9"/>
<text x="922.3" y="386.2" text-anchor="middle" font-size="16">130°E</text>
<path d="M922.3 366.5v2.3" stroke="#999" stroke-width="0.9"/>
<text x="1014.1" y="386.2" text-anchor="middle" font-size="16">140°E</text>
<path d="M1014.1 366.5v2.3" stroke="#999" stroke-width="0.9"/>
<text x="1106" y="386.2" text-anchor="middle" font-size="16">150°E</text>
<path d="M1106 366.5v2.3" stroke="#999" stroke-width="0.9"/>
<text x="1066.3" y="354.6" font-size="14.6" fill="#330a00" fill-opacity="0.95" textLength="33" lengthAdjust="spacingAndGlyphs">OCPC</text>
<linearGradient id="cbr" gradientUnits="userSpaceOnUse" x1="755.3" x2="1089.4" y1="0" y2="0"><stop offset="0%" stop-color="#000080"/><stop offset="2.5%" stop-color="#00009b"/><stop offset="5%" stop-color="#0000b6"/><stop offset="7.5%" stop-color="#0000d6"/><stop offset="10%" stop-color="#0000f1"/><stop offset="12.5%" stop-color="#0000ff"/><stop offset="15%" stop-color="#0018ff"/><stop offset="17.5%" stop-color="#0030ff"/><stop offset="20%" stop-color="#004cff"/><stop offset="22.5%" stop-color="#0064ff"/><stop offset="25%" stop-color="#0080ff"/><stop offset="27.5%" stop-color="#0098ff"/><stop offset="30%" stop-color="#00b0ff"/><stop offset="32.5%" stop-color="#00ccff"/><stop offset="35%" stop-color="#00e4f8"/><stop offset="37.5%" stop-color="#16ffe1"/><stop offset="40%" stop-color="#29ffce"/><stop offset="42.5%" stop-color="#3cffba"/><stop offset="45%" stop-color="#53ffa4"/><stop offset="47.5%" stop-color="#66ff90"/><stop offset="50%" stop-color="#7dff7a"/><stop offset="52.5%" stop-color="#90ff66"/><stop offset="55%" stop-color="#a4ff53"/><stop offset="57.5%" stop-color="#baff3c"/><stop offset="60%" stop-color="#ceff29"/><stop offset="62.5%" stop-color="#e4ff13"/><stop offset="65%" stop-color="#f8f500"/><stop offset="67.5%" stop-color="#ffde00"/><stop offset="70%" stop-color="#ffc400"/><stop offset="72.5%" stop-color="#ffae00"/><stop offset="75%" stop-color="#ff9400"/><stop offset="77.5%" stop-color="#ff7e00"/><stop offset="80%" stop-color="#ff6800"/><stop offset="82.5%" stop-color="#ff4e00"/><stop offset="85%" stop-color="#ff3800"/><stop offset="87.5%" stop-color="#ff1e00"/><stop offset="90%" stop-color="#f10800"/><stop offset="92.5%" stop-color="#d60000"/><stop offset="95%" stop-color="#b60000"/><stop offset="97.5%" stop-color="#9b0000"/><stop offset="100%" stop-color="#800000"/></linearGradient>
<path d="M755.6 396.1L738.6 400.8L755.6 405.4Z" fill="#000080"/>
<path d="M1089.1 396.1L1106.3 400.8L1089.1 405.4Z" fill="#800000"/>
<rect x="755.3" y="396.1" width="334.1" height="9.3" fill="url(#cbr)"/>
<path d="M755.3 405.4v2.5" stroke="#777" stroke-width="0.9"/>
<text x="754.9" y="422.5" text-anchor="middle" font-size="15.2">-5</text>
<path d="M797.1 405.4v2.5" stroke="#777" stroke-width="0.9"/>
<text x="797.1" y="422.5" text-anchor="middle" font-size="15.2">0</text>
<path d="M838.8 405.4v2.5" stroke="#777" stroke-width="0.9"/>
<text x="838.8" y="422.5" text-anchor="middle" font-size="15.2">5</text>
<path d="M880.6 405.4v2.5" stroke="#777" stroke-width="0.9"/>
<text x="880.6" y="422.5" text-anchor="middle" font-size="15.2">10</text>
<path d="M922.4 405.4v2.5" stroke="#777" stroke-width="0.9"/>
<text x="922.4" y="422.5" text-anchor="middle" font-size="15.2">15</text>
<path d="M964.1 405.4v2.5" stroke="#777" stroke-width="0.9"/>
<text x="964.1" y="422.5" text-anchor="middle" font-size="15.2">20</text>
<path d="M1005.9 405.4v2.5" stroke="#777" stroke-width="0.9"/>
<text x="1005.9" y="422.5" text-anchor="middle" font-size="15.2">25</text>
<path d="M1047.6 405.4v2.5" stroke="#777" stroke-width="0.9"/>
<text x="1047.6" y="422.5" text-anchor="middle" font-size="15.2">30</text>
<path d="M1089.4 405.4v2.5" stroke="#777" stroke-width="0.9"/>
<text x="1089.4" y="422.5" text-anchor="middle" font-size="15.2">35</text>
</svg>
</body></html>
